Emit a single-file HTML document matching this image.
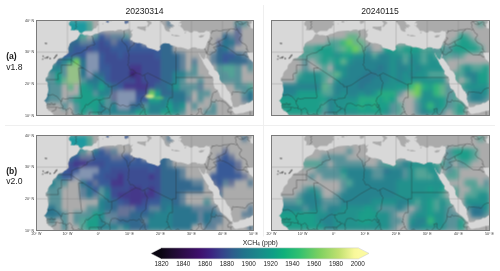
<!DOCTYPE html><html><head><meta charset="utf-8"><style>html,body{margin:0;padding:0;background:#fff;width:500px;height:271px;overflow:hidden}svg{display:block;will-change:transform}</style></head><body>
<svg width="500" height="271" viewBox="0 0 500 271">
<rect width="500" height="271" fill="#fff"/>
<defs>
<clipPath id="land_a"><path clip-rule="evenodd" d="M6.20 31.00 L5.92 30.11 L5.67 29.98 L5.42 29.79 L5.16 29.12 L4.87 28.96 L4.34 28.54 L3.91 28.48 L3.68 28.19 L3.69 28.04 L3.39 27.83 L3.32 27.62 L3.16 26.85 L3.29 26.41 L2.87 25.63 L2.38 25.27 L2.82 25.08 L3.30 24.38 L3.54 23.86 L3.45 23.33 L3.73 22.83 L3.85 21.89 L3.74 20.90 L3.62 20.41 L3.72 19.91 L3.46 19.43 L2.94 19.00 L3.03 18.11 L3.41 17.84 L3.74 17.32 L3.67 16.98 L4.02 16.28 L4.57 15.64 L4.91 15.48 L5.18 14.90 L5.20 14.36 L5.56 13.75 L6.23 13.38 L6.86 12.36 L7.38 11.96 L8.31 11.85 L9.10 11.17 L9.60 10.90 L10.44 10.07 L10.19 8.82 L10.56 7.96 L10.70 7.44 L11.34 6.76 L12.35 6.30 L13.09 5.89 L13.76 4.85 L14.07 4.24 L14.81 4.24 L15.41 4.67 L16.36 4.60 L17.40 4.82 L17.83 4.83 L18.79 4.28 L19.87 4.11 L20.50 3.70 L21.47 3.39 L23.16 3.22 L24.82 3.13 L25.32 3.28 L26.26 2.89 L27.33 2.88 L27.74 3.11 L28.42 3.05 L29.51 2.65 L30.21 2.77 L30.18 3.28 L31.03 2.91 L31.10 3.10 L30.60 3.59 L30.59 4.05 L30.94 4.30 L30.81 5.17 L30.15 5.67 L30.34 6.21 L30.86 6.23 L31.11 6.71 L31.49 6.86 L32.66 7.21 L33.08 7.12 L33.92 7.29 L35.25 7.73 L35.71 8.62 L36.61 8.82 L38.02 9.24 L39.09 9.73 L39.57 9.47 L40.05 9.01 L39.82 8.25 L40.13 7.76 L40.86 7.29 L41.54 7.16 L42.90 7.36 L43.24 7.81 L43.61 7.81 L43.93 7.98 L44.92 8.10 L45.16 8.43 L46.50 8.41 L47.46 8.68 L48.45 8.97 L48.91 9.13 L49.68 8.81 L50.09 8.53 L50.98 8.44 L51.69 8.57 L51.96 9.07 L52.19 8.74 L52.99 8.98 L53.77 9.03 L54.27 8.78 L54.56 8.45 L54.49 8.39 L54.75 7.93 L54.95 7.17 L55.10 6.92 L55.13 6.91 L55.48 6.09 L55.98 5.39 L56.00 5.35 L55.91 4.59 L56.15 4.18 L55.78 3.73 L56.16 3.35 L55.55 3.44 L54.72 3.20 L54.03 3.78 L52.51 3.89 L51.70 3.36 L50.62 3.32 L50.39 3.74 L49.70 3.86 L48.73 3.32 L47.64 3.34 L47.05 2.35 L46.32 1.79 L46.80 1.01 L46.17 0.54 L47.28 -0.42 L47.50 -1.50 L71.50 -1.50 L71.50 31.00Z M10.50 -1.50 L11.01 -1.54 L11.21 -1.18 L11.23 -0.76 L11.02 -0.16 L10.95 0.24 L10.55 0.61 L10.47 1.26 L10.71 1.64 L11.16 1.73 L11.25 2.35 L11.10 3.13 L11.62 3.02 L12.14 3.16 L12.55 2.90 L13.48 3.06 L13.76 3.63 L14.13 3.97 L14.62 4.05 L15.00 3.67 L15.63 3.32 L16.58 3.34 L17.85 3.33 L18.56 2.56 L19.32 2.36 L19.53 1.71 L20.11 1.26 L19.72 0.69 L20.11 -0.12 L20.72 -0.68 L20.81 -1.02 L21.20 -1.50Z M22.35 0.45 L22.70 0.05 L23.20 0.05 L23.45 0.30 L23.20 0.70 L22.75 0.60Z M21.20 1.05 L21.40 0.90 L21.60 1.00 L21.40 1.15Z M23.80 0.00 L24.30 0.05 L24.20 0.20 L23.85 0.10Z M29.21 -1.21 L29.81 -0.50 L29.67 0.82 L29.21 0.76 L28.81 1.09 L28.43 0.83 L28.39 -0.38 L28.16 -0.95 L28.71 -0.90Z M35.52 1.77 L35.16 2.56 L35.31 2.87 L35.10 3.38 L34.34 3.00 L33.83 2.90 L32.43 2.39 L32.57 1.87 L33.74 1.97 L34.76 1.86Z M34.00 -1.50 L34.06 -0.79 L34.70 -0.60 L35.00 -0.17 L35.41 -0.05 L35.72 0.46 L36.11 1.03 L35.89 1.25 L35.69 1.78 L35.68 2.09 L36.10 2.01 L36.64 1.16 L37.05 1.10 L37.17 0.58 L36.45 0.20 L36.87 -0.44 L37.74 -0.28 L38.29 0.19 L38.48 -0.17 L38.00 -1.00 L37.50 -1.50Z M39.30 -1.50 L39.32 -0.73 L39.41 -0.25 L39.96 0.09 L40.15 0.38 L40.22 0.66 L40.73 1.23 L41.12 1.69 L41.30 2.35 L41.67 3.16 L42.49 3.59 L43.15 3.58 L42.77 2.70 L43.41 2.59 L43.11 2.08 L44.04 2.34 L44.02 1.78 L43.53 1.49 L42.97 1.03 L43.35 0.81 L42.85 0.34 L42.63 -0.26 L42.81 -0.48 L43.34 0.04 L43.90 0.04 L44.41 -0.12 L43.72 -0.69 L44.93 -0.95 L45.45 -0.85 L46.06 -0.82 L46.30 -0.94 L46.60 -1.50Z M42.80 1.05 L43.30 1.10 L44.10 1.35 L44.55 1.85 L44.30 2.00 L43.60 1.50 L43.10 1.25Z M43.70 4.30 L44.25 4.63 L45.02 4.58 L45.77 4.65 L45.75 4.82 L46.29 4.70 L46.16 4.99 L44.73 5.08 L44.73 4.91 L43.52 4.72Z M54.58 4.33 L53.90 4.75 L53.97 4.94 L54.01 5.02 L52.98 5.43 L52.49 5.30 L52.26 4.90 L52.73 4.86 L52.95 4.61 L53.67 4.63Z M47.70 3.85 L48.20 3.55 L48.25 3.90 L47.85 4.10Z M45.85 0.75 L46.20 0.60 L46.60 0.95 L46.00 0.90Z M45.85 1.45 L46.15 1.45 L46.00 1.80Z M46.60 2.20 L47.05 2.25 L46.90 2.35Z M52.42 10.15 L52.32 10.24 L52.73 11.30 L53.35 12.30 L54.10 13.86 L54.47 14.40 L54.80 14.97 L55.69 16.07 L55.49 16.25 L55.53 16.90 L56.69 17.80 L56.87 18.00 L57.19 18.98 L56.97 19.16 L57.12 20.19 L57.48 21.39 L57.86 21.63 L58.41 22.00 L58.99 23.16 L59.27 24.08 L59.81 24.56 L61.18 25.51 L61.73 26.08 L62.28 26.66 L62.59 27.00 L63.08 27.30 L63.32 27.61 L63.29 28.02 L62.72 28.26 L63.15 28.54 L63.47 28.72 L63.67 29.14 L64.12 29.55 L64.61 29.56 L65.56 29.30 L66.65 29.18 L67.53 28.87 L68.02 28.81 L68.38 28.62 L68.95 28.59 L69.27 28.57 L69.73 28.42 L70.26 28.32 L70.73 27.98 L71.50 28.00 L71.50 24.60 L71.17 24.82 L69.58 25.29 L68.68 26.00 L68.24 26.05 L67.94 25.99 L67.35 26.41 L66.72 26.60 L65.88 26.65 L65.62 26.71 L65.41 26.97 L65.14 27.05 L64.99 27.30 L64.50 27.28 L64.17 27.41 L63.48 27.36 L63.22 26.78 L63.25 26.23 L63.09 25.94 L62.89 25.20 L62.60 24.79 L62.80 24.74 L62.70 24.28 L62.82 24.09 L62.78 23.65 L62.65 23.23 L62.35 22.92 L62.27 22.52 L61.75 22.17 L61.22 21.33 L60.94 20.51 L60.25 19.82 L59.80 19.66 L59.14 18.71 L59.02 18.01 L59.07 17.42 L58.49 16.31 L58.02 15.92 L57.48 15.71 L57.16 15.14 L57.21 14.91 L56.93 14.40 L56.64 14.17 L56.25 13.43 L55.64 12.62 L55.13 11.94 L54.63 11.94 L54.79 11.39 L54.83 11.04 L54.96 10.64 L54.92 10.50 L54.64 10.90 L54.43 11.66 L54.16 12.18 L53.92 12.35 L53.59 12.03 L53.14 11.58Z M67.97 10.02 L68.18 10.47 L68.09 10.69 L68.42 11.45 L68.81 12.31 L69.30 12.54 L69.47 12.89 L70.15 13.31 L70.21 13.72 L70.11 14.06 L70.24 14.39 L70.53 14.67 L70.66 15.00 L70.81 15.25 L71.50 15.40 L71.50 10.50 L70.85 11.18 L70.12 9.85 L69.58 10.01 L68.57 10.07Z M69.11 -1.28 L69.62 -0.57 L70.09 -0.53 L70.39 -0.26 L69.57 -0.18 L69.40 0.60 L69.22 0.95 L68.86 1.19 L68.88 1.68 L69.20 2.42 L70.15 2.62 L70.84 3.13 L71.50 3.20 L71.50 -1.50 L69.00 -1.50Z"/></clipPath>
<filter id="soft2" x="-1" y="-1" width="3" height="3"><feGaussianBlur stdDeviation="0.3"/></filter>
<filter id="soft" x="-0.05" y="-0.05" width="1.1" height="1.1"><feGaussianBlur stdDeviation="0.6"/></filter>
<linearGradient id="cbar" x1="0" y1="0" x2="1" y2="0">
<stop offset="0.0000" stop-color="#0a0612"/>
<stop offset="0.0556" stop-color="#1c0a2e"/>
<stop offset="0.1111" stop-color="#2c0b47"/>
<stop offset="0.1944" stop-color="#3e0f6c"/>
<stop offset="0.2500" stop-color="#3c2280"/>
<stop offset="0.3056" stop-color="#37408a"/>
<stop offset="0.3611" stop-color="#2d5c8c"/>
<stop offset="0.4167" stop-color="#21728b"/>
<stop offset="0.5000" stop-color="#1a8a8a"/>
<stop offset="0.5667" stop-color="#0e9e86"/>
<stop offset="0.6222" stop-color="#0fb07a"/>
<stop offset="0.7000" stop-color="#30c070"/>
<stop offset="0.8000" stop-color="#7cd060"/>
<stop offset="0.9000" stop-color="#c0e070"/>
<stop offset="0.9778" stop-color="#f8f89a"/>
<stop offset="1.0000" stop-color="#fbfaa0"/>
</linearGradient>
</defs>
<svg x="36.5" y="20.5" width="217.0" height="95.0" viewBox="0 0 70 30" preserveAspectRatio="none" overflow="hidden">
<rect x="0" y="0" width="70" height="30" fill="#d8d8d8"/>
<g fill="#ababab">
<polygon points="6.20,31.00 5.92,30.11 5.67,29.98 5.42,29.79 5.16,29.12 4.87,28.96 4.34,28.54 3.91,28.48 3.68,28.19 3.69,28.04 3.39,27.83 3.32,27.62 3.16,26.85 3.29,26.41 2.87,25.63 2.38,25.27 2.82,25.08 3.30,24.38 3.54,23.86 3.45,23.33 3.73,22.83 3.85,21.89 3.74,20.90 3.62,20.41 3.72,19.91 3.46,19.43 2.94,19.00 3.03,18.11 3.41,17.84 3.74,17.32 3.67,16.98 4.02,16.28 4.57,15.64 4.91,15.48 5.18,14.90 5.20,14.36 5.56,13.75 6.23,13.38 6.86,12.36 7.38,11.96 8.31,11.85 9.10,11.17 9.60,10.90 10.44,10.07 10.19,8.82 10.56,7.96 10.70,7.44 11.34,6.76 12.35,6.30 13.09,5.89 13.76,4.85 14.07,4.24 14.81,4.24 15.41,4.67 16.36,4.60 17.40,4.82 17.83,4.83 18.79,4.28 19.87,4.11 20.50,3.70 21.47,3.39 23.16,3.22 24.82,3.13 25.32,3.28 26.26,2.89 27.33,2.88 27.74,3.11 28.42,3.05 29.51,2.65 30.21,2.77 30.18,3.28 31.03,2.91 31.10,3.10 30.60,3.59 30.59,4.05 30.94,4.30 30.81,5.17 30.15,5.67 30.34,6.21 30.86,6.23 31.11,6.71 31.49,6.86 32.66,7.21 33.08,7.12 33.92,7.29 35.25,7.73 35.71,8.62 36.61,8.82 38.02,9.24 39.09,9.73 39.57,9.47 40.05,9.01 39.82,8.25 40.13,7.76 40.86,7.29 41.54,7.16 42.90,7.36 43.24,7.81 43.61,7.81 43.93,7.98 44.92,8.10 45.16,8.43 46.50,8.41 47.46,8.68 48.45,8.97 48.91,9.13 49.68,8.81 50.09,8.53 50.98,8.44 51.69,8.57 51.96,9.07 52.19,8.74 52.99,8.98 53.77,9.03 54.27,8.78 54.56,8.45 54.49,8.39 54.75,7.93 54.95,7.17 55.10,6.92 55.13,6.91 55.48,6.09 55.98,5.39 56.00,5.35 55.91,4.59 56.15,4.18 55.78,3.73 56.16,3.35 55.55,3.44 54.72,3.20 54.03,3.78 52.51,3.89 51.70,3.36 50.62,3.32 50.39,3.74 49.70,3.86 48.73,3.32 47.64,3.34 47.05,2.35 46.32,1.79 46.80,1.01 46.17,0.54 47.28,-0.42 47.50,-1.50 71.50,-1.50 71.50,31.00"/>
<polygon points="10.50,-1.50 11.01,-1.54 11.21,-1.18 11.23,-0.76 11.02,-0.16 10.95,0.24 10.55,0.61 10.47,1.26 10.71,1.64 11.16,1.73 11.25,2.35 11.10,3.13 11.62,3.02 12.14,3.16 12.55,2.90 13.48,3.06 13.76,3.63 14.13,3.97 14.62,4.05 15.00,3.67 15.63,3.32 16.58,3.34 17.85,3.33 18.56,2.56 19.32,2.36 19.53,1.71 20.11,1.26 19.72,0.69 20.11,-0.12 20.72,-0.68 20.81,-1.02 21.20,-1.50"/>
<polygon points="22.35,0.45 22.70,0.05 23.20,0.05 23.45,0.30 23.20,0.70 22.75,0.60"/>
<polygon points="21.20,1.05 21.40,0.90 21.60,1.00 21.40,1.15"/>
<polygon points="23.80,0.00 24.30,0.05 24.20,0.20 23.85,0.10"/>
<polygon points="29.21,-1.21 29.81,-0.50 29.67,0.82 29.21,0.76 28.81,1.09 28.43,0.83 28.39,-0.38 28.16,-0.95 28.71,-0.90"/>
<polygon points="35.52,1.77 35.16,2.56 35.31,2.87 35.10,3.38 34.34,3.00 33.83,2.90 32.43,2.39 32.57,1.87 33.74,1.97 34.76,1.86"/>
<polygon points="34.00,-1.50 34.06,-0.79 34.70,-0.60 35.00,-0.17 35.41,-0.05 35.72,0.46 36.11,1.03 35.89,1.25 35.69,1.78 35.68,2.09 36.10,2.01 36.64,1.16 37.05,1.10 37.17,0.58 36.45,0.20 36.87,-0.44 37.74,-0.28 38.29,0.19 38.48,-0.17 38.00,-1.00 37.50,-1.50"/>
<polygon points="39.30,-1.50 39.32,-0.73 39.41,-0.25 39.96,0.09 40.15,0.38 40.22,0.66 40.73,1.23 41.12,1.69 41.30,2.35 41.67,3.16 42.49,3.59 43.15,3.58 42.77,2.70 43.41,2.59 43.11,2.08 44.04,2.34 44.02,1.78 43.53,1.49 42.97,1.03 43.35,0.81 42.85,0.34 42.63,-0.26 42.81,-0.48 43.34,0.04 43.90,0.04 44.41,-0.12 43.72,-0.69 44.93,-0.95 45.45,-0.85 46.06,-0.82 46.30,-0.94 46.60,-1.50"/>
<polygon points="42.80,1.05 43.30,1.10 44.10,1.35 44.55,1.85 44.30,2.00 43.60,1.50 43.10,1.25"/>
<polygon points="43.70,4.30 44.25,4.63 45.02,4.58 45.77,4.65 45.75,4.82 46.29,4.70 46.16,4.99 44.73,5.08 44.73,4.91 43.52,4.72"/>
<polygon points="54.58,4.33 53.90,4.75 53.97,4.94 54.01,5.02 52.98,5.43 52.49,5.30 52.26,4.90 52.73,4.86 52.95,4.61 53.67,4.63"/>
<polygon points="47.70,3.85 48.20,3.55 48.25,3.90 47.85,4.10"/>
<polygon points="45.85,0.75 46.20,0.60 46.60,0.95 46.00,0.90"/>
<polygon points="45.85,1.45 46.15,1.45 46.00,1.80"/>
<polygon points="46.60,2.20 47.05,2.25 46.90,2.35"/>
</g>
<g fill="#d8d8d8">
<polygon points="52.42,10.15 52.32,10.24 52.73,11.30 53.35,12.30 54.10,13.86 54.47,14.40 54.80,14.97 55.69,16.07 55.49,16.25 55.53,16.90 56.69,17.80 56.87,18.00 57.19,18.98 56.97,19.16 57.12,20.19 57.48,21.39 57.86,21.63 58.41,22.00 58.99,23.16 59.27,24.08 59.81,24.56 61.18,25.51 61.73,26.08 62.28,26.66 62.59,27.00 63.08,27.30 63.32,27.61 63.29,28.02 62.72,28.26 63.15,28.54 63.47,28.72 63.67,29.14 64.12,29.55 64.61,29.56 65.56,29.30 66.65,29.18 67.53,28.87 68.02,28.81 68.38,28.62 68.95,28.59 69.27,28.57 69.73,28.42 70.26,28.32 70.73,27.98 71.50,28.00 71.50,24.60 71.17,24.82 69.58,25.29 68.68,26.00 68.24,26.05 67.94,25.99 67.35,26.41 66.72,26.60 65.88,26.65 65.62,26.71 65.41,26.97 65.14,27.05 64.99,27.30 64.50,27.28 64.17,27.41 63.48,27.36 63.22,26.78 63.25,26.23 63.09,25.94 62.89,25.20 62.60,24.79 62.80,24.74 62.70,24.28 62.82,24.09 62.78,23.65 62.65,23.23 62.35,22.92 62.27,22.52 61.75,22.17 61.22,21.33 60.94,20.51 60.25,19.82 59.80,19.66 59.14,18.71 59.02,18.01 59.07,17.42 58.49,16.31 58.02,15.92 57.48,15.71 57.16,15.14 57.21,14.91 56.93,14.40 56.64,14.17 56.25,13.43 55.64,12.62 55.13,11.94 54.63,11.94 54.79,11.39 54.83,11.04 54.96,10.64 54.92,10.50 54.64,10.90 54.43,11.66 54.16,12.18 53.92,12.35 53.59,12.03 53.14,11.58"/>
<polygon points="67.97,10.02 68.18,10.47 68.09,10.69 68.42,11.45 68.81,12.31 69.30,12.54 69.47,12.89 70.15,13.31 70.21,13.72 70.11,14.06 70.24,14.39 70.53,14.67 70.66,15.00 70.81,15.25 71.50,15.40 71.50,10.50 70.85,11.18 70.12,9.85 69.58,10.01 68.57,10.07"/>
<polygon points="69.11,-1.28 69.62,-0.57 70.09,-0.53 70.39,-0.26 69.57,-0.18 69.40,0.60 69.22,0.95 68.86,1.19 68.88,1.68 69.20,2.42 70.15,2.62 70.84,3.13 71.50,3.20 71.50,-1.50 69.00,-1.50"/>
</g>
<g fill="#8a8a8a" stroke="#666" stroke-width="0.3" vector-effect="non-scaling-stroke">
<polygon points="6.10,11.15 6.60,10.80 6.60,11.10 6.20,11.25"/>
<polygon points="5.50,11.95 5.80,11.80 6.15,11.25 6.15,11.60 5.80,11.95"/>
<polygon points="4.20,12.00 4.40,11.80 4.60,12.00 4.40,12.25"/>
<polygon points="3.10,11.65 3.60,11.45 3.85,11.45 3.50,11.95 3.20,11.90"/>
<polygon points="2.65,11.90 2.80,11.80 2.90,11.90 2.75,12.00"/>
<polygon points="2.05,11.15 2.25,11.20 2.20,11.50 2.10,11.40"/>
<polygon points="1.85,12.25 2.10,12.15 2.10,12.30"/>
<polygon points="2.75,7.20 3.05,7.15 3.35,7.25 3.05,7.35"/>
</g>
<path d="M10 0V30 M20 0V30 M30 0V30 M40 0V30 M50 0V30 M60 0V30 M0 20H70 M0 10H70" stroke="#7a7a7a" stroke-opacity="0.45" stroke-width="0.7" vector-effect="non-scaling-stroke" fill="none"/>
<g clip-path="url(#land_a)"><g filter="url(#soft)" shape-rendering="crispEdges">
<rect x="10.0" y="0.0" width="2.0" height="2.0" fill="#1f9aa0"/>
<rect x="12.0" y="0.0" width="2.0" height="2.0" fill="#1f9aa0"/>
<rect x="14.0" y="0.0" width="2.0" height="2.0" fill="#1f9aa0"/>
<rect x="16.0" y="0.0" width="2.0" height="2.0" fill="#1f9e89" fill-opacity="0.62"/>
<rect x="22.0" y="0.0" width="2.0" height="2.0" fill="#385a98"/>
<rect x="28.0" y="0.0" width="2.0" height="2.0" fill="#385a98"/>
<rect x="42.0" y="0.0" width="2.0" height="2.0" fill="#31688e" fill-opacity="0.62"/>
<rect x="64.0" y="0.0" width="2.0" height="2.0" fill="#26828e" fill-opacity="0.62"/>
<rect x="66.0" y="0.0" width="2.0" height="2.0" fill="#26828e" fill-opacity="0.62"/>
<rect x="10.0" y="2.0" width="2.0" height="2.0" fill="#1f9aa0"/>
<rect x="12.0" y="2.0" width="2.0" height="2.0" fill="#1f9aa0"/>
<rect x="14.0" y="2.0" width="2.0" height="2.0" fill="#1f9aa0"/>
<rect x="16.0" y="2.0" width="2.0" height="2.0" fill="#1f9e89" fill-opacity="0.62"/>
<rect x="64.0" y="2.0" width="2.0" height="2.0" fill="#3c508b" fill-opacity="0.62"/>
<rect x="12.0" y="4.0" width="2.0" height="2.0" fill="#26828e"/>
<rect x="14.0" y="4.0" width="2.0" height="2.0" fill="#1f9e89" fill-opacity="0.62"/>
<rect x="18.0" y="4.0" width="2.0" height="2.0" fill="#26828e" fill-opacity="0.62"/>
<rect x="20.0" y="4.0" width="2.0" height="2.0" fill="#385a98"/>
<rect x="22.0" y="4.0" width="2.0" height="2.0" fill="#3c508b" fill-opacity="0.62"/>
<rect x="24.0" y="4.0" width="2.0" height="2.0" fill="#31688e" fill-opacity="0.62"/>
<rect x="26.0" y="4.0" width="2.0" height="2.0" fill="#31688e" fill-opacity="0.62"/>
<rect x="28.0" y="4.0" width="2.0" height="2.0" fill="#26828e" fill-opacity="0.62"/>
<rect x="60.0" y="4.0" width="2.0" height="2.0" fill="#31688e"/>
<rect x="62.0" y="4.0" width="2.0" height="2.0" fill="#31688e" fill-opacity="0.62"/>
<rect x="64.0" y="4.0" width="2.0" height="2.0" fill="#3c508b" fill-opacity="0.62"/>
<rect x="10.0" y="6.0" width="2.0" height="2.0" fill="#31688e"/>
<rect x="12.0" y="6.0" width="2.0" height="2.0" fill="#31688e"/>
<rect x="14.0" y="6.0" width="2.0" height="2.0" fill="#31688e" fill-opacity="0.62"/>
<rect x="16.0" y="6.0" width="2.0" height="2.0" fill="#31688e" fill-opacity="0.62"/>
<rect x="18.0" y="6.0" width="2.0" height="2.0" fill="#385a98"/>
<rect x="20.0" y="6.0" width="2.0" height="2.0" fill="#3c4d92"/>
<rect x="22.0" y="6.0" width="2.0" height="2.0" fill="#385a98"/>
<rect x="24.0" y="6.0" width="2.0" height="2.0" fill="#3c508b" fill-opacity="0.62"/>
<rect x="26.0" y="6.0" width="2.0" height="2.0" fill="#385a98"/>
<rect x="28.0" y="6.0" width="2.0" height="2.0" fill="#385a98"/>
<rect x="30.0" y="6.0" width="2.0" height="2.0" fill="#3c508b" fill-opacity="0.62"/>
<rect x="32.0" y="6.0" width="2.0" height="2.0" fill="#385a98"/>
<rect x="40.0" y="6.0" width="2.0" height="2.0" fill="#31688e"/>
<rect x="42.0" y="6.0" width="2.0" height="2.0" fill="#31688e"/>
<rect x="58.0" y="6.0" width="2.0" height="2.0" fill="#3c508b" fill-opacity="0.62"/>
<rect x="60.0" y="6.0" width="2.0" height="2.0" fill="#2b758e"/>
<rect x="62.0" y="6.0" width="2.0" height="2.0" fill="#2b758e"/>
<rect x="64.0" y="6.0" width="2.0" height="2.0" fill="#3c508b" fill-opacity="0.62"/>
<rect x="10.0" y="8.0" width="2.0" height="2.0" fill="#31688e"/>
<rect x="12.0" y="8.0" width="2.0" height="2.0" fill="#385a98"/>
<rect x="14.0" y="8.0" width="2.0" height="2.0" fill="#385a98"/>
<rect x="16.0" y="8.0" width="2.0" height="2.0" fill="#3c4d92"/>
<rect x="18.0" y="8.0" width="2.0" height="2.0" fill="#385a98"/>
<rect x="20.0" y="8.0" width="2.0" height="2.0" fill="#3c4d92"/>
<rect x="22.0" y="8.0" width="2.0" height="2.0" fill="#3c4d92"/>
<rect x="24.0" y="8.0" width="2.0" height="2.0" fill="#385a98"/>
<rect x="26.0" y="8.0" width="2.0" height="2.0" fill="#385a98"/>
<rect x="28.0" y="8.0" width="2.0" height="2.0" fill="#385a98"/>
<rect x="30.0" y="8.0" width="2.0" height="2.0" fill="#385a98"/>
<rect x="32.0" y="8.0" width="2.0" height="2.0" fill="#385a98"/>
<rect x="34.0" y="8.0" width="2.0" height="2.0" fill="#385a98"/>
<rect x="36.0" y="8.0" width="2.0" height="2.0" fill="#385a98"/>
<rect x="38.0" y="8.0" width="2.0" height="2.0" fill="#385a98"/>
<rect x="40.0" y="8.0" width="2.0" height="2.0" fill="#31688e"/>
<rect x="42.0" y="8.0" width="2.0" height="2.0" fill="#31688e"/>
<rect x="58.0" y="8.0" width="2.0" height="2.0" fill="#31688e"/>
<rect x="60.0" y="8.0" width="2.0" height="2.0" fill="#2b758e"/>
<rect x="62.0" y="8.0" width="2.0" height="2.0" fill="#31688e" fill-opacity="0.62"/>
<rect x="8.0" y="10.0" width="2.0" height="2.0" fill="#385a98"/>
<rect x="10.0" y="10.0" width="2.0" height="2.0" fill="#385a98"/>
<rect x="12.0" y="10.0" width="2.0" height="2.0" fill="#385a98"/>
<rect x="14.0" y="10.0" width="2.0" height="2.0" fill="#385a98"/>
<rect x="16.0" y="10.0" width="2.0" height="2.0" fill="#8394b1"/>
<rect x="18.0" y="10.0" width="2.0" height="2.0" fill="#8394b1"/>
<rect x="20.0" y="10.0" width="2.0" height="2.0" fill="#385a98"/>
<rect x="22.0" y="10.0" width="2.0" height="2.0" fill="#3c4d92"/>
<rect x="24.0" y="10.0" width="2.0" height="2.0" fill="#3c4d92"/>
<rect x="26.0" y="10.0" width="2.0" height="2.0" fill="#385a98"/>
<rect x="28.0" y="10.0" width="2.0" height="2.0" fill="#3c4d92"/>
<rect x="30.0" y="10.0" width="2.0" height="2.0" fill="#3c4d92"/>
<rect x="32.0" y="10.0" width="2.0" height="2.0" fill="#3c4d92"/>
<rect x="34.0" y="10.0" width="2.0" height="2.0" fill="#3c4d92"/>
<rect x="36.0" y="10.0" width="2.0" height="2.0" fill="#3c4d92"/>
<rect x="38.0" y="10.0" width="2.0" height="2.0" fill="#385a98"/>
<rect x="40.0" y="10.0" width="2.0" height="2.0" fill="#31688e"/>
<rect x="42.0" y="10.0" width="2.0" height="2.0" fill="#31688e"/>
<rect x="44.0" y="10.0" width="2.0" height="2.0" fill="#31688e"/>
<rect x="46.0" y="10.0" width="2.0" height="2.0" fill="#31688e" fill-opacity="0.62"/>
<rect x="56.0" y="10.0" width="2.0" height="2.0" fill="#31688e" fill-opacity="0.62"/>
<rect x="58.0" y="10.0" width="2.0" height="2.0" fill="#31688e"/>
<rect x="60.0" y="10.0" width="2.0" height="2.0" fill="#385a98"/>
<rect x="62.0" y="10.0" width="2.0" height="2.0" fill="#385a98"/>
<rect x="64.0" y="10.0" width="2.0" height="2.0" fill="#31688e"/>
<rect x="66.0" y="10.0" width="2.0" height="2.0" fill="#31688e" fill-opacity="0.62"/>
<rect x="6.0" y="12.0" width="2.0" height="2.0" fill="#31688e"/>
<rect x="8.0" y="12.0" width="2.0" height="2.0" fill="#26828e"/>
<rect x="10.0" y="12.0" width="2.0" height="2.0" fill="#1f9e89"/>
<rect x="12.0" y="12.0" width="2.0" height="2.0" fill="#6ece58"/>
<rect x="14.0" y="12.0" width="2.0" height="2.0" fill="#2b758e"/>
<rect x="16.0" y="12.0" width="2.0" height="2.0" fill="#8394b1"/>
<rect x="18.0" y="12.0" width="2.0" height="2.0" fill="#8394b1"/>
<rect x="20.0" y="12.0" width="2.0" height="2.0" fill="#385a98"/>
<rect x="22.0" y="12.0" width="2.0" height="2.0" fill="#3c4d92"/>
<rect x="24.0" y="12.0" width="2.0" height="2.0" fill="#3c4d92"/>
<rect x="26.0" y="12.0" width="2.0" height="2.0" fill="#3c4d92"/>
<rect x="28.0" y="12.0" width="2.0" height="2.0" fill="#3c4d92"/>
<rect x="30.0" y="12.0" width="2.0" height="2.0" fill="#3c4d92"/>
<rect x="32.0" y="12.0" width="2.0" height="2.0" fill="#3c4d92"/>
<rect x="34.0" y="12.0" width="2.0" height="2.0" fill="#3c4d92"/>
<rect x="36.0" y="12.0" width="2.0" height="2.0" fill="#3c4d92"/>
<rect x="38.0" y="12.0" width="2.0" height="2.0" fill="#3c4d92"/>
<rect x="40.0" y="12.0" width="2.0" height="2.0" fill="#31688e"/>
<rect x="42.0" y="12.0" width="2.0" height="2.0" fill="#31688e"/>
<rect x="44.0" y="12.0" width="2.0" height="2.0" fill="#31688e"/>
<rect x="46.0" y="12.0" width="2.0" height="2.0" fill="#31688e" fill-opacity="0.62"/>
<rect x="50.0" y="12.0" width="2.0" height="2.0" fill="#31688e" fill-opacity="0.62"/>
<rect x="56.0" y="12.0" width="2.0" height="2.0" fill="#31688e" fill-opacity="0.62"/>
<rect x="58.0" y="12.0" width="2.0" height="2.0" fill="#31688e"/>
<rect x="60.0" y="12.0" width="2.0" height="2.0" fill="#385a98"/>
<rect x="62.0" y="12.0" width="2.0" height="2.0" fill="#31688e"/>
<rect x="64.0" y="12.0" width="2.0" height="2.0" fill="#31688e"/>
<rect x="66.0" y="12.0" width="2.0" height="2.0" fill="#31688e"/>
<rect x="68.0" y="12.0" width="2.0" height="2.0" fill="#31688e" fill-opacity="0.62"/>
<rect x="4.0" y="14.0" width="2.0" height="2.0" fill="#26828e"/>
<rect x="6.0" y="14.0" width="2.0" height="2.0" fill="#26828e"/>
<rect x="8.0" y="14.0" width="2.0" height="2.0" fill="#26828e" fill-opacity="0.62"/>
<rect x="10.0" y="14.0" width="2.0" height="2.0" fill="#95c187"/>
<rect x="12.0" y="14.0" width="2.0" height="2.0" fill="#95c187"/>
<rect x="14.0" y="14.0" width="2.0" height="2.0" fill="#2b758e"/>
<rect x="16.0" y="14.0" width="2.0" height="2.0" fill="#8394b1"/>
<rect x="18.0" y="14.0" width="2.0" height="2.0" fill="#8394b1"/>
<rect x="20.0" y="14.0" width="2.0" height="2.0" fill="#385a98"/>
<rect x="22.0" y="14.0" width="2.0" height="2.0" fill="#385a98"/>
<rect x="24.0" y="14.0" width="2.0" height="2.0" fill="#3c4d92"/>
<rect x="26.0" y="14.0" width="2.0" height="2.0" fill="#3c4d92"/>
<rect x="28.0" y="14.0" width="2.0" height="2.0" fill="#3c4d92"/>
<rect x="30.0" y="14.0" width="2.0" height="2.0" fill="#44378a"/>
<rect x="32.0" y="14.0" width="2.0" height="2.0" fill="#44378a"/>
<rect x="34.0" y="14.0" width="2.0" height="2.0" fill="#3c4d92"/>
<rect x="36.0" y="14.0" width="2.0" height="2.0" fill="#3c4d92"/>
<rect x="38.0" y="14.0" width="2.0" height="2.0" fill="#3c4d92"/>
<rect x="40.0" y="14.0" width="2.0" height="2.0" fill="#31688e"/>
<rect x="42.0" y="14.0" width="2.0" height="2.0" fill="#31688e"/>
<rect x="44.0" y="14.0" width="2.0" height="2.0" fill="#31688e"/>
<rect x="46.0" y="14.0" width="2.0" height="2.0" fill="#31688e" fill-opacity="0.62"/>
<rect x="50.0" y="14.0" width="2.0" height="2.0" fill="#26828e" fill-opacity="0.62"/>
<rect x="58.0" y="14.0" width="2.0" height="2.0" fill="#26828e" fill-opacity="0.62"/>
<rect x="60.0" y="14.0" width="2.0" height="2.0" fill="#1f9e89" fill-opacity="0.62"/>
<rect x="62.0" y="14.0" width="2.0" height="2.0" fill="#1f9e89" fill-opacity="0.62"/>
<rect x="64.0" y="14.0" width="2.0" height="2.0" fill="#26828e" fill-opacity="0.62"/>
<rect x="68.0" y="14.0" width="2.0" height="2.0" fill="#26828e" fill-opacity="0.62"/>
<rect x="4.0" y="16.0" width="2.0" height="2.0" fill="#26828e" fill-opacity="0.62"/>
<rect x="6.0" y="16.0" width="2.0" height="2.0" fill="#1f9e89"/>
<rect x="8.0" y="16.0" width="2.0" height="2.0" fill="#26828e" fill-opacity="0.62"/>
<rect x="10.0" y="16.0" width="2.0" height="2.0" fill="#95c187"/>
<rect x="12.0" y="16.0" width="2.0" height="2.0" fill="#95c187"/>
<rect x="14.0" y="16.0" width="2.0" height="2.0" fill="#2b758e"/>
<rect x="16.0" y="16.0" width="2.0" height="2.0" fill="#8394b1"/>
<rect x="18.0" y="16.0" width="2.0" height="2.0" fill="#2b758e"/>
<rect x="20.0" y="16.0" width="2.0" height="2.0" fill="#31688e"/>
<rect x="22.0" y="16.0" width="2.0" height="2.0" fill="#385a98"/>
<rect x="24.0" y="16.0" width="2.0" height="2.0" fill="#3c4d92"/>
<rect x="26.0" y="16.0" width="2.0" height="2.0" fill="#3c4d92"/>
<rect x="28.0" y="16.0" width="2.0" height="2.0" fill="#3c4d92"/>
<rect x="30.0" y="16.0" width="2.0" height="2.0" fill="#3b1f6e"/>
<rect x="32.0" y="16.0" width="2.0" height="2.0" fill="#44378a"/>
<rect x="34.0" y="16.0" width="2.0" height="2.0" fill="#3c4d92"/>
<rect x="36.0" y="16.0" width="2.0" height="2.0" fill="#3c4d92"/>
<rect x="38.0" y="16.0" width="2.0" height="2.0" fill="#3c4d92"/>
<rect x="40.0" y="16.0" width="2.0" height="2.0" fill="#31688e"/>
<rect x="42.0" y="16.0" width="2.0" height="2.0" fill="#31688e"/>
<rect x="44.0" y="16.0" width="2.0" height="2.0" fill="#26828e"/>
<rect x="46.0" y="16.0" width="2.0" height="2.0" fill="#26828e"/>
<rect x="48.0" y="16.0" width="2.0" height="2.0" fill="#26828e" fill-opacity="0.62"/>
<rect x="50.0" y="16.0" width="2.0" height="2.0" fill="#26828e" fill-opacity="0.62"/>
<rect x="58.0" y="16.0" width="2.0" height="2.0" fill="#26828e" fill-opacity="0.62"/>
<rect x="60.0" y="16.0" width="2.0" height="2.0" fill="#26828e" fill-opacity="0.62"/>
<rect x="62.0" y="16.0" width="2.0" height="2.0" fill="#1f9e89" fill-opacity="0.62"/>
<rect x="64.0" y="16.0" width="2.0" height="2.0" fill="#26828e" fill-opacity="0.62"/>
<rect x="2.0" y="18.0" width="2.0" height="2.0" fill="#26828e" fill-opacity="0.62"/>
<rect x="4.0" y="18.0" width="2.0" height="2.0" fill="#26828e" fill-opacity="0.62"/>
<rect x="6.0" y="18.0" width="2.0" height="2.0" fill="#1f9e89"/>
<rect x="8.0" y="18.0" width="2.0" height="2.0" fill="#35b779" fill-opacity="0.62"/>
<rect x="10.0" y="18.0" width="2.0" height="2.0" fill="#95c187"/>
<rect x="12.0" y="18.0" width="2.0" height="2.0" fill="#95c187"/>
<rect x="14.0" y="18.0" width="2.0" height="2.0" fill="#26828e" fill-opacity="0.62"/>
<rect x="16.0" y="18.0" width="2.0" height="2.0" fill="#2b758e"/>
<rect x="18.0" y="18.0" width="2.0" height="2.0" fill="#2b758e"/>
<rect x="20.0" y="18.0" width="2.0" height="2.0" fill="#26828e"/>
<rect x="22.0" y="18.0" width="2.0" height="2.0" fill="#385a98"/>
<rect x="24.0" y="18.0" width="2.0" height="2.0" fill="#3c4d92"/>
<rect x="26.0" y="18.0" width="2.0" height="2.0" fill="#3c4d92"/>
<rect x="28.0" y="18.0" width="2.0" height="2.0" fill="#3c4d92"/>
<rect x="30.0" y="18.0" width="2.0" height="2.0" fill="#3c4d92"/>
<rect x="32.0" y="18.0" width="2.0" height="2.0" fill="#44378a"/>
<rect x="34.0" y="18.0" width="2.0" height="2.0" fill="#3c4d92"/>
<rect x="36.0" y="18.0" width="2.0" height="2.0" fill="#3c4d92"/>
<rect x="38.0" y="18.0" width="2.0" height="2.0" fill="#3c4d92"/>
<rect x="40.0" y="18.0" width="2.0" height="2.0" fill="#31688e"/>
<rect x="42.0" y="18.0" width="2.0" height="2.0" fill="#31688e"/>
<rect x="44.0" y="18.0" width="2.0" height="2.0" fill="#26828e"/>
<rect x="46.0" y="18.0" width="2.0" height="2.0" fill="#26828e" fill-opacity="0.62"/>
<rect x="52.0" y="18.0" width="2.0" height="2.0" fill="#26828e" fill-opacity="0.62"/>
<rect x="58.0" y="18.0" width="2.0" height="2.0" fill="#26828e" fill-opacity="0.62"/>
<rect x="60.0" y="18.0" width="2.0" height="2.0" fill="#26828e" fill-opacity="0.62"/>
<rect x="62.0" y="18.0" width="2.0" height="2.0" fill="#26828e" fill-opacity="0.62"/>
<rect x="64.0" y="18.0" width="2.0" height="2.0" fill="#26828e" fill-opacity="0.62"/>
<rect x="2.0" y="20.0" width="2.0" height="2.0" fill="#2b758e"/>
<rect x="4.0" y="20.0" width="2.0" height="2.0" fill="#26828e" fill-opacity="0.62"/>
<rect x="6.0" y="20.0" width="2.0" height="2.0" fill="#26828e" fill-opacity="0.62"/>
<rect x="10.0" y="20.0" width="2.0" height="2.0" fill="#35b779" fill-opacity="0.62"/>
<rect x="14.0" y="20.0" width="2.0" height="2.0" fill="#1f9e89"/>
<rect x="16.0" y="20.0" width="2.0" height="2.0" fill="#21918c"/>
<rect x="18.0" y="20.0" width="2.0" height="2.0" fill="#26828e"/>
<rect x="20.0" y="20.0" width="2.0" height="2.0" fill="#1f9e89"/>
<rect x="22.0" y="20.0" width="2.0" height="2.0" fill="#26828e"/>
<rect x="24.0" y="20.0" width="2.0" height="2.0" fill="#31688e"/>
<rect x="26.0" y="20.0" width="2.0" height="2.0" fill="#385a98"/>
<rect x="28.0" y="20.0" width="2.0" height="2.0" fill="#44378a"/>
<rect x="30.0" y="20.0" width="2.0" height="2.0" fill="#44378a"/>
<rect x="32.0" y="20.0" width="2.0" height="2.0" fill="#44378a"/>
<rect x="34.0" y="20.0" width="2.0" height="2.0" fill="#44378a"/>
<rect x="36.0" y="20.0" width="2.0" height="2.0" fill="#3c4d92"/>
<rect x="38.0" y="20.0" width="2.0" height="2.0" fill="#31688e"/>
<rect x="40.0" y="20.0" width="2.0" height="2.0" fill="#31688e"/>
<rect x="42.0" y="20.0" width="2.0" height="2.0" fill="#2b758e"/>
<rect x="44.0" y="20.0" width="2.0" height="2.0" fill="#21918c"/>
<rect x="46.0" y="20.0" width="2.0" height="2.0" fill="#26828e" fill-opacity="0.62"/>
<rect x="48.0" y="20.0" width="2.0" height="2.0" fill="#26828e" fill-opacity="0.62"/>
<rect x="50.0" y="20.0" width="2.0" height="2.0" fill="#26828e" fill-opacity="0.62"/>
<rect x="52.0" y="20.0" width="2.0" height="2.0" fill="#31688e" fill-opacity="0.62"/>
<rect x="64.0" y="20.0" width="2.0" height="2.0" fill="#26828e" fill-opacity="0.62"/>
<rect x="66.0" y="20.0" width="2.0" height="2.0" fill="#26828e" fill-opacity="0.62"/>
<rect x="68.0" y="20.0" width="2.0" height="2.0" fill="#1f9e89" fill-opacity="0.62"/>
<rect x="2.0" y="22.0" width="2.0" height="2.0" fill="#2b758e"/>
<rect x="4.0" y="22.0" width="2.0" height="2.0" fill="#26828e" fill-opacity="0.62"/>
<rect x="6.0" y="22.0" width="2.0" height="2.0" fill="#26828e" fill-opacity="0.62"/>
<rect x="14.0" y="22.0" width="2.0" height="2.0" fill="#1f9e89"/>
<rect x="16.0" y="22.0" width="2.0" height="2.0" fill="#1f9e89"/>
<rect x="18.0" y="22.0" width="2.0" height="2.0" fill="#26828e" fill-opacity="0.62"/>
<rect x="20.0" y="22.0" width="2.0" height="2.0" fill="#26828e"/>
<rect x="22.0" y="22.0" width="2.0" height="2.0" fill="#26828e"/>
<rect x="24.0" y="22.0" width="2.0" height="2.0" fill="#3c508b" fill-opacity="0.62"/>
<rect x="26.0" y="22.0" width="2.0" height="2.0" fill="#8394b1"/>
<rect x="28.0" y="22.0" width="2.0" height="2.0" fill="#8394b1"/>
<rect x="30.0" y="22.0" width="2.0" height="2.0" fill="#8394b1"/>
<rect x="32.0" y="22.0" width="2.0" height="2.0" fill="#3c4d92"/>
<rect x="34.0" y="22.0" width="2.0" height="2.0" fill="#3c4d92"/>
<rect x="36.0" y="22.0" width="2.0" height="2.0" fill="#6ece58"/>
<rect x="38.0" y="22.0" width="2.0" height="2.0" fill="#1f9e89"/>
<rect x="40.0" y="22.0" width="2.0" height="2.0" fill="#31688e"/>
<rect x="42.0" y="22.0" width="2.0" height="2.0" fill="#31688e"/>
<rect x="44.0" y="22.0" width="2.0" height="2.0" fill="#2b758e"/>
<rect x="46.0" y="22.0" width="2.0" height="2.0" fill="#2b758e"/>
<rect x="48.0" y="22.0" width="2.0" height="2.0" fill="#26828e" fill-opacity="0.62"/>
<rect x="52.0" y="22.0" width="2.0" height="2.0" fill="#26828e" fill-opacity="0.62"/>
<rect x="54.0" y="22.0" width="2.0" height="2.0" fill="#26828e" fill-opacity="0.62"/>
<rect x="66.0" y="22.0" width="2.0" height="2.0" fill="#26828e" fill-opacity="0.62"/>
<rect x="68.0" y="22.0" width="2.0" height="2.0" fill="#2b758e"/>
<rect x="2.0" y="24.0" width="2.0" height="2.0" fill="#2b758e"/>
<rect x="4.0" y="24.0" width="2.0" height="2.0" fill="#26828e" fill-opacity="0.62"/>
<rect x="6.0" y="24.0" width="2.0" height="2.0" fill="#26828e" fill-opacity="0.62"/>
<rect x="10.0" y="24.0" width="2.0" height="2.0" fill="#26828e" fill-opacity="0.62"/>
<rect x="12.0" y="24.0" width="2.0" height="2.0" fill="#1f9e89"/>
<rect x="14.0" y="24.0" width="2.0" height="2.0" fill="#1f9e89"/>
<rect x="16.0" y="24.0" width="2.0" height="2.0" fill="#1f9e89"/>
<rect x="18.0" y="24.0" width="2.0" height="2.0" fill="#1f9e89"/>
<rect x="20.0" y="24.0" width="2.0" height="2.0" fill="#1f9e89"/>
<rect x="22.0" y="24.0" width="2.0" height="2.0" fill="#26828e" fill-opacity="0.62"/>
<rect x="24.0" y="24.0" width="2.0" height="2.0" fill="#3c508b" fill-opacity="0.62"/>
<rect x="26.0" y="24.0" width="2.0" height="2.0" fill="#8394b1"/>
<rect x="28.0" y="24.0" width="2.0" height="2.0" fill="#8394b1"/>
<rect x="30.0" y="24.0" width="2.0" height="2.0" fill="#8394b1"/>
<rect x="32.0" y="24.0" width="2.0" height="2.0" fill="#385a98"/>
<rect x="34.0" y="24.0" width="2.0" height="2.0" fill="#385a98"/>
<rect x="36.0" y="24.0" width="2.0" height="2.0" fill="#1f9e89"/>
<rect x="38.0" y="24.0" width="2.0" height="2.0" fill="#1f9e89"/>
<rect x="40.0" y="24.0" width="2.0" height="2.0" fill="#26828e"/>
<rect x="42.0" y="24.0" width="2.0" height="2.0" fill="#26828e"/>
<rect x="44.0" y="24.0" width="2.0" height="2.0" fill="#2b758e"/>
<rect x="46.0" y="24.0" width="2.0" height="2.0" fill="#2b758e"/>
<rect x="48.0" y="24.0" width="2.0" height="2.0" fill="#31688e" fill-opacity="0.62"/>
<rect x="52.0" y="24.0" width="2.0" height="2.0" fill="#26828e" fill-opacity="0.62"/>
<rect x="66.0" y="24.0" width="2.0" height="2.0" fill="#31688e" fill-opacity="0.62"/>
<rect x="68.0" y="24.0" width="2.0" height="2.0" fill="#2b758e"/>
<rect x="8.0" y="26.0" width="2.0" height="2.0" fill="#26828e" fill-opacity="0.62"/>
<rect x="12.0" y="26.0" width="2.0" height="2.0" fill="#26828e" fill-opacity="0.62"/>
<rect x="14.0" y="26.0" width="2.0" height="2.0" fill="#1f9e89"/>
<rect x="16.0" y="26.0" width="2.0" height="2.0" fill="#1f9e89"/>
<rect x="18.0" y="26.0" width="2.0" height="2.0" fill="#1f9e89"/>
<rect x="20.0" y="26.0" width="2.0" height="2.0" fill="#26828e"/>
<rect x="22.0" y="26.0" width="2.0" height="2.0" fill="#26828e" fill-opacity="0.62"/>
<rect x="24.0" y="26.0" width="2.0" height="2.0" fill="#26828e"/>
<rect x="26.0" y="26.0" width="2.0" height="2.0" fill="#8394b1"/>
<rect x="28.0" y="26.0" width="2.0" height="2.0" fill="#8394b1"/>
<rect x="30.0" y="26.0" width="2.0" height="2.0" fill="#31688e"/>
<rect x="32.0" y="26.0" width="2.0" height="2.0" fill="#31688e"/>
<rect x="34.0" y="26.0" width="2.0" height="2.0" fill="#26828e" fill-opacity="0.62"/>
<rect x="36.0" y="26.0" width="2.0" height="2.0" fill="#26828e"/>
<rect x="38.0" y="26.0" width="2.0" height="2.0" fill="#26828e"/>
<rect x="40.0" y="26.0" width="2.0" height="2.0" fill="#26828e"/>
<rect x="42.0" y="26.0" width="2.0" height="2.0" fill="#1f9e89"/>
<rect x="44.0" y="26.0" width="2.0" height="2.0" fill="#26828e"/>
<rect x="46.0" y="26.0" width="2.0" height="2.0" fill="#21918c"/>
<rect x="50.0" y="26.0" width="2.0" height="2.0" fill="#26828e" fill-opacity="0.62"/>
<rect x="56.0" y="26.0" width="2.0" height="2.0" fill="#26828e" fill-opacity="0.62"/>
<rect x="12.0" y="28.0" width="2.0" height="2.0" fill="#26828e" fill-opacity="0.62"/>
<rect x="14.0" y="28.0" width="2.0" height="2.0" fill="#1f9e89"/>
<rect x="16.0" y="28.0" width="2.0" height="2.0" fill="#26828e" fill-opacity="0.62"/>
<rect x="18.0" y="28.0" width="2.0" height="2.0" fill="#1f9e89"/>
<rect x="20.0" y="28.0" width="2.0" height="2.0" fill="#26828e"/>
<rect x="22.0" y="28.0" width="2.0" height="2.0" fill="#26828e"/>
<rect x="24.0" y="28.0" width="2.0" height="2.0" fill="#26828e"/>
<rect x="26.0" y="28.0" width="2.0" height="2.0" fill="#26828e"/>
<rect x="28.0" y="28.0" width="2.0" height="2.0" fill="#26828e"/>
<rect x="30.0" y="28.0" width="2.0" height="2.0" fill="#26828e"/>
<rect x="32.0" y="28.0" width="2.0" height="2.0" fill="#1f9e89"/>
<rect x="34.0" y="28.0" width="2.0" height="2.0" fill="#1f9e89"/>
<rect x="36.0" y="28.0" width="2.0" height="2.0" fill="#26828e"/>
<rect x="38.0" y="28.0" width="2.0" height="2.0" fill="#26828e"/>
<rect x="40.0" y="28.0" width="2.0" height="2.0" fill="#1f9e89"/>
<rect x="42.0" y="28.0" width="2.0" height="2.0" fill="#1f9e89"/>
<rect x="44.0" y="28.0" width="2.0" height="2.0" fill="#21918c"/>
<rect x="46.0" y="28.0" width="2.0" height="2.0" fill="#26828e" fill-opacity="0.62"/>
<rect x="54.0" y="28.0" width="2.0" height="2.0" fill="#26828e" fill-opacity="0.62"/>
<rect x="56.0" y="28.0" width="2.0" height="2.0" fill="#26828e" fill-opacity="0.62"/>
</g>
<ellipse cx="36.5" cy="23.9" rx="1.5" ry="0.55" fill="#f0f28c" fill-opacity="0.9" filter="url(#soft2)"/>
<ellipse cx="39.5" cy="24.4" rx="1.6" ry="0.5" fill="#7fd06a" fill-opacity="0.6" filter="url(#soft2)"/>
</g>
<path d="M12.55 2.90 L12.46 2.57 L12.83 2.20 L12.97 1.92 L12.63 1.63 L12.90 0.97 L12.50 0.37 L12.93 0.29 L12.97 -0.19 L13.14 -0.33 L13.15 -1.11 M17.83 4.83 L18.21 5.47 L18.27 6.08 L18.61 7.14 L18.88 7.35 L18.69 7.74 L17.38 7.91 L16.93 8.28 L16.35 8.36 L16.31 9.10 L15.14 9.50 L14.76 10.00 L13.94 10.27 L12.94 10.42 L11.33 11.16 L11.33 12.34 M6.86 12.36 L11.18 12.34 L11.33 12.34 M11.18 12.34 L11.21 12.88 L11.31 14.12 L8.03 14.07 L8.06 16.62 L7.13 16.71 L6.88 17.23 L7.07 18.67 L3.16 18.67 M11.32 12.60 L15.08 15.02 M15.08 15.02 L13.55 15.04 L14.03 19.36 L14.51 23.68 L14.68 23.80 L14.46 24.50 L10.45 24.51 L10.30 24.74 L9.91 24.67 L9.35 24.87 L8.65 24.59 L8.33 24.61 L8.17 25.20 L8.07 25.62 L7.83 25.38 M7.83 25.38 L7.17 24.70 L6.56 23.96 L5.90 23.70 L5.42 23.40 L4.86 23.41 L4.38 23.63 L3.88 23.54 L3.54 23.86 M7.83 25.38 L7.88 26.01 L8.07 26.58 L8.45 26.86 L8.53 27.24 L8.49 27.56 L8.34 27.61 L7.80 27.53 L7.72 27.65 L7.50 27.67 L6.78 27.42 L6.30 27.41 L4.45 27.37 L4.18 27.48 L3.85 27.45 L3.32 27.62 M6.30 27.41 L6.28 27.75 L6.17 27.86 L6.26 28.19 L6.10 28.32 L5.88 28.32 L5.62 28.49 L5.31 28.47 L4.87 28.96 M3.16 26.85 L4.07 26.87 L4.31 26.73 L4.49 26.72 L4.86 26.49 L5.29 26.70 L5.72 26.72 L6.15 26.49 L5.95 26.21 L5.62 26.37 L5.31 26.37 L4.92 26.12 L4.60 26.14 L4.38 26.38 L3.29 26.41 M8.49 27.56 L8.54 27.92 L8.70 27.92 L9.13 27.82 L9.41 28.08 L9.84 28.16 L10.11 27.94 L10.43 27.81 L10.67 27.67 L10.87 27.69 L11.10 27.91 L11.21 28.19 L11.62 28.61 L11.42 28.86 L11.38 29.19 L11.59 29.09 L11.72 29.21 L11.66 29.51 L11.97 29.79 L12.10 29.70 L12.38 29.85 L13.15 29.86 L13.33 29.57 L13.51 29.59 L13.79 29.48 L13.95 29.90 L14.18 29.78 L14.60 29.63 L14.53 29.05 L14.80 28.62 L14.78 28.29 L15.57 27.46 L15.72 26.77 L15.99 26.53 L16.48 26.66 L16.90 26.46 L17.03 26.20 L17.81 25.75 L18.00 25.44 L18.93 25.03 L19.48 24.88 L19.73 25.08 L20.38 25.07 M11.97 29.79 L11.77 29.87 L11.69 30.21 L11.92 30.62 L12.20 31.40 M9.41 28.08 L9.70 29.00 L9.50 29.70 L9.80 30.50 M20.38 25.07 L20.30 25.56 L20.43 26.01 L20.99 26.66 L21.02 27.15 L22.18 27.38 L22.15 28.06 L21.94 28.36 L21.45 28.45 L21.24 28.89 L20.90 29.00 L20.02 28.98 L19.56 28.90 L19.24 29.06 L18.80 28.99 L17.06 29.04 L17.04 29.61 L17.17 30.36 L16.49 30.10 L16.02 30.14 L15.67 30.39 L15.22 30.18 L15.04 29.85 L14.60 29.63 M20.90 29.00 L20.77 29.53 L21.08 29.82 L21.43 30.18 L21.46 30.66 L21.66 30.87 L21.65 31.50 M20.02 28.98 L19.95 29.29 L20.37 29.81 L20.37 30.54 L20.46 31.32 M22.15 28.06 L22.49 27.77 L22.85 27.76 L23.61 28.34 L23.57 28.67 L23.80 29.27 L23.60 29.67 L23.70 29.94 L23.22 30.56 L22.91 30.86 L22.72 31.49 M20.38 25.07 L21.02 25.03 L21.39 24.68 L22.75 24.59 L23.64 24.43 L23.72 23.82 L24.27 23.15 L24.27 20.84 M15.08 15.02 L18.45 17.21 L21.82 19.39 L22.06 19.86 L22.68 20.14 L23.15 20.31 L23.16 20.94 L24.27 20.84 M24.27 20.84 L25.68 20.40 L28.57 18.43 L32.00 16.53 M23.61 28.34 L23.68 27.45 L23.97 27.04 L24.11 26.47 L24.37 26.25 L25.44 26.13 L26.45 26.51 L26.82 26.88 L27.33 26.90 L27.80 26.66 L29.02 27.17 L29.52 27.15 L30.12 26.72 L30.70 26.75 L30.99 26.61 L31.53 26.67 L32.30 26.96 L33.08 26.40 L33.32 26.44 L33.99 27.54 L34.18 27.52 L34.21 27.20 L34.50 27.14 L34.60 26.67 L33.95 26.65 L33.96 26.00 L33.54 25.63 L33.97 24.32 L35.25 23.37 L35.30 22.07 L35.69 20.04 L35.90 19.61 L35.49 19.27 L35.47 18.95 L35.10 18.69 L34.85 17.14 M32.00 16.53 L33.58 16.96 L34.14 17.51 L34.85 17.14 L35.86 16.59 L39.85 18.50 L43.84 20.42 M34.18 27.52 L34.58 27.91 L34.47 28.09 L34.41 28.43 L33.57 29.20 L33.31 29.84 L33.17 30.36 L32.95 30.58 L32.75 31.28 M34.50 27.14 L34.89 27.78 L34.96 28.44 L34.92 29.11 L35.47 30.02 L34.91 30.01 L34.63 30.08 L34.17 29.98 L33.95 30.45 L34.54 31.03 M35.47 30.02 L35.28 31.00 M34.54 31.03 L34.98 31.20 L35.12 31.62 L35.44 32.31 M42.86 28.86 L42.23 29.03 L41.72 29.43 L41.00 30.52 L40.06 30.99 L39.09 30.93 L38.81 31.02 L38.91 31.37 L38.39 31.72 M43.84 20.42 L43.89 24.39 L43.02 24.32 L42.57 25.06 L42.30 25.67 L42.51 25.91 L42.18 26.21 L42.30 26.63 L42.04 27.05 L41.94 27.41 L42.29 27.35 L42.50 27.74 L42.50 28.32 L42.88 28.62 L42.86 28.86 L42.98 29.29 L43.55 29.91 L43.56 30.32 L43.39 30.73 L43.46 31.05 L43.81 31.33 M43.84 20.42 L43.85 20.00 L45.00 20.00 L45.00 18.00 L45.00 10.76 L44.70 9.96 L44.96 9.34 L44.80 8.91 L45.16 8.43 M45.00 18.00 L56.87 18.00 M43.89 31.38 L44.19 31.27 L44.54 31.08 L44.80 30.19 L45.07 29.73 L45.79 29.59 L45.96 29.86 L46.48 30.45 L46.75 30.53 L47.11 30.36 L47.83 30.40 L47.97 30.60 L48.97 30.60 L49.00 30.40 L49.52 30.21 L49.62 29.91 L50.00 29.71 L50.84 30.29 L51.35 30.19 L51.85 29.47 L52.40 28.92 L52.31 28.32 L52.07 28.03 L52.67 27.98 L52.74 27.75 L53.21 27.82 L53.09 28.56 L53.21 29.28 L53.72 29.68 L53.84 30.02 L53.83 30.52 L53.96 30.54 M53.96 30.54 L54.26 29.37 L54.73 29.09 L54.83 28.68 L55.26 27.92 L55.86 27.42 L56.27 26.44 L56.43 25.58 L56.32 25.18 L56.75 23.71 L56.85 23.04 L57.17 22.74 L57.90 22.57 L58.41 22.00 M56.43 25.58 L57.59 25.79 L57.91 25.04 L58.51 25.49 L59.10 25.26 L59.34 25.47 L60.03 25.48 L60.90 25.88 L61.16 26.23 L61.60 26.55 L62.01 27.13 L62.35 27.46 L62.78 27.55 L63.08 27.30 M62.35 27.46 L62.00 27.90 L61.66 28.37 L61.74 28.64 L61.76 28.95 L62.31 28.97 L62.55 28.89 L62.78 29.07 L63.15 28.54 M62.78 29.07 L62.56 29.43 L62.93 29.98 L63.30 30.46 L63.68 30.82 M68.95 28.59 L68.95 30.55 M28.42 3.05 L28.22 3.57 L28.38 4.52 L28.14 5.34 L27.52 5.90 L27.61 6.66 L28.43 7.25 L28.44 7.49 L29.06 7.90 L29.48 9.69 M29.48 9.69 L29.81 10.57 L29.86 11.04 L29.68 11.86 L29.76 12.31 L29.63 12.86 L29.72 13.49 L29.32 13.91 L29.91 14.64 L29.95 15.06 L30.30 15.62 L30.77 15.44 L31.56 15.90 L32.00 16.53 M29.48 9.69 L29.97 9.46 L30.06 9.04 L29.95 8.62 L30.64 8.24 L30.95 7.92 L31.43 7.63 L31.49 6.86 M54.27 8.78 L54.92 10.50 M54.92 10.50 L55.42 8.90 L55.40 8.51 L55.55 8.22 L55.55 7.61 L55.72 7.29 L55.84 7.13 L55.82 6.72 L55.55 6.74 L55.46 6.91 L55.13 6.91 M54.96 10.64 L56.07 10.80 L56.50 10.50 L56.74 10.14 L57.50 10.00 L57.67 9.66 L58.00 9.49 L57.00 8.49 L59.01 7.99 L59.20 7.84 M55.72 7.29 L56.83 7.69 L58.79 6.62 L59.20 7.84 M55.82 6.72 L56.07 6.17 L56.61 5.80 L56.45 5.41 L56.00 5.35 M59.20 7.84 L60.40 8.11 L61.89 8.81 L64.71 10.82 L66.57 10.90 L67.46 11.00 L67.71 11.47 L68.42 11.45 M66.57 10.90 L67.30 9.94 L67.97 10.02 M58.79 6.62 L61.01 5.58 L61.38 4.37 L61.29 3.64 L61.84 3.39 L62.35 2.77 M56.15 4.18 L56.42 3.96 L56.69 3.74 L56.74 3.18 L57.07 3.38 L58.17 3.10 L58.70 3.29 L59.52 3.28 L60.67 2.91 L61.21 2.93 L62.35 2.77 L62.78 2.62 L63.94 2.74 L64.29 3.00 L64.77 2.83 M64.77 2.83 L65.42 4.02 L66.08 4.32 L66.15 4.91 L65.65 5.25 L65.42 6.03 L66.11 6.98 L67.34 7.53 L67.85 8.29 L67.69 9.02 L68.00 9.02 L68.02 9.55 L68.57 10.07 M64.77 2.83 L64.23 2.03 L64.42 1.72 L64.11 0.57 L64.79 0.29 L64.50 0.00 L63.60 -0.30 L63.60 -1.10 M64.79 0.29 L64.95 0.66 L65.46 1.13 L66.14 1.26 L66.51 1.23 L67.69 0.49 L68.06 0.42 L68.36 0.71 L68.01 1.21 L68.63 1.73 L68.88 1.68 M64.79 0.29 L65.60 0.00 L65.90 -0.60 L65.00 -1.30 M66.51 1.23 L66.40 0.70 L65.80 0.20 L65.30 0.00 M62.78 23.65 L63.22 23.33 L63.12 22.91 L63.38 22.42 L63.79 22.68 L64.06 22.59 L65.22 22.57 L65.40 22.67 L66.37 22.77 L66.75 22.72 L67.00 23.05 L67.47 22.88 L68.18 21.83 L69.12 21.38 L72.00 21.00 M40.15 0.38 L40.61 -0.11 L40.67 -0.44 L41.00 -0.58 L41.02 -0.84 L41.67 -0.93 L42.05 -1.15 M46.06 -0.82 L46.30 -0.94 L46.60 -1.56" stroke="#2a2a2a" stroke-width="0.45" stroke-opacity="0.8" vector-effect="non-scaling-stroke" fill="none" stroke-linejoin="round"/>
</svg>
<rect x="36.5" y="20.5" width="217.0" height="95.0" fill="none" stroke="#7a7a7a" stroke-width="1"/>
<svg x="271.5" y="20.5" width="218.0" height="95.0" viewBox="0 0 70 30" preserveAspectRatio="none" overflow="hidden">
<rect x="0" y="0" width="70" height="30" fill="#d8d8d8"/>
<g fill="#ababab">
<polygon points="6.20,31.00 5.92,30.11 5.67,29.98 5.42,29.79 5.16,29.12 4.87,28.96 4.34,28.54 3.91,28.48 3.68,28.19 3.69,28.04 3.39,27.83 3.32,27.62 3.16,26.85 3.29,26.41 2.87,25.63 2.38,25.27 2.82,25.08 3.30,24.38 3.54,23.86 3.45,23.33 3.73,22.83 3.85,21.89 3.74,20.90 3.62,20.41 3.72,19.91 3.46,19.43 2.94,19.00 3.03,18.11 3.41,17.84 3.74,17.32 3.67,16.98 4.02,16.28 4.57,15.64 4.91,15.48 5.18,14.90 5.20,14.36 5.56,13.75 6.23,13.38 6.86,12.36 7.38,11.96 8.31,11.85 9.10,11.17 9.60,10.90 10.44,10.07 10.19,8.82 10.56,7.96 10.70,7.44 11.34,6.76 12.35,6.30 13.09,5.89 13.76,4.85 14.07,4.24 14.81,4.24 15.41,4.67 16.36,4.60 17.40,4.82 17.83,4.83 18.79,4.28 19.87,4.11 20.50,3.70 21.47,3.39 23.16,3.22 24.82,3.13 25.32,3.28 26.26,2.89 27.33,2.88 27.74,3.11 28.42,3.05 29.51,2.65 30.21,2.77 30.18,3.28 31.03,2.91 31.10,3.10 30.60,3.59 30.59,4.05 30.94,4.30 30.81,5.17 30.15,5.67 30.34,6.21 30.86,6.23 31.11,6.71 31.49,6.86 32.66,7.21 33.08,7.12 33.92,7.29 35.25,7.73 35.71,8.62 36.61,8.82 38.02,9.24 39.09,9.73 39.57,9.47 40.05,9.01 39.82,8.25 40.13,7.76 40.86,7.29 41.54,7.16 42.90,7.36 43.24,7.81 43.61,7.81 43.93,7.98 44.92,8.10 45.16,8.43 46.50,8.41 47.46,8.68 48.45,8.97 48.91,9.13 49.68,8.81 50.09,8.53 50.98,8.44 51.69,8.57 51.96,9.07 52.19,8.74 52.99,8.98 53.77,9.03 54.27,8.78 54.56,8.45 54.49,8.39 54.75,7.93 54.95,7.17 55.10,6.92 55.13,6.91 55.48,6.09 55.98,5.39 56.00,5.35 55.91,4.59 56.15,4.18 55.78,3.73 56.16,3.35 55.55,3.44 54.72,3.20 54.03,3.78 52.51,3.89 51.70,3.36 50.62,3.32 50.39,3.74 49.70,3.86 48.73,3.32 47.64,3.34 47.05,2.35 46.32,1.79 46.80,1.01 46.17,0.54 47.28,-0.42 47.50,-1.50 71.50,-1.50 71.50,31.00"/>
<polygon points="10.50,-1.50 11.01,-1.54 11.21,-1.18 11.23,-0.76 11.02,-0.16 10.95,0.24 10.55,0.61 10.47,1.26 10.71,1.64 11.16,1.73 11.25,2.35 11.10,3.13 11.62,3.02 12.14,3.16 12.55,2.90 13.48,3.06 13.76,3.63 14.13,3.97 14.62,4.05 15.00,3.67 15.63,3.32 16.58,3.34 17.85,3.33 18.56,2.56 19.32,2.36 19.53,1.71 20.11,1.26 19.72,0.69 20.11,-0.12 20.72,-0.68 20.81,-1.02 21.20,-1.50"/>
<polygon points="22.35,0.45 22.70,0.05 23.20,0.05 23.45,0.30 23.20,0.70 22.75,0.60"/>
<polygon points="21.20,1.05 21.40,0.90 21.60,1.00 21.40,1.15"/>
<polygon points="23.80,0.00 24.30,0.05 24.20,0.20 23.85,0.10"/>
<polygon points="29.21,-1.21 29.81,-0.50 29.67,0.82 29.21,0.76 28.81,1.09 28.43,0.83 28.39,-0.38 28.16,-0.95 28.71,-0.90"/>
<polygon points="35.52,1.77 35.16,2.56 35.31,2.87 35.10,3.38 34.34,3.00 33.83,2.90 32.43,2.39 32.57,1.87 33.74,1.97 34.76,1.86"/>
<polygon points="34.00,-1.50 34.06,-0.79 34.70,-0.60 35.00,-0.17 35.41,-0.05 35.72,0.46 36.11,1.03 35.89,1.25 35.69,1.78 35.68,2.09 36.10,2.01 36.64,1.16 37.05,1.10 37.17,0.58 36.45,0.20 36.87,-0.44 37.74,-0.28 38.29,0.19 38.48,-0.17 38.00,-1.00 37.50,-1.50"/>
<polygon points="39.30,-1.50 39.32,-0.73 39.41,-0.25 39.96,0.09 40.15,0.38 40.22,0.66 40.73,1.23 41.12,1.69 41.30,2.35 41.67,3.16 42.49,3.59 43.15,3.58 42.77,2.70 43.41,2.59 43.11,2.08 44.04,2.34 44.02,1.78 43.53,1.49 42.97,1.03 43.35,0.81 42.85,0.34 42.63,-0.26 42.81,-0.48 43.34,0.04 43.90,0.04 44.41,-0.12 43.72,-0.69 44.93,-0.95 45.45,-0.85 46.06,-0.82 46.30,-0.94 46.60,-1.50"/>
<polygon points="42.80,1.05 43.30,1.10 44.10,1.35 44.55,1.85 44.30,2.00 43.60,1.50 43.10,1.25"/>
<polygon points="43.70,4.30 44.25,4.63 45.02,4.58 45.77,4.65 45.75,4.82 46.29,4.70 46.16,4.99 44.73,5.08 44.73,4.91 43.52,4.72"/>
<polygon points="54.58,4.33 53.90,4.75 53.97,4.94 54.01,5.02 52.98,5.43 52.49,5.30 52.26,4.90 52.73,4.86 52.95,4.61 53.67,4.63"/>
<polygon points="47.70,3.85 48.20,3.55 48.25,3.90 47.85,4.10"/>
<polygon points="45.85,0.75 46.20,0.60 46.60,0.95 46.00,0.90"/>
<polygon points="45.85,1.45 46.15,1.45 46.00,1.80"/>
<polygon points="46.60,2.20 47.05,2.25 46.90,2.35"/>
</g>
<g fill="#d8d8d8">
<polygon points="52.42,10.15 52.32,10.24 52.73,11.30 53.35,12.30 54.10,13.86 54.47,14.40 54.80,14.97 55.69,16.07 55.49,16.25 55.53,16.90 56.69,17.80 56.87,18.00 57.19,18.98 56.97,19.16 57.12,20.19 57.48,21.39 57.86,21.63 58.41,22.00 58.99,23.16 59.27,24.08 59.81,24.56 61.18,25.51 61.73,26.08 62.28,26.66 62.59,27.00 63.08,27.30 63.32,27.61 63.29,28.02 62.72,28.26 63.15,28.54 63.47,28.72 63.67,29.14 64.12,29.55 64.61,29.56 65.56,29.30 66.65,29.18 67.53,28.87 68.02,28.81 68.38,28.62 68.95,28.59 69.27,28.57 69.73,28.42 70.26,28.32 70.73,27.98 71.50,28.00 71.50,24.60 71.17,24.82 69.58,25.29 68.68,26.00 68.24,26.05 67.94,25.99 67.35,26.41 66.72,26.60 65.88,26.65 65.62,26.71 65.41,26.97 65.14,27.05 64.99,27.30 64.50,27.28 64.17,27.41 63.48,27.36 63.22,26.78 63.25,26.23 63.09,25.94 62.89,25.20 62.60,24.79 62.80,24.74 62.70,24.28 62.82,24.09 62.78,23.65 62.65,23.23 62.35,22.92 62.27,22.52 61.75,22.17 61.22,21.33 60.94,20.51 60.25,19.82 59.80,19.66 59.14,18.71 59.02,18.01 59.07,17.42 58.49,16.31 58.02,15.92 57.48,15.71 57.16,15.14 57.21,14.91 56.93,14.40 56.64,14.17 56.25,13.43 55.64,12.62 55.13,11.94 54.63,11.94 54.79,11.39 54.83,11.04 54.96,10.64 54.92,10.50 54.64,10.90 54.43,11.66 54.16,12.18 53.92,12.35 53.59,12.03 53.14,11.58"/>
<polygon points="67.97,10.02 68.18,10.47 68.09,10.69 68.42,11.45 68.81,12.31 69.30,12.54 69.47,12.89 70.15,13.31 70.21,13.72 70.11,14.06 70.24,14.39 70.53,14.67 70.66,15.00 70.81,15.25 71.50,15.40 71.50,10.50 70.85,11.18 70.12,9.85 69.58,10.01 68.57,10.07"/>
<polygon points="69.11,-1.28 69.62,-0.57 70.09,-0.53 70.39,-0.26 69.57,-0.18 69.40,0.60 69.22,0.95 68.86,1.19 68.88,1.68 69.20,2.42 70.15,2.62 70.84,3.13 71.50,3.20 71.50,-1.50 69.00,-1.50"/>
</g>
<g fill="#8a8a8a" stroke="#666" stroke-width="0.3" vector-effect="non-scaling-stroke">
<polygon points="6.10,11.15 6.60,10.80 6.60,11.10 6.20,11.25"/>
<polygon points="5.50,11.95 5.80,11.80 6.15,11.25 6.15,11.60 5.80,11.95"/>
<polygon points="4.20,12.00 4.40,11.80 4.60,12.00 4.40,12.25"/>
<polygon points="3.10,11.65 3.60,11.45 3.85,11.45 3.50,11.95 3.20,11.90"/>
<polygon points="2.65,11.90 2.80,11.80 2.90,11.90 2.75,12.00"/>
<polygon points="2.05,11.15 2.25,11.20 2.20,11.50 2.10,11.40"/>
<polygon points="1.85,12.25 2.10,12.15 2.10,12.30"/>
<polygon points="2.75,7.20 3.05,7.15 3.35,7.25 3.05,7.35"/>
</g>
<path d="M10 0V30 M20 0V30 M30 0V30 M40 0V30 M50 0V30 M60 0V30 M0 20H70 M0 10H70" stroke="#7a7a7a" stroke-opacity="0.45" stroke-width="0.7" vector-effect="non-scaling-stroke" fill="none"/>
<g clip-path="url(#land_a)"><g filter="url(#soft)" shape-rendering="crispEdges">
<rect x="66.0" y="0.0" width="2.0" height="2.0" fill="#1f9e89" fill-opacity="0.62"/>
<rect x="24.0" y="4.0" width="2.0" height="2.0" fill="#35b779" fill-opacity="0.62"/>
<rect x="26.0" y="4.0" width="2.0" height="2.0" fill="#35b779" fill-opacity="0.62"/>
<rect x="60.0" y="4.0" width="2.0" height="2.0" fill="#1f9e89"/>
<rect x="62.0" y="4.0" width="2.0" height="2.0" fill="#1f9e89" fill-opacity="0.62"/>
<rect x="18.0" y="6.0" width="2.0" height="2.0" fill="#1f9e89" fill-opacity="0.62"/>
<rect x="20.0" y="6.0" width="2.0" height="2.0" fill="#1f9e89" fill-opacity="0.62"/>
<rect x="22.0" y="6.0" width="2.0" height="2.0" fill="#35b779"/>
<rect x="24.0" y="6.0" width="2.0" height="2.0" fill="#6ece58"/>
<rect x="26.0" y="6.0" width="2.0" height="2.0" fill="#35b779" fill-opacity="0.62"/>
<rect x="28.0" y="6.0" width="2.0" height="2.0" fill="#35b779" fill-opacity="0.62"/>
<rect x="58.0" y="6.0" width="2.0" height="2.0" fill="#1f9e89" fill-opacity="0.62"/>
<rect x="60.0" y="6.0" width="2.0" height="2.0" fill="#1f9e89"/>
<rect x="62.0" y="6.0" width="2.0" height="2.0" fill="#1f9e89"/>
<rect x="64.0" y="6.0" width="2.0" height="2.0" fill="#1f9e89" fill-opacity="0.62"/>
<rect x="10.0" y="8.0" width="2.0" height="2.0" fill="#1f9e89" fill-opacity="0.62"/>
<rect x="12.0" y="8.0" width="2.0" height="2.0" fill="#1f9e89" fill-opacity="0.62"/>
<rect x="14.0" y="8.0" width="2.0" height="2.0" fill="#1f9e89"/>
<rect x="16.0" y="8.0" width="2.0" height="2.0" fill="#1f9e89"/>
<rect x="18.0" y="8.0" width="2.0" height="2.0" fill="#1f9e89"/>
<rect x="20.0" y="8.0" width="2.0" height="2.0" fill="#1f9e89" fill-opacity="0.62"/>
<rect x="22.0" y="8.0" width="2.0" height="2.0" fill="#35b779" fill-opacity="0.62"/>
<rect x="24.0" y="8.0" width="2.0" height="2.0" fill="#35b779"/>
<rect x="26.0" y="8.0" width="2.0" height="2.0" fill="#6ece58"/>
<rect x="28.0" y="8.0" width="2.0" height="2.0" fill="#35b779" fill-opacity="0.62"/>
<rect x="30.0" y="8.0" width="2.0" height="2.0" fill="#26828e" fill-opacity="0.62"/>
<rect x="36.0" y="8.0" width="2.0" height="2.0" fill="#1f9e89"/>
<rect x="38.0" y="8.0" width="2.0" height="2.0" fill="#1f9e89"/>
<rect x="40.0" y="8.0" width="2.0" height="2.0" fill="#1f9e89" fill-opacity="0.62"/>
<rect x="42.0" y="8.0" width="2.0" height="2.0" fill="#1f9e89"/>
<rect x="44.0" y="8.0" width="2.0" height="2.0" fill="#1f9e89"/>
<rect x="46.0" y="8.0" width="2.0" height="2.0" fill="#1f9e89"/>
<rect x="48.0" y="8.0" width="2.0" height="2.0" fill="#1f9e89" fill-opacity="0.62"/>
<rect x="50.0" y="8.0" width="2.0" height="2.0" fill="#1f9e89" fill-opacity="0.62"/>
<rect x="52.0" y="8.0" width="2.0" height="2.0" fill="#26828e" fill-opacity="0.62"/>
<rect x="54.0" y="8.0" width="2.0" height="2.0" fill="#1f9e89" fill-opacity="0.62"/>
<rect x="56.0" y="8.0" width="2.0" height="2.0" fill="#26828e" fill-opacity="0.62"/>
<rect x="58.0" y="8.0" width="2.0" height="2.0" fill="#1f9e89"/>
<rect x="60.0" y="8.0" width="2.0" height="2.0" fill="#1f9e89"/>
<rect x="62.0" y="8.0" width="2.0" height="2.0" fill="#1f9e89"/>
<rect x="64.0" y="8.0" width="2.0" height="2.0" fill="#1f9e89"/>
<rect x="66.0" y="8.0" width="2.0" height="2.0" fill="#1f9e89" fill-opacity="0.62"/>
<rect x="8.0" y="10.0" width="2.0" height="2.0" fill="#1f9e89" fill-opacity="0.62"/>
<rect x="10.0" y="10.0" width="2.0" height="2.0" fill="#1f9e89" fill-opacity="0.62"/>
<rect x="12.0" y="10.0" width="2.0" height="2.0" fill="#1f9e89" fill-opacity="0.62"/>
<rect x="14.0" y="10.0" width="2.0" height="2.0" fill="#1f9e89" fill-opacity="0.62"/>
<rect x="16.0" y="10.0" width="2.0" height="2.0" fill="#1f9e89"/>
<rect x="18.0" y="10.0" width="2.0" height="2.0" fill="#1f9e89"/>
<rect x="20.0" y="10.0" width="2.0" height="2.0" fill="#21918c"/>
<rect x="22.0" y="10.0" width="2.0" height="2.0" fill="#1f9e89"/>
<rect x="24.0" y="10.0" width="2.0" height="2.0" fill="#1f9e89"/>
<rect x="26.0" y="10.0" width="2.0" height="2.0" fill="#21918c"/>
<rect x="28.0" y="10.0" width="2.0" height="2.0" fill="#21918c"/>
<rect x="30.0" y="10.0" width="2.0" height="2.0" fill="#26828e"/>
<rect x="32.0" y="10.0" width="2.0" height="2.0" fill="#1f9e89" fill-opacity="0.62"/>
<rect x="34.0" y="10.0" width="2.0" height="2.0" fill="#26828e"/>
<rect x="36.0" y="10.0" width="2.0" height="2.0" fill="#26828e"/>
<rect x="38.0" y="10.0" width="2.0" height="2.0" fill="#21918c"/>
<rect x="40.0" y="10.0" width="2.0" height="2.0" fill="#21918c"/>
<rect x="42.0" y="10.0" width="2.0" height="2.0" fill="#1f9e89" fill-opacity="0.62"/>
<rect x="44.0" y="10.0" width="2.0" height="2.0" fill="#21918c"/>
<rect x="46.0" y="10.0" width="2.0" height="2.0" fill="#21918c"/>
<rect x="48.0" y="10.0" width="2.0" height="2.0" fill="#1f9e89" fill-opacity="0.62"/>
<rect x="50.0" y="10.0" width="2.0" height="2.0" fill="#21918c"/>
<rect x="52.0" y="10.0" width="2.0" height="2.0" fill="#1f9e89" fill-opacity="0.62"/>
<rect x="54.0" y="10.0" width="2.0" height="2.0" fill="#26828e" fill-opacity="0.62"/>
<rect x="56.0" y="10.0" width="2.0" height="2.0" fill="#1f9e89" fill-opacity="0.62"/>
<rect x="58.0" y="10.0" width="2.0" height="2.0" fill="#26828e" fill-opacity="0.62"/>
<rect x="60.0" y="10.0" width="2.0" height="2.0" fill="#1f9e89" fill-opacity="0.62"/>
<rect x="10.0" y="12.0" width="2.0" height="2.0" fill="#26828e" fill-opacity="0.62"/>
<rect x="14.0" y="12.0" width="2.0" height="2.0" fill="#1f9e89" fill-opacity="0.62"/>
<rect x="16.0" y="12.0" width="2.0" height="2.0" fill="#1f9e89"/>
<rect x="18.0" y="12.0" width="2.0" height="2.0" fill="#1f9e89" fill-opacity="0.62"/>
<rect x="20.0" y="12.0" width="2.0" height="2.0" fill="#1f9e89"/>
<rect x="22.0" y="12.0" width="2.0" height="2.0" fill="#35b779" fill-opacity="0.62"/>
<rect x="24.0" y="12.0" width="2.0" height="2.0" fill="#21918c"/>
<rect x="26.0" y="12.0" width="2.0" height="2.0" fill="#26828e"/>
<rect x="28.0" y="12.0" width="2.0" height="2.0" fill="#26828e"/>
<rect x="30.0" y="12.0" width="2.0" height="2.0" fill="#26828e"/>
<rect x="32.0" y="12.0" width="2.0" height="2.0" fill="#26828e"/>
<rect x="34.0" y="12.0" width="2.0" height="2.0" fill="#26828e"/>
<rect x="36.0" y="12.0" width="2.0" height="2.0" fill="#26828e"/>
<rect x="38.0" y="12.0" width="2.0" height="2.0" fill="#21918c"/>
<rect x="40.0" y="12.0" width="2.0" height="2.0" fill="#26828e"/>
<rect x="42.0" y="12.0" width="2.0" height="2.0" fill="#1f9e89" fill-opacity="0.62"/>
<rect x="44.0" y="12.0" width="2.0" height="2.0" fill="#26828e"/>
<rect x="46.0" y="12.0" width="2.0" height="2.0" fill="#21918c"/>
<rect x="48.0" y="12.0" width="2.0" height="2.0" fill="#1f9e89" fill-opacity="0.62"/>
<rect x="50.0" y="12.0" width="2.0" height="2.0" fill="#21918c"/>
<rect x="52.0" y="12.0" width="2.0" height="2.0" fill="#21918c"/>
<rect x="54.0" y="12.0" width="2.0" height="2.0" fill="#1f9e89" fill-opacity="0.62"/>
<rect x="10.0" y="14.0" width="2.0" height="2.0" fill="#26828e" fill-opacity="0.62"/>
<rect x="16.0" y="14.0" width="2.0" height="2.0" fill="#1f9e89" fill-opacity="0.62"/>
<rect x="20.0" y="14.0" width="2.0" height="2.0" fill="#21918c"/>
<rect x="22.0" y="14.0" width="2.0" height="2.0" fill="#21918c"/>
<rect x="24.0" y="14.0" width="2.0" height="2.0" fill="#26828e"/>
<rect x="26.0" y="14.0" width="2.0" height="2.0" fill="#26828e"/>
<rect x="28.0" y="14.0" width="2.0" height="2.0" fill="#26828e"/>
<rect x="30.0" y="14.0" width="2.0" height="2.0" fill="#26828e"/>
<rect x="32.0" y="14.0" width="2.0" height="2.0" fill="#26828e"/>
<rect x="34.0" y="14.0" width="2.0" height="2.0" fill="#2b758e"/>
<rect x="36.0" y="14.0" width="2.0" height="2.0" fill="#26828e"/>
<rect x="38.0" y="14.0" width="2.0" height="2.0" fill="#21918c"/>
<rect x="40.0" y="14.0" width="2.0" height="2.0" fill="#26828e"/>
<rect x="42.0" y="14.0" width="2.0" height="2.0" fill="#26828e"/>
<rect x="44.0" y="14.0" width="2.0" height="2.0" fill="#21918c"/>
<rect x="46.0" y="14.0" width="2.0" height="2.0" fill="#26828e"/>
<rect x="48.0" y="14.0" width="2.0" height="2.0" fill="#21918c"/>
<rect x="50.0" y="14.0" width="2.0" height="2.0" fill="#21918c"/>
<rect x="52.0" y="14.0" width="2.0" height="2.0" fill="#21918c"/>
<rect x="54.0" y="14.0" width="2.0" height="2.0" fill="#21918c"/>
<rect x="60.0" y="14.0" width="2.0" height="2.0" fill="#1f9e89" fill-opacity="0.62"/>
<rect x="62.0" y="14.0" width="2.0" height="2.0" fill="#21918c"/>
<rect x="64.0" y="14.0" width="2.0" height="2.0" fill="#1f9e89" fill-opacity="0.62"/>
<rect x="66.0" y="14.0" width="2.0" height="2.0" fill="#1f9e89" fill-opacity="0.62"/>
<rect x="68.0" y="14.0" width="2.0" height="2.0" fill="#1f9e89"/>
<rect x="8.0" y="16.0" width="2.0" height="2.0" fill="#1f9e89" fill-opacity="0.62"/>
<rect x="10.0" y="16.0" width="2.0" height="2.0" fill="#21918c"/>
<rect x="12.0" y="16.0" width="2.0" height="2.0" fill="#21918c"/>
<rect x="14.0" y="16.0" width="2.0" height="2.0" fill="#21918c"/>
<rect x="16.0" y="16.0" width="2.0" height="2.0" fill="#1f9e89" fill-opacity="0.62"/>
<rect x="18.0" y="16.0" width="2.0" height="2.0" fill="#1f9e89" fill-opacity="0.62"/>
<rect x="20.0" y="16.0" width="2.0" height="2.0" fill="#35b779" fill-opacity="0.62"/>
<rect x="22.0" y="16.0" width="2.0" height="2.0" fill="#21918c"/>
<rect x="24.0" y="16.0" width="2.0" height="2.0" fill="#26828e"/>
<rect x="26.0" y="16.0" width="2.0" height="2.0" fill="#26828e"/>
<rect x="28.0" y="16.0" width="2.0" height="2.0" fill="#26828e"/>
<rect x="30.0" y="16.0" width="2.0" height="2.0" fill="#2b758e"/>
<rect x="32.0" y="16.0" width="2.0" height="2.0" fill="#2b758e"/>
<rect x="34.0" y="16.0" width="2.0" height="2.0" fill="#26828e"/>
<rect x="36.0" y="16.0" width="2.0" height="2.0" fill="#26828e"/>
<rect x="38.0" y="16.0" width="2.0" height="2.0" fill="#21918c"/>
<rect x="40.0" y="16.0" width="2.0" height="2.0" fill="#26828e"/>
<rect x="42.0" y="16.0" width="2.0" height="2.0" fill="#21918c"/>
<rect x="44.0" y="16.0" width="2.0" height="2.0" fill="#26828e"/>
<rect x="46.0" y="16.0" width="2.0" height="2.0" fill="#21918c"/>
<rect x="48.0" y="16.0" width="2.0" height="2.0" fill="#21918c"/>
<rect x="50.0" y="16.0" width="2.0" height="2.0" fill="#1f9e89" fill-opacity="0.62"/>
<rect x="52.0" y="16.0" width="2.0" height="2.0" fill="#1f9e89" fill-opacity="0.62"/>
<rect x="54.0" y="16.0" width="2.0" height="2.0" fill="#1f9e89" fill-opacity="0.62"/>
<rect x="58.0" y="16.0" width="2.0" height="2.0" fill="#1f9e89" fill-opacity="0.62"/>
<rect x="60.0" y="16.0" width="2.0" height="2.0" fill="#1f9e89" fill-opacity="0.62"/>
<rect x="62.0" y="16.0" width="2.0" height="2.0" fill="#26828e"/>
<rect x="64.0" y="16.0" width="2.0" height="2.0" fill="#26828e"/>
<rect x="66.0" y="16.0" width="2.0" height="2.0" fill="#1f9e89"/>
<rect x="68.0" y="16.0" width="2.0" height="2.0" fill="#1f9e89"/>
<rect x="8.0" y="18.0" width="2.0" height="2.0" fill="#21918c"/>
<rect x="10.0" y="18.0" width="2.0" height="2.0" fill="#21918c"/>
<rect x="12.0" y="18.0" width="2.0" height="2.0" fill="#21918c"/>
<rect x="14.0" y="18.0" width="2.0" height="2.0" fill="#21918c"/>
<rect x="16.0" y="18.0" width="2.0" height="2.0" fill="#1f9e89" fill-opacity="0.62"/>
<rect x="20.0" y="18.0" width="2.0" height="2.0" fill="#21918c"/>
<rect x="22.0" y="18.0" width="2.0" height="2.0" fill="#26828e"/>
<rect x="24.0" y="18.0" width="2.0" height="2.0" fill="#26828e"/>
<rect x="26.0" y="18.0" width="2.0" height="2.0" fill="#26828e"/>
<rect x="28.0" y="18.0" width="2.0" height="2.0" fill="#2b758e"/>
<rect x="30.0" y="18.0" width="2.0" height="2.0" fill="#2b758e"/>
<rect x="32.0" y="18.0" width="2.0" height="2.0" fill="#26828e"/>
<rect x="34.0" y="18.0" width="2.0" height="2.0" fill="#26828e"/>
<rect x="36.0" y="18.0" width="2.0" height="2.0" fill="#26828e"/>
<rect x="38.0" y="18.0" width="2.0" height="2.0" fill="#21918c"/>
<rect x="40.0" y="18.0" width="2.0" height="2.0" fill="#26828e"/>
<rect x="42.0" y="18.0" width="2.0" height="2.0" fill="#21918c"/>
<rect x="44.0" y="18.0" width="2.0" height="2.0" fill="#21918c"/>
<rect x="46.0" y="18.0" width="2.0" height="2.0" fill="#21918c"/>
<rect x="48.0" y="18.0" width="2.0" height="2.0" fill="#21918c"/>
<rect x="50.0" y="18.0" width="2.0" height="2.0" fill="#21918c"/>
<rect x="52.0" y="18.0" width="2.0" height="2.0" fill="#21918c"/>
<rect x="54.0" y="18.0" width="2.0" height="2.0" fill="#21918c"/>
<rect x="58.0" y="18.0" width="2.0" height="2.0" fill="#1f9e89" fill-opacity="0.62"/>
<rect x="62.0" y="18.0" width="2.0" height="2.0" fill="#1f9e89" fill-opacity="0.62"/>
<rect x="64.0" y="18.0" width="2.0" height="2.0" fill="#26828e"/>
<rect x="66.0" y="18.0" width="2.0" height="2.0" fill="#1f9e89"/>
<rect x="68.0" y="18.0" width="2.0" height="2.0" fill="#1f9e89"/>
<rect x="2.0" y="20.0" width="2.0" height="2.0" fill="#26828e"/>
<rect x="4.0" y="20.0" width="2.0" height="2.0" fill="#26828e"/>
<rect x="6.0" y="20.0" width="2.0" height="2.0" fill="#26828e"/>
<rect x="8.0" y="20.0" width="2.0" height="2.0" fill="#26828e"/>
<rect x="10.0" y="20.0" width="2.0" height="2.0" fill="#26828e"/>
<rect x="12.0" y="20.0" width="2.0" height="2.0" fill="#26828e"/>
<rect x="14.0" y="20.0" width="2.0" height="2.0" fill="#26828e"/>
<rect x="16.0" y="20.0" width="2.0" height="2.0" fill="#35b779" fill-opacity="0.62"/>
<rect x="18.0" y="20.0" width="2.0" height="2.0" fill="#1f9e89" fill-opacity="0.62"/>
<rect x="20.0" y="20.0" width="2.0" height="2.0" fill="#26828e"/>
<rect x="22.0" y="20.0" width="2.0" height="2.0" fill="#26828e"/>
<rect x="24.0" y="20.0" width="2.0" height="2.0" fill="#26828e"/>
<rect x="26.0" y="20.0" width="2.0" height="2.0" fill="#26828e"/>
<rect x="28.0" y="20.0" width="2.0" height="2.0" fill="#2b758e"/>
<rect x="30.0" y="20.0" width="2.0" height="2.0" fill="#26828e"/>
<rect x="32.0" y="20.0" width="2.0" height="2.0" fill="#26828e"/>
<rect x="34.0" y="20.0" width="2.0" height="2.0" fill="#26828e"/>
<rect x="36.0" y="20.0" width="2.0" height="2.0" fill="#21918c"/>
<rect x="38.0" y="20.0" width="2.0" height="2.0" fill="#21918c"/>
<rect x="40.0" y="20.0" width="2.0" height="2.0" fill="#1f9e89"/>
<rect x="42.0" y="20.0" width="2.0" height="2.0" fill="#21918c"/>
<rect x="44.0" y="20.0" width="2.0" height="2.0" fill="#35b779"/>
<rect x="46.0" y="20.0" width="2.0" height="2.0" fill="#6ece58"/>
<rect x="48.0" y="20.0" width="2.0" height="2.0" fill="#25ab82"/>
<rect x="50.0" y="20.0" width="2.0" height="2.0" fill="#1f9e89"/>
<rect x="52.0" y="20.0" width="2.0" height="2.0" fill="#35b779"/>
<rect x="54.0" y="20.0" width="2.0" height="2.0" fill="#35b779" fill-opacity="0.62"/>
<rect x="56.0" y="20.0" width="2.0" height="2.0" fill="#26828e" fill-opacity="0.62"/>
<rect x="60.0" y="20.0" width="2.0" height="2.0" fill="#1f9e89" fill-opacity="0.62"/>
<rect x="62.0" y="20.0" width="2.0" height="2.0" fill="#21918c"/>
<rect x="64.0" y="20.0" width="2.0" height="2.0" fill="#21918c"/>
<rect x="66.0" y="20.0" width="2.0" height="2.0" fill="#21918c"/>
<rect x="68.0" y="20.0" width="2.0" height="2.0" fill="#21918c"/>
<rect x="2.0" y="22.0" width="2.0" height="2.0" fill="#26828e"/>
<rect x="4.0" y="22.0" width="2.0" height="2.0" fill="#26828e"/>
<rect x="6.0" y="22.0" width="2.0" height="2.0" fill="#26828e"/>
<rect x="8.0" y="22.0" width="2.0" height="2.0" fill="#1f9e89"/>
<rect x="10.0" y="22.0" width="2.0" height="2.0" fill="#1f9e89"/>
<rect x="12.0" y="22.0" width="2.0" height="2.0" fill="#1f9e89"/>
<rect x="14.0" y="22.0" width="2.0" height="2.0" fill="#1f9e89"/>
<rect x="16.0" y="22.0" width="2.0" height="2.0" fill="#1f9e89" fill-opacity="0.62"/>
<rect x="18.0" y="22.0" width="2.0" height="2.0" fill="#1f9e89" fill-opacity="0.62"/>
<rect x="20.0" y="22.0" width="2.0" height="2.0" fill="#26828e"/>
<rect x="22.0" y="22.0" width="2.0" height="2.0" fill="#21918c"/>
<rect x="24.0" y="22.0" width="2.0" height="2.0" fill="#26828e"/>
<rect x="26.0" y="22.0" width="2.0" height="2.0" fill="#26828e"/>
<rect x="28.0" y="22.0" width="2.0" height="2.0" fill="#21918c"/>
<rect x="30.0" y="22.0" width="2.0" height="2.0" fill="#26828e"/>
<rect x="32.0" y="22.0" width="2.0" height="2.0" fill="#21918c"/>
<rect x="34.0" y="22.0" width="2.0" height="2.0" fill="#25ab82"/>
<rect x="36.0" y="22.0" width="2.0" height="2.0" fill="#25ab82"/>
<rect x="38.0" y="22.0" width="2.0" height="2.0" fill="#25ab82"/>
<rect x="40.0" y="22.0" width="2.0" height="2.0" fill="#26828e" fill-opacity="0.62"/>
<rect x="44.0" y="22.0" width="2.0" height="2.0" fill="#95c187"/>
<rect x="46.0" y="22.0" width="2.0" height="2.0" fill="#6ece58"/>
<rect x="48.0" y="22.0" width="2.0" height="2.0" fill="#21918c"/>
<rect x="50.0" y="22.0" width="2.0" height="2.0" fill="#21918c"/>
<rect x="52.0" y="22.0" width="2.0" height="2.0" fill="#35b779"/>
<rect x="54.0" y="22.0" width="2.0" height="2.0" fill="#35b779" fill-opacity="0.62"/>
<rect x="56.0" y="22.0" width="2.0" height="2.0" fill="#26828e" fill-opacity="0.62"/>
<rect x="58.0" y="22.0" width="2.0" height="2.0" fill="#1f9e89" fill-opacity="0.62"/>
<rect x="62.0" y="22.0" width="2.0" height="2.0" fill="#26828e" fill-opacity="0.62"/>
<rect x="64.0" y="22.0" width="2.0" height="2.0" fill="#26828e"/>
<rect x="66.0" y="22.0" width="2.0" height="2.0" fill="#26828e"/>
<rect x="68.0" y="22.0" width="2.0" height="2.0" fill="#21918c"/>
<rect x="2.0" y="24.0" width="2.0" height="2.0" fill="#1f9e89"/>
<rect x="4.0" y="24.0" width="2.0" height="2.0" fill="#1f9e89"/>
<rect x="6.0" y="24.0" width="2.0" height="2.0" fill="#1f9e89"/>
<rect x="8.0" y="24.0" width="2.0" height="2.0" fill="#1f9e89"/>
<rect x="10.0" y="24.0" width="2.0" height="2.0" fill="#1f9e89"/>
<rect x="12.0" y="24.0" width="2.0" height="2.0" fill="#1f9e89"/>
<rect x="14.0" y="24.0" width="2.0" height="2.0" fill="#1f9e89"/>
<rect x="16.0" y="24.0" width="2.0" height="2.0" fill="#1f9e89"/>
<rect x="18.0" y="24.0" width="2.0" height="2.0" fill="#26828e"/>
<rect x="20.0" y="24.0" width="2.0" height="2.0" fill="#21918c"/>
<rect x="22.0" y="24.0" width="2.0" height="2.0" fill="#21918c"/>
<rect x="24.0" y="24.0" width="2.0" height="2.0" fill="#21918c"/>
<rect x="26.0" y="24.0" width="2.0" height="2.0" fill="#21918c"/>
<rect x="28.0" y="24.0" width="2.0" height="2.0" fill="#25ab82"/>
<rect x="30.0" y="24.0" width="2.0" height="2.0" fill="#25ab82"/>
<rect x="32.0" y="24.0" width="2.0" height="2.0" fill="#25ab82"/>
<rect x="34.0" y="24.0" width="2.0" height="2.0" fill="#1f9e89"/>
<rect x="36.0" y="24.0" width="2.0" height="2.0" fill="#25ab82"/>
<rect x="38.0" y="24.0" width="2.0" height="2.0" fill="#1f9e89"/>
<rect x="46.0" y="24.0" width="2.0" height="2.0" fill="#1f9e89" fill-opacity="0.62"/>
<rect x="48.0" y="24.0" width="2.0" height="2.0" fill="#21918c"/>
<rect x="50.0" y="24.0" width="2.0" height="2.0" fill="#21918c"/>
<rect x="52.0" y="24.0" width="2.0" height="2.0" fill="#21918c"/>
<rect x="54.0" y="24.0" width="2.0" height="2.0" fill="#1f9e89"/>
<rect x="56.0" y="24.0" width="2.0" height="2.0" fill="#26828e" fill-opacity="0.62"/>
<rect x="58.0" y="24.0" width="2.0" height="2.0" fill="#1f9e89" fill-opacity="0.62"/>
<rect x="62.0" y="24.0" width="2.0" height="2.0" fill="#26828e" fill-opacity="0.62"/>
<rect x="64.0" y="24.0" width="2.0" height="2.0" fill="#26828e"/>
<rect x="66.0" y="24.0" width="2.0" height="2.0" fill="#26828e"/>
<rect x="68.0" y="24.0" width="2.0" height="2.0" fill="#26828e" fill-opacity="0.62"/>
<rect x="2.0" y="26.0" width="2.0" height="2.0" fill="#1f9e89"/>
<rect x="4.0" y="26.0" width="2.0" height="2.0" fill="#1f9e89"/>
<rect x="6.0" y="26.0" width="2.0" height="2.0" fill="#1f9e89"/>
<rect x="8.0" y="26.0" width="2.0" height="2.0" fill="#1f9e89"/>
<rect x="10.0" y="26.0" width="2.0" height="2.0" fill="#1f9e89"/>
<rect x="12.0" y="26.0" width="2.0" height="2.0" fill="#1f9e89"/>
<rect x="14.0" y="26.0" width="2.0" height="2.0" fill="#1f9e89"/>
<rect x="16.0" y="26.0" width="2.0" height="2.0" fill="#1f9e89" fill-opacity="0.62"/>
<rect x="18.0" y="26.0" width="2.0" height="2.0" fill="#26828e"/>
<rect x="20.0" y="26.0" width="2.0" height="2.0" fill="#21918c"/>
<rect x="22.0" y="26.0" width="2.0" height="2.0" fill="#21918c"/>
<rect x="24.0" y="26.0" width="2.0" height="2.0" fill="#1f9e89"/>
<rect x="26.0" y="26.0" width="2.0" height="2.0" fill="#1f9e89"/>
<rect x="28.0" y="26.0" width="2.0" height="2.0" fill="#25ab82"/>
<rect x="30.0" y="26.0" width="2.0" height="2.0" fill="#1f9e89"/>
<rect x="32.0" y="26.0" width="2.0" height="2.0" fill="#25ab82"/>
<rect x="34.0" y="26.0" width="2.0" height="2.0" fill="#1f9e89"/>
<rect x="36.0" y="26.0" width="2.0" height="2.0" fill="#1f9e89"/>
<rect x="38.0" y="26.0" width="2.0" height="2.0" fill="#26828e" fill-opacity="0.62"/>
<rect x="40.0" y="26.0" width="2.0" height="2.0" fill="#1f9e89" fill-opacity="0.62"/>
<rect x="46.0" y="26.0" width="2.0" height="2.0" fill="#26828e" fill-opacity="0.62"/>
<rect x="48.0" y="26.0" width="2.0" height="2.0" fill="#21918c"/>
<rect x="50.0" y="26.0" width="2.0" height="2.0" fill="#35b779"/>
<rect x="52.0" y="26.0" width="2.0" height="2.0" fill="#21918c"/>
<rect x="54.0" y="26.0" width="2.0" height="2.0" fill="#1f9e89"/>
<rect x="56.0" y="26.0" width="2.0" height="2.0" fill="#26828e" fill-opacity="0.62"/>
<rect x="58.0" y="26.0" width="2.0" height="2.0" fill="#1f9e89" fill-opacity="0.62"/>
<rect x="60.0" y="26.0" width="2.0" height="2.0" fill="#1f9e89"/>
<rect x="4.0" y="28.0" width="2.0" height="2.0" fill="#1f9e89"/>
<rect x="6.0" y="28.0" width="2.0" height="2.0" fill="#1f9e89"/>
<rect x="8.0" y="28.0" width="2.0" height="2.0" fill="#1f9e89"/>
<rect x="10.0" y="28.0" width="2.0" height="2.0" fill="#1f9e89"/>
<rect x="12.0" y="28.0" width="2.0" height="2.0" fill="#1f9e89"/>
<rect x="14.0" y="28.0" width="2.0" height="2.0" fill="#1f9e89"/>
<rect x="16.0" y="28.0" width="2.0" height="2.0" fill="#26828e" fill-opacity="0.62"/>
<rect x="18.0" y="28.0" width="2.0" height="2.0" fill="#26828e"/>
<rect x="20.0" y="28.0" width="2.0" height="2.0" fill="#21918c"/>
<rect x="22.0" y="28.0" width="2.0" height="2.0" fill="#21918c"/>
<rect x="24.0" y="28.0" width="2.0" height="2.0" fill="#21918c"/>
<rect x="26.0" y="28.0" width="2.0" height="2.0" fill="#21918c"/>
<rect x="28.0" y="28.0" width="2.0" height="2.0" fill="#1f9e89"/>
<rect x="30.0" y="28.0" width="2.0" height="2.0" fill="#1f9e89"/>
<rect x="32.0" y="28.0" width="2.0" height="2.0" fill="#1f9e89"/>
<rect x="34.0" y="28.0" width="2.0" height="2.0" fill="#1f9e89"/>
<rect x="36.0" y="28.0" width="2.0" height="2.0" fill="#21918c"/>
<rect x="38.0" y="28.0" width="2.0" height="2.0" fill="#26828e" fill-opacity="0.62"/>
<rect x="40.0" y="28.0" width="2.0" height="2.0" fill="#1f9e89" fill-opacity="0.62"/>
<rect x="46.0" y="28.0" width="2.0" height="2.0" fill="#26828e" fill-opacity="0.62"/>
<rect x="48.0" y="28.0" width="2.0" height="2.0" fill="#26828e"/>
<rect x="50.0" y="28.0" width="2.0" height="2.0" fill="#21918c"/>
<rect x="52.0" y="28.0" width="2.0" height="2.0" fill="#21918c"/>
<rect x="54.0" y="28.0" width="2.0" height="2.0" fill="#26828e" fill-opacity="0.62"/>
<rect x="58.0" y="28.0" width="2.0" height="2.0" fill="#1f9e89" fill-opacity="0.62"/>
<rect x="60.0" y="28.0" width="2.0" height="2.0" fill="#1f9e89"/>
</g>
</g>
<path d="M12.55 2.90 L12.46 2.57 L12.83 2.20 L12.97 1.92 L12.63 1.63 L12.90 0.97 L12.50 0.37 L12.93 0.29 L12.97 -0.19 L13.14 -0.33 L13.15 -1.11 M17.83 4.83 L18.21 5.47 L18.27 6.08 L18.61 7.14 L18.88 7.35 L18.69 7.74 L17.38 7.91 L16.93 8.28 L16.35 8.36 L16.31 9.10 L15.14 9.50 L14.76 10.00 L13.94 10.27 L12.94 10.42 L11.33 11.16 L11.33 12.34 M6.86 12.36 L11.18 12.34 L11.33 12.34 M11.18 12.34 L11.21 12.88 L11.31 14.12 L8.03 14.07 L8.06 16.62 L7.13 16.71 L6.88 17.23 L7.07 18.67 L3.16 18.67 M11.32 12.60 L15.08 15.02 M15.08 15.02 L13.55 15.04 L14.03 19.36 L14.51 23.68 L14.68 23.80 L14.46 24.50 L10.45 24.51 L10.30 24.74 L9.91 24.67 L9.35 24.87 L8.65 24.59 L8.33 24.61 L8.17 25.20 L8.07 25.62 L7.83 25.38 M7.83 25.38 L7.17 24.70 L6.56 23.96 L5.90 23.70 L5.42 23.40 L4.86 23.41 L4.38 23.63 L3.88 23.54 L3.54 23.86 M7.83 25.38 L7.88 26.01 L8.07 26.58 L8.45 26.86 L8.53 27.24 L8.49 27.56 L8.34 27.61 L7.80 27.53 L7.72 27.65 L7.50 27.67 L6.78 27.42 L6.30 27.41 L4.45 27.37 L4.18 27.48 L3.85 27.45 L3.32 27.62 M6.30 27.41 L6.28 27.75 L6.17 27.86 L6.26 28.19 L6.10 28.32 L5.88 28.32 L5.62 28.49 L5.31 28.47 L4.87 28.96 M3.16 26.85 L4.07 26.87 L4.31 26.73 L4.49 26.72 L4.86 26.49 L5.29 26.70 L5.72 26.72 L6.15 26.49 L5.95 26.21 L5.62 26.37 L5.31 26.37 L4.92 26.12 L4.60 26.14 L4.38 26.38 L3.29 26.41 M8.49 27.56 L8.54 27.92 L8.70 27.92 L9.13 27.82 L9.41 28.08 L9.84 28.16 L10.11 27.94 L10.43 27.81 L10.67 27.67 L10.87 27.69 L11.10 27.91 L11.21 28.19 L11.62 28.61 L11.42 28.86 L11.38 29.19 L11.59 29.09 L11.72 29.21 L11.66 29.51 L11.97 29.79 L12.10 29.70 L12.38 29.85 L13.15 29.86 L13.33 29.57 L13.51 29.59 L13.79 29.48 L13.95 29.90 L14.18 29.78 L14.60 29.63 L14.53 29.05 L14.80 28.62 L14.78 28.29 L15.57 27.46 L15.72 26.77 L15.99 26.53 L16.48 26.66 L16.90 26.46 L17.03 26.20 L17.81 25.75 L18.00 25.44 L18.93 25.03 L19.48 24.88 L19.73 25.08 L20.38 25.07 M11.97 29.79 L11.77 29.87 L11.69 30.21 L11.92 30.62 L12.20 31.40 M9.41 28.08 L9.70 29.00 L9.50 29.70 L9.80 30.50 M20.38 25.07 L20.30 25.56 L20.43 26.01 L20.99 26.66 L21.02 27.15 L22.18 27.38 L22.15 28.06 L21.94 28.36 L21.45 28.45 L21.24 28.89 L20.90 29.00 L20.02 28.98 L19.56 28.90 L19.24 29.06 L18.80 28.99 L17.06 29.04 L17.04 29.61 L17.17 30.36 L16.49 30.10 L16.02 30.14 L15.67 30.39 L15.22 30.18 L15.04 29.85 L14.60 29.63 M20.90 29.00 L20.77 29.53 L21.08 29.82 L21.43 30.18 L21.46 30.66 L21.66 30.87 L21.65 31.50 M20.02 28.98 L19.95 29.29 L20.37 29.81 L20.37 30.54 L20.46 31.32 M22.15 28.06 L22.49 27.77 L22.85 27.76 L23.61 28.34 L23.57 28.67 L23.80 29.27 L23.60 29.67 L23.70 29.94 L23.22 30.56 L22.91 30.86 L22.72 31.49 M20.38 25.07 L21.02 25.03 L21.39 24.68 L22.75 24.59 L23.64 24.43 L23.72 23.82 L24.27 23.15 L24.27 20.84 M15.08 15.02 L18.45 17.21 L21.82 19.39 L22.06 19.86 L22.68 20.14 L23.15 20.31 L23.16 20.94 L24.27 20.84 M24.27 20.84 L25.68 20.40 L28.57 18.43 L32.00 16.53 M23.61 28.34 L23.68 27.45 L23.97 27.04 L24.11 26.47 L24.37 26.25 L25.44 26.13 L26.45 26.51 L26.82 26.88 L27.33 26.90 L27.80 26.66 L29.02 27.17 L29.52 27.15 L30.12 26.72 L30.70 26.75 L30.99 26.61 L31.53 26.67 L32.30 26.96 L33.08 26.40 L33.32 26.44 L33.99 27.54 L34.18 27.52 L34.21 27.20 L34.50 27.14 L34.60 26.67 L33.95 26.65 L33.96 26.00 L33.54 25.63 L33.97 24.32 L35.25 23.37 L35.30 22.07 L35.69 20.04 L35.90 19.61 L35.49 19.27 L35.47 18.95 L35.10 18.69 L34.85 17.14 M32.00 16.53 L33.58 16.96 L34.14 17.51 L34.85 17.14 L35.86 16.59 L39.85 18.50 L43.84 20.42 M34.18 27.52 L34.58 27.91 L34.47 28.09 L34.41 28.43 L33.57 29.20 L33.31 29.84 L33.17 30.36 L32.95 30.58 L32.75 31.28 M34.50 27.14 L34.89 27.78 L34.96 28.44 L34.92 29.11 L35.47 30.02 L34.91 30.01 L34.63 30.08 L34.17 29.98 L33.95 30.45 L34.54 31.03 M35.47 30.02 L35.28 31.00 M34.54 31.03 L34.98 31.20 L35.12 31.62 L35.44 32.31 M42.86 28.86 L42.23 29.03 L41.72 29.43 L41.00 30.52 L40.06 30.99 L39.09 30.93 L38.81 31.02 L38.91 31.37 L38.39 31.72 M43.84 20.42 L43.89 24.39 L43.02 24.32 L42.57 25.06 L42.30 25.67 L42.51 25.91 L42.18 26.21 L42.30 26.63 L42.04 27.05 L41.94 27.41 L42.29 27.35 L42.50 27.74 L42.50 28.32 L42.88 28.62 L42.86 28.86 L42.98 29.29 L43.55 29.91 L43.56 30.32 L43.39 30.73 L43.46 31.05 L43.81 31.33 M43.84 20.42 L43.85 20.00 L45.00 20.00 L45.00 18.00 L45.00 10.76 L44.70 9.96 L44.96 9.34 L44.80 8.91 L45.16 8.43 M45.00 18.00 L56.87 18.00 M43.89 31.38 L44.19 31.27 L44.54 31.08 L44.80 30.19 L45.07 29.73 L45.79 29.59 L45.96 29.86 L46.48 30.45 L46.75 30.53 L47.11 30.36 L47.83 30.40 L47.97 30.60 L48.97 30.60 L49.00 30.40 L49.52 30.21 L49.62 29.91 L50.00 29.71 L50.84 30.29 L51.35 30.19 L51.85 29.47 L52.40 28.92 L52.31 28.32 L52.07 28.03 L52.67 27.98 L52.74 27.75 L53.21 27.82 L53.09 28.56 L53.21 29.28 L53.72 29.68 L53.84 30.02 L53.83 30.52 L53.96 30.54 M53.96 30.54 L54.26 29.37 L54.73 29.09 L54.83 28.68 L55.26 27.92 L55.86 27.42 L56.27 26.44 L56.43 25.58 L56.32 25.18 L56.75 23.71 L56.85 23.04 L57.17 22.74 L57.90 22.57 L58.41 22.00 M56.43 25.58 L57.59 25.79 L57.91 25.04 L58.51 25.49 L59.10 25.26 L59.34 25.47 L60.03 25.48 L60.90 25.88 L61.16 26.23 L61.60 26.55 L62.01 27.13 L62.35 27.46 L62.78 27.55 L63.08 27.30 M62.35 27.46 L62.00 27.90 L61.66 28.37 L61.74 28.64 L61.76 28.95 L62.31 28.97 L62.55 28.89 L62.78 29.07 L63.15 28.54 M62.78 29.07 L62.56 29.43 L62.93 29.98 L63.30 30.46 L63.68 30.82 M68.95 28.59 L68.95 30.55 M28.42 3.05 L28.22 3.57 L28.38 4.52 L28.14 5.34 L27.52 5.90 L27.61 6.66 L28.43 7.25 L28.44 7.49 L29.06 7.90 L29.48 9.69 M29.48 9.69 L29.81 10.57 L29.86 11.04 L29.68 11.86 L29.76 12.31 L29.63 12.86 L29.72 13.49 L29.32 13.91 L29.91 14.64 L29.95 15.06 L30.30 15.62 L30.77 15.44 L31.56 15.90 L32.00 16.53 M29.48 9.69 L29.97 9.46 L30.06 9.04 L29.95 8.62 L30.64 8.24 L30.95 7.92 L31.43 7.63 L31.49 6.86 M54.27 8.78 L54.92 10.50 M54.92 10.50 L55.42 8.90 L55.40 8.51 L55.55 8.22 L55.55 7.61 L55.72 7.29 L55.84 7.13 L55.82 6.72 L55.55 6.74 L55.46 6.91 L55.13 6.91 M54.96 10.64 L56.07 10.80 L56.50 10.50 L56.74 10.14 L57.50 10.00 L57.67 9.66 L58.00 9.49 L57.00 8.49 L59.01 7.99 L59.20 7.84 M55.72 7.29 L56.83 7.69 L58.79 6.62 L59.20 7.84 M55.82 6.72 L56.07 6.17 L56.61 5.80 L56.45 5.41 L56.00 5.35 M59.20 7.84 L60.40 8.11 L61.89 8.81 L64.71 10.82 L66.57 10.90 L67.46 11.00 L67.71 11.47 L68.42 11.45 M66.57 10.90 L67.30 9.94 L67.97 10.02 M58.79 6.62 L61.01 5.58 L61.38 4.37 L61.29 3.64 L61.84 3.39 L62.35 2.77 M56.15 4.18 L56.42 3.96 L56.69 3.74 L56.74 3.18 L57.07 3.38 L58.17 3.10 L58.70 3.29 L59.52 3.28 L60.67 2.91 L61.21 2.93 L62.35 2.77 L62.78 2.62 L63.94 2.74 L64.29 3.00 L64.77 2.83 M64.77 2.83 L65.42 4.02 L66.08 4.32 L66.15 4.91 L65.65 5.25 L65.42 6.03 L66.11 6.98 L67.34 7.53 L67.85 8.29 L67.69 9.02 L68.00 9.02 L68.02 9.55 L68.57 10.07 M64.77 2.83 L64.23 2.03 L64.42 1.72 L64.11 0.57 L64.79 0.29 L64.50 0.00 L63.60 -0.30 L63.60 -1.10 M64.79 0.29 L64.95 0.66 L65.46 1.13 L66.14 1.26 L66.51 1.23 L67.69 0.49 L68.06 0.42 L68.36 0.71 L68.01 1.21 L68.63 1.73 L68.88 1.68 M64.79 0.29 L65.60 0.00 L65.90 -0.60 L65.00 -1.30 M66.51 1.23 L66.40 0.70 L65.80 0.20 L65.30 0.00 M62.78 23.65 L63.22 23.33 L63.12 22.91 L63.38 22.42 L63.79 22.68 L64.06 22.59 L65.22 22.57 L65.40 22.67 L66.37 22.77 L66.75 22.72 L67.00 23.05 L67.47 22.88 L68.18 21.83 L69.12 21.38 L72.00 21.00 M40.15 0.38 L40.61 -0.11 L40.67 -0.44 L41.00 -0.58 L41.02 -0.84 L41.67 -0.93 L42.05 -1.15 M46.06 -0.82 L46.30 -0.94 L46.60 -1.56" stroke="#2a2a2a" stroke-width="0.45" stroke-opacity="0.8" vector-effect="non-scaling-stroke" fill="none" stroke-linejoin="round"/>
</svg>
<rect x="271.5" y="20.5" width="218.0" height="95.0" fill="none" stroke="#7a7a7a" stroke-width="1"/>
<svg x="36.5" y="135.5" width="217.0" height="95.0" viewBox="0 0 70 30" preserveAspectRatio="none" overflow="hidden">
<rect x="0" y="0" width="70" height="30" fill="#d8d8d8"/>
<g fill="#ababab">
<polygon points="6.20,31.00 5.92,30.11 5.67,29.98 5.42,29.79 5.16,29.12 4.87,28.96 4.34,28.54 3.91,28.48 3.68,28.19 3.69,28.04 3.39,27.83 3.32,27.62 3.16,26.85 3.29,26.41 2.87,25.63 2.38,25.27 2.82,25.08 3.30,24.38 3.54,23.86 3.45,23.33 3.73,22.83 3.85,21.89 3.74,20.90 3.62,20.41 3.72,19.91 3.46,19.43 2.94,19.00 3.03,18.11 3.41,17.84 3.74,17.32 3.67,16.98 4.02,16.28 4.57,15.64 4.91,15.48 5.18,14.90 5.20,14.36 5.56,13.75 6.23,13.38 6.86,12.36 7.38,11.96 8.31,11.85 9.10,11.17 9.60,10.90 10.44,10.07 10.19,8.82 10.56,7.96 10.70,7.44 11.34,6.76 12.35,6.30 13.09,5.89 13.76,4.85 14.07,4.24 14.81,4.24 15.41,4.67 16.36,4.60 17.40,4.82 17.83,4.83 18.79,4.28 19.87,4.11 20.50,3.70 21.47,3.39 23.16,3.22 24.82,3.13 25.32,3.28 26.26,2.89 27.33,2.88 27.74,3.11 28.42,3.05 29.51,2.65 30.21,2.77 30.18,3.28 31.03,2.91 31.10,3.10 30.60,3.59 30.59,4.05 30.94,4.30 30.81,5.17 30.15,5.67 30.34,6.21 30.86,6.23 31.11,6.71 31.49,6.86 32.66,7.21 33.08,7.12 33.92,7.29 35.25,7.73 35.71,8.62 36.61,8.82 38.02,9.24 39.09,9.73 39.57,9.47 40.05,9.01 39.82,8.25 40.13,7.76 40.86,7.29 41.54,7.16 42.90,7.36 43.24,7.81 43.61,7.81 43.93,7.98 44.92,8.10 45.16,8.43 46.50,8.41 47.46,8.68 48.45,8.97 48.91,9.13 49.68,8.81 50.09,8.53 50.98,8.44 51.69,8.57 51.96,9.07 52.19,8.74 52.99,8.98 53.77,9.03 54.27,8.78 54.56,8.45 54.49,8.39 54.75,7.93 54.95,7.17 55.10,6.92 55.13,6.91 55.48,6.09 55.98,5.39 56.00,5.35 55.91,4.59 56.15,4.18 55.78,3.73 56.16,3.35 55.55,3.44 54.72,3.20 54.03,3.78 52.51,3.89 51.70,3.36 50.62,3.32 50.39,3.74 49.70,3.86 48.73,3.32 47.64,3.34 47.05,2.35 46.32,1.79 46.80,1.01 46.17,0.54 47.28,-0.42 47.50,-1.50 71.50,-1.50 71.50,31.00"/>
<polygon points="10.50,-1.50 11.01,-1.54 11.21,-1.18 11.23,-0.76 11.02,-0.16 10.95,0.24 10.55,0.61 10.47,1.26 10.71,1.64 11.16,1.73 11.25,2.35 11.10,3.13 11.62,3.02 12.14,3.16 12.55,2.90 13.48,3.06 13.76,3.63 14.13,3.97 14.62,4.05 15.00,3.67 15.63,3.32 16.58,3.34 17.85,3.33 18.56,2.56 19.32,2.36 19.53,1.71 20.11,1.26 19.72,0.69 20.11,-0.12 20.72,-0.68 20.81,-1.02 21.20,-1.50"/>
<polygon points="22.35,0.45 22.70,0.05 23.20,0.05 23.45,0.30 23.20,0.70 22.75,0.60"/>
<polygon points="21.20,1.05 21.40,0.90 21.60,1.00 21.40,1.15"/>
<polygon points="23.80,0.00 24.30,0.05 24.20,0.20 23.85,0.10"/>
<polygon points="29.21,-1.21 29.81,-0.50 29.67,0.82 29.21,0.76 28.81,1.09 28.43,0.83 28.39,-0.38 28.16,-0.95 28.71,-0.90"/>
<polygon points="35.52,1.77 35.16,2.56 35.31,2.87 35.10,3.38 34.34,3.00 33.83,2.90 32.43,2.39 32.57,1.87 33.74,1.97 34.76,1.86"/>
<polygon points="34.00,-1.50 34.06,-0.79 34.70,-0.60 35.00,-0.17 35.41,-0.05 35.72,0.46 36.11,1.03 35.89,1.25 35.69,1.78 35.68,2.09 36.10,2.01 36.64,1.16 37.05,1.10 37.17,0.58 36.45,0.20 36.87,-0.44 37.74,-0.28 38.29,0.19 38.48,-0.17 38.00,-1.00 37.50,-1.50"/>
<polygon points="39.30,-1.50 39.32,-0.73 39.41,-0.25 39.96,0.09 40.15,0.38 40.22,0.66 40.73,1.23 41.12,1.69 41.30,2.35 41.67,3.16 42.49,3.59 43.15,3.58 42.77,2.70 43.41,2.59 43.11,2.08 44.04,2.34 44.02,1.78 43.53,1.49 42.97,1.03 43.35,0.81 42.85,0.34 42.63,-0.26 42.81,-0.48 43.34,0.04 43.90,0.04 44.41,-0.12 43.72,-0.69 44.93,-0.95 45.45,-0.85 46.06,-0.82 46.30,-0.94 46.60,-1.50"/>
<polygon points="42.80,1.05 43.30,1.10 44.10,1.35 44.55,1.85 44.30,2.00 43.60,1.50 43.10,1.25"/>
<polygon points="43.70,4.30 44.25,4.63 45.02,4.58 45.77,4.65 45.75,4.82 46.29,4.70 46.16,4.99 44.73,5.08 44.73,4.91 43.52,4.72"/>
<polygon points="54.58,4.33 53.90,4.75 53.97,4.94 54.01,5.02 52.98,5.43 52.49,5.30 52.26,4.90 52.73,4.86 52.95,4.61 53.67,4.63"/>
<polygon points="47.70,3.85 48.20,3.55 48.25,3.90 47.85,4.10"/>
<polygon points="45.85,0.75 46.20,0.60 46.60,0.95 46.00,0.90"/>
<polygon points="45.85,1.45 46.15,1.45 46.00,1.80"/>
<polygon points="46.60,2.20 47.05,2.25 46.90,2.35"/>
</g>
<g fill="#d8d8d8">
<polygon points="52.42,10.15 52.32,10.24 52.73,11.30 53.35,12.30 54.10,13.86 54.47,14.40 54.80,14.97 55.69,16.07 55.49,16.25 55.53,16.90 56.69,17.80 56.87,18.00 57.19,18.98 56.97,19.16 57.12,20.19 57.48,21.39 57.86,21.63 58.41,22.00 58.99,23.16 59.27,24.08 59.81,24.56 61.18,25.51 61.73,26.08 62.28,26.66 62.59,27.00 63.08,27.30 63.32,27.61 63.29,28.02 62.72,28.26 63.15,28.54 63.47,28.72 63.67,29.14 64.12,29.55 64.61,29.56 65.56,29.30 66.65,29.18 67.53,28.87 68.02,28.81 68.38,28.62 68.95,28.59 69.27,28.57 69.73,28.42 70.26,28.32 70.73,27.98 71.50,28.00 71.50,24.60 71.17,24.82 69.58,25.29 68.68,26.00 68.24,26.05 67.94,25.99 67.35,26.41 66.72,26.60 65.88,26.65 65.62,26.71 65.41,26.97 65.14,27.05 64.99,27.30 64.50,27.28 64.17,27.41 63.48,27.36 63.22,26.78 63.25,26.23 63.09,25.94 62.89,25.20 62.60,24.79 62.80,24.74 62.70,24.28 62.82,24.09 62.78,23.65 62.65,23.23 62.35,22.92 62.27,22.52 61.75,22.17 61.22,21.33 60.94,20.51 60.25,19.82 59.80,19.66 59.14,18.71 59.02,18.01 59.07,17.42 58.49,16.31 58.02,15.92 57.48,15.71 57.16,15.14 57.21,14.91 56.93,14.40 56.64,14.17 56.25,13.43 55.64,12.62 55.13,11.94 54.63,11.94 54.79,11.39 54.83,11.04 54.96,10.64 54.92,10.50 54.64,10.90 54.43,11.66 54.16,12.18 53.92,12.35 53.59,12.03 53.14,11.58"/>
<polygon points="67.97,10.02 68.18,10.47 68.09,10.69 68.42,11.45 68.81,12.31 69.30,12.54 69.47,12.89 70.15,13.31 70.21,13.72 70.11,14.06 70.24,14.39 70.53,14.67 70.66,15.00 70.81,15.25 71.50,15.40 71.50,10.50 70.85,11.18 70.12,9.85 69.58,10.01 68.57,10.07"/>
<polygon points="69.11,-1.28 69.62,-0.57 70.09,-0.53 70.39,-0.26 69.57,-0.18 69.40,0.60 69.22,0.95 68.86,1.19 68.88,1.68 69.20,2.42 70.15,2.62 70.84,3.13 71.50,3.20 71.50,-1.50 69.00,-1.50"/>
</g>
<g fill="#8a8a8a" stroke="#666" stroke-width="0.3" vector-effect="non-scaling-stroke">
<polygon points="6.10,11.15 6.60,10.80 6.60,11.10 6.20,11.25"/>
<polygon points="5.50,11.95 5.80,11.80 6.15,11.25 6.15,11.60 5.80,11.95"/>
<polygon points="4.20,12.00 4.40,11.80 4.60,12.00 4.40,12.25"/>
<polygon points="3.10,11.65 3.60,11.45 3.85,11.45 3.50,11.95 3.20,11.90"/>
<polygon points="2.65,11.90 2.80,11.80 2.90,11.90 2.75,12.00"/>
<polygon points="2.05,11.15 2.25,11.20 2.20,11.50 2.10,11.40"/>
<polygon points="1.85,12.25 2.10,12.15 2.10,12.30"/>
<polygon points="2.75,7.20 3.05,7.15 3.35,7.25 3.05,7.35"/>
</g>
<path d="M10 0V30 M20 0V30 M30 0V30 M40 0V30 M50 0V30 M60 0V30 M0 20H70 M0 10H70" stroke="#7a7a7a" stroke-opacity="0.45" stroke-width="0.7" vector-effect="non-scaling-stroke" fill="none"/>
<g clip-path="url(#land_a)"><g filter="url(#soft)" shape-rendering="crispEdges">
<rect x="10.0" y="0.0" width="2.0" height="2.0" fill="#1f9aa0"/>
<rect x="12.0" y="0.0" width="2.0" height="2.0" fill="#1f9aa0"/>
<rect x="14.0" y="0.0" width="2.0" height="2.0" fill="#1f9aa0"/>
<rect x="16.0" y="0.0" width="2.0" height="2.0" fill="#1f9e89" fill-opacity="0.62"/>
<rect x="22.0" y="0.0" width="2.0" height="2.0" fill="#385a98"/>
<rect x="28.0" y="0.0" width="2.0" height="2.0" fill="#385a98"/>
<rect x="42.0" y="0.0" width="2.0" height="2.0" fill="#31688e" fill-opacity="0.62"/>
<rect x="66.0" y="0.0" width="2.0" height="2.0" fill="#31688e" fill-opacity="0.62"/>
<rect x="10.0" y="2.0" width="2.0" height="2.0" fill="#1f9aa0"/>
<rect x="12.0" y="2.0" width="2.0" height="2.0" fill="#1f9aa0"/>
<rect x="14.0" y="2.0" width="2.0" height="2.0" fill="#1f9aa0"/>
<rect x="16.0" y="2.0" width="2.0" height="2.0" fill="#1f9e89" fill-opacity="0.62"/>
<rect x="12.0" y="4.0" width="2.0" height="2.0" fill="#26828e"/>
<rect x="14.0" y="4.0" width="2.0" height="2.0" fill="#26828e" fill-opacity="0.62"/>
<rect x="18.0" y="4.0" width="2.0" height="2.0" fill="#2b758e"/>
<rect x="20.0" y="4.0" width="2.0" height="2.0" fill="#385a98"/>
<rect x="22.0" y="4.0" width="2.0" height="2.0" fill="#3c508b" fill-opacity="0.62"/>
<rect x="24.0" y="4.0" width="2.0" height="2.0" fill="#31688e" fill-opacity="0.62"/>
<rect x="60.0" y="4.0" width="2.0" height="2.0" fill="#3c508b" fill-opacity="0.62"/>
<rect x="10.0" y="6.0" width="2.0" height="2.0" fill="#31688e"/>
<rect x="12.0" y="6.0" width="2.0" height="2.0" fill="#385a98"/>
<rect x="14.0" y="6.0" width="2.0" height="2.0" fill="#3c508b" fill-opacity="0.62"/>
<rect x="16.0" y="6.0" width="2.0" height="2.0" fill="#3c508b" fill-opacity="0.62"/>
<rect x="18.0" y="6.0" width="2.0" height="2.0" fill="#385a98"/>
<rect x="20.0" y="6.0" width="2.0" height="2.0" fill="#385a98"/>
<rect x="22.0" y="6.0" width="2.0" height="2.0" fill="#385a98"/>
<rect x="24.0" y="6.0" width="2.0" height="2.0" fill="#3c508b" fill-opacity="0.62"/>
<rect x="26.0" y="6.0" width="2.0" height="2.0" fill="#3c508b" fill-opacity="0.62"/>
<rect x="28.0" y="6.0" width="2.0" height="2.0" fill="#385a98"/>
<rect x="30.0" y="6.0" width="2.0" height="2.0" fill="#3c508b" fill-opacity="0.62"/>
<rect x="32.0" y="6.0" width="2.0" height="2.0" fill="#385a98"/>
<rect x="40.0" y="6.0" width="2.0" height="2.0" fill="#31688e"/>
<rect x="42.0" y="6.0" width="2.0" height="2.0" fill="#31688e" fill-opacity="0.62"/>
<rect x="58.0" y="6.0" width="2.0" height="2.0" fill="#3c508b" fill-opacity="0.62"/>
<rect x="60.0" y="6.0" width="2.0" height="2.0" fill="#385a98"/>
<rect x="62.0" y="6.0" width="2.0" height="2.0" fill="#3c508b" fill-opacity="0.62"/>
<rect x="10.0" y="8.0" width="2.0" height="2.0" fill="#3c4d92"/>
<rect x="12.0" y="8.0" width="2.0" height="2.0" fill="#44378a"/>
<rect x="14.0" y="8.0" width="2.0" height="2.0" fill="#44378a"/>
<rect x="16.0" y="8.0" width="2.0" height="2.0" fill="#3c4d92"/>
<rect x="18.0" y="8.0" width="2.0" height="2.0" fill="#3c4d92"/>
<rect x="20.0" y="8.0" width="2.0" height="2.0" fill="#3c4d92"/>
<rect x="22.0" y="8.0" width="2.0" height="2.0" fill="#385a98"/>
<rect x="24.0" y="8.0" width="2.0" height="2.0" fill="#385a98"/>
<rect x="26.0" y="8.0" width="2.0" height="2.0" fill="#385a98"/>
<rect x="28.0" y="8.0" width="2.0" height="2.0" fill="#385a98"/>
<rect x="30.0" y="8.0" width="2.0" height="2.0" fill="#385a98"/>
<rect x="32.0" y="8.0" width="2.0" height="2.0" fill="#385a98"/>
<rect x="34.0" y="8.0" width="2.0" height="2.0" fill="#385a98"/>
<rect x="36.0" y="8.0" width="2.0" height="2.0" fill="#385a98"/>
<rect x="38.0" y="8.0" width="2.0" height="2.0" fill="#385a98"/>
<rect x="40.0" y="8.0" width="2.0" height="2.0" fill="#31688e"/>
<rect x="42.0" y="8.0" width="2.0" height="2.0" fill="#31688e" fill-opacity="0.62"/>
<rect x="58.0" y="8.0" width="2.0" height="2.0" fill="#385a98"/>
<rect x="60.0" y="8.0" width="2.0" height="2.0" fill="#385a98"/>
<rect x="62.0" y="8.0" width="2.0" height="2.0" fill="#385a98"/>
<rect x="64.0" y="8.0" width="2.0" height="2.0" fill="#3c508b" fill-opacity="0.62"/>
<rect x="8.0" y="10.0" width="2.0" height="2.0" fill="#385a98"/>
<rect x="10.0" y="10.0" width="2.0" height="2.0" fill="#3c4d92"/>
<rect x="12.0" y="10.0" width="2.0" height="2.0" fill="#385a98"/>
<rect x="14.0" y="10.0" width="2.0" height="2.0" fill="#8394b1"/>
<rect x="16.0" y="10.0" width="2.0" height="2.0" fill="#8394b1"/>
<rect x="18.0" y="10.0" width="2.0" height="2.0" fill="#8394b1"/>
<rect x="20.0" y="10.0" width="2.0" height="2.0" fill="#385a98"/>
<rect x="22.0" y="10.0" width="2.0" height="2.0" fill="#385a98"/>
<rect x="24.0" y="10.0" width="2.0" height="2.0" fill="#3c4d92"/>
<rect x="26.0" y="10.0" width="2.0" height="2.0" fill="#3c4d92"/>
<rect x="28.0" y="10.0" width="2.0" height="2.0" fill="#3c4d92"/>
<rect x="30.0" y="10.0" width="2.0" height="2.0" fill="#3c4d92"/>
<rect x="32.0" y="10.0" width="2.0" height="2.0" fill="#3c4d92"/>
<rect x="34.0" y="10.0" width="2.0" height="2.0" fill="#3c4d92"/>
<rect x="36.0" y="10.0" width="2.0" height="2.0" fill="#385a98"/>
<rect x="38.0" y="10.0" width="2.0" height="2.0" fill="#3c4d92"/>
<rect x="40.0" y="10.0" width="2.0" height="2.0" fill="#31688e"/>
<rect x="42.0" y="10.0" width="2.0" height="2.0" fill="#31688e"/>
<rect x="44.0" y="10.0" width="2.0" height="2.0" fill="#31688e"/>
<rect x="46.0" y="10.0" width="2.0" height="2.0" fill="#31688e" fill-opacity="0.62"/>
<rect x="58.0" y="10.0" width="2.0" height="2.0" fill="#385a98"/>
<rect x="60.0" y="10.0" width="2.0" height="2.0" fill="#385a98"/>
<rect x="62.0" y="10.0" width="2.0" height="2.0" fill="#385a98"/>
<rect x="64.0" y="10.0" width="2.0" height="2.0" fill="#3c508b" fill-opacity="0.62"/>
<rect x="6.0" y="12.0" width="2.0" height="2.0" fill="#2b758e"/>
<rect x="8.0" y="12.0" width="2.0" height="2.0" fill="#385a98"/>
<rect x="10.0" y="12.0" width="2.0" height="2.0" fill="#385a98"/>
<rect x="12.0" y="12.0" width="2.0" height="2.0" fill="#8394b1"/>
<rect x="14.0" y="12.0" width="2.0" height="2.0" fill="#8394b1"/>
<rect x="16.0" y="12.0" width="2.0" height="2.0" fill="#8394b1"/>
<rect x="18.0" y="12.0" width="2.0" height="2.0" fill="#385a98"/>
<rect x="20.0" y="12.0" width="2.0" height="2.0" fill="#385a98"/>
<rect x="22.0" y="12.0" width="2.0" height="2.0" fill="#3c4d92"/>
<rect x="24.0" y="12.0" width="2.0" height="2.0" fill="#3c4d92"/>
<rect x="26.0" y="12.0" width="2.0" height="2.0" fill="#44378a"/>
<rect x="28.0" y="12.0" width="2.0" height="2.0" fill="#3c4d92"/>
<rect x="30.0" y="12.0" width="2.0" height="2.0" fill="#3c4d92"/>
<rect x="32.0" y="12.0" width="2.0" height="2.0" fill="#3c4d92"/>
<rect x="34.0" y="12.0" width="2.0" height="2.0" fill="#3c4d92"/>
<rect x="36.0" y="12.0" width="2.0" height="2.0" fill="#44378a"/>
<rect x="38.0" y="12.0" width="2.0" height="2.0" fill="#3c4d92"/>
<rect x="40.0" y="12.0" width="2.0" height="2.0" fill="#31688e"/>
<rect x="42.0" y="12.0" width="2.0" height="2.0" fill="#31688e"/>
<rect x="44.0" y="12.0" width="2.0" height="2.0" fill="#31688e"/>
<rect x="46.0" y="12.0" width="2.0" height="2.0" fill="#31688e" fill-opacity="0.62"/>
<rect x="56.0" y="12.0" width="2.0" height="2.0" fill="#385a98"/>
<rect x="58.0" y="12.0" width="2.0" height="2.0" fill="#385a98"/>
<rect x="60.0" y="12.0" width="2.0" height="2.0" fill="#385a98"/>
<rect x="62.0" y="12.0" width="2.0" height="2.0" fill="#385a98"/>
<rect x="64.0" y="12.0" width="2.0" height="2.0" fill="#385a98"/>
<rect x="66.0" y="12.0" width="2.0" height="2.0" fill="#3c508b" fill-opacity="0.62"/>
<rect x="4.0" y="14.0" width="2.0" height="2.0" fill="#26828e"/>
<rect x="6.0" y="14.0" width="2.0" height="2.0" fill="#26828e" fill-opacity="0.62"/>
<rect x="8.0" y="14.0" width="2.0" height="2.0" fill="#26828e" fill-opacity="0.62"/>
<rect x="14.0" y="14.0" width="2.0" height="2.0" fill="#2b758e"/>
<rect x="16.0" y="14.0" width="2.0" height="2.0" fill="#385a98"/>
<rect x="18.0" y="14.0" width="2.0" height="2.0" fill="#3c508b" fill-opacity="0.62"/>
<rect x="20.0" y="14.0" width="2.0" height="2.0" fill="#385a98"/>
<rect x="22.0" y="14.0" width="2.0" height="2.0" fill="#385a98"/>
<rect x="24.0" y="14.0" width="2.0" height="2.0" fill="#44378a"/>
<rect x="26.0" y="14.0" width="2.0" height="2.0" fill="#44378a"/>
<rect x="28.0" y="14.0" width="2.0" height="2.0" fill="#3c4d92"/>
<rect x="30.0" y="14.0" width="2.0" height="2.0" fill="#3c4d92"/>
<rect x="32.0" y="14.0" width="2.0" height="2.0" fill="#3c4d92"/>
<rect x="34.0" y="14.0" width="2.0" height="2.0" fill="#3c4d92"/>
<rect x="36.0" y="14.0" width="2.0" height="2.0" fill="#3c4d92"/>
<rect x="38.0" y="14.0" width="2.0" height="2.0" fill="#3c4d92"/>
<rect x="40.0" y="14.0" width="2.0" height="2.0" fill="#31688e"/>
<rect x="42.0" y="14.0" width="2.0" height="2.0" fill="#31688e"/>
<rect x="44.0" y="14.0" width="2.0" height="2.0" fill="#31688e"/>
<rect x="46.0" y="14.0" width="2.0" height="2.0" fill="#31688e"/>
<rect x="48.0" y="14.0" width="2.0" height="2.0" fill="#31688e"/>
<rect x="50.0" y="14.0" width="2.0" height="2.0" fill="#31688e" fill-opacity="0.62"/>
<rect x="52.0" y="14.0" width="2.0" height="2.0" fill="#31688e" fill-opacity="0.62"/>
<rect x="56.0" y="14.0" width="2.0" height="2.0" fill="#3c508b" fill-opacity="0.62"/>
<rect x="58.0" y="14.0" width="2.0" height="2.0" fill="#385a98"/>
<rect x="60.0" y="14.0" width="2.0" height="2.0" fill="#31688e" fill-opacity="0.62"/>
<rect x="62.0" y="14.0" width="2.0" height="2.0" fill="#3c508b" fill-opacity="0.62"/>
<rect x="68.0" y="14.0" width="2.0" height="2.0" fill="#31688e" fill-opacity="0.62"/>
<rect x="2.0" y="16.0" width="2.0" height="2.0" fill="#26828e" fill-opacity="0.62"/>
<rect x="4.0" y="16.0" width="2.0" height="2.0" fill="#26828e" fill-opacity="0.62"/>
<rect x="6.0" y="16.0" width="2.0" height="2.0" fill="#26828e" fill-opacity="0.62"/>
<rect x="14.0" y="16.0" width="2.0" height="2.0" fill="#31688e" fill-opacity="0.62"/>
<rect x="16.0" y="16.0" width="2.0" height="2.0" fill="#2b758e"/>
<rect x="18.0" y="16.0" width="2.0" height="2.0" fill="#385a98"/>
<rect x="20.0" y="16.0" width="2.0" height="2.0" fill="#26828e" fill-opacity="0.62"/>
<rect x="22.0" y="16.0" width="2.0" height="2.0" fill="#2b758e"/>
<rect x="24.0" y="16.0" width="2.0" height="2.0" fill="#3c4d92"/>
<rect x="26.0" y="16.0" width="2.0" height="2.0" fill="#3c4d92"/>
<rect x="28.0" y="16.0" width="2.0" height="2.0" fill="#3c4d92"/>
<rect x="30.0" y="16.0" width="2.0" height="2.0" fill="#44378a"/>
<rect x="32.0" y="16.0" width="2.0" height="2.0" fill="#44378a"/>
<rect x="34.0" y="16.0" width="2.0" height="2.0" fill="#3c4d92"/>
<rect x="36.0" y="16.0" width="2.0" height="2.0" fill="#44378a"/>
<rect x="38.0" y="16.0" width="2.0" height="2.0" fill="#3c4d92"/>
<rect x="40.0" y="16.0" width="2.0" height="2.0" fill="#31688e"/>
<rect x="42.0" y="16.0" width="2.0" height="2.0" fill="#31688e"/>
<rect x="44.0" y="16.0" width="2.0" height="2.0" fill="#31688e"/>
<rect x="46.0" y="16.0" width="2.0" height="2.0" fill="#31688e"/>
<rect x="48.0" y="16.0" width="2.0" height="2.0" fill="#31688e"/>
<rect x="50.0" y="16.0" width="2.0" height="2.0" fill="#31688e"/>
<rect x="52.0" y="16.0" width="2.0" height="2.0" fill="#31688e"/>
<rect x="58.0" y="16.0" width="2.0" height="2.0" fill="#3c508b" fill-opacity="0.62"/>
<rect x="4.0" y="18.0" width="2.0" height="2.0" fill="#26828e" fill-opacity="0.62"/>
<rect x="6.0" y="18.0" width="2.0" height="2.0" fill="#26828e" fill-opacity="0.62"/>
<rect x="14.0" y="18.0" width="2.0" height="2.0" fill="#31688e" fill-opacity="0.62"/>
<rect x="16.0" y="18.0" width="2.0" height="2.0" fill="#2b758e"/>
<rect x="18.0" y="18.0" width="2.0" height="2.0" fill="#31688e" fill-opacity="0.62"/>
<rect x="20.0" y="18.0" width="2.0" height="2.0" fill="#26828e" fill-opacity="0.62"/>
<rect x="22.0" y="18.0" width="2.0" height="2.0" fill="#26828e"/>
<rect x="24.0" y="18.0" width="2.0" height="2.0" fill="#3c4d92"/>
<rect x="26.0" y="18.0" width="2.0" height="2.0" fill="#44378a"/>
<rect x="28.0" y="18.0" width="2.0" height="2.0" fill="#44378a"/>
<rect x="30.0" y="18.0" width="2.0" height="2.0" fill="#44378a"/>
<rect x="32.0" y="18.0" width="2.0" height="2.0" fill="#44378a"/>
<rect x="34.0" y="18.0" width="2.0" height="2.0" fill="#44378a"/>
<rect x="36.0" y="18.0" width="2.0" height="2.0" fill="#44378a"/>
<rect x="38.0" y="18.0" width="2.0" height="2.0" fill="#3c4d92"/>
<rect x="40.0" y="18.0" width="2.0" height="2.0" fill="#31688e"/>
<rect x="42.0" y="18.0" width="2.0" height="2.0" fill="#31688e"/>
<rect x="44.0" y="18.0" width="2.0" height="2.0" fill="#31688e"/>
<rect x="46.0" y="18.0" width="2.0" height="2.0" fill="#31688e" fill-opacity="0.62"/>
<rect x="58.0" y="18.0" width="2.0" height="2.0" fill="#31688e" fill-opacity="0.62"/>
<rect x="4.0" y="20.0" width="2.0" height="2.0" fill="#26828e" fill-opacity="0.62"/>
<rect x="6.0" y="20.0" width="2.0" height="2.0" fill="#26828e" fill-opacity="0.62"/>
<rect x="20.0" y="20.0" width="2.0" height="2.0" fill="#26828e"/>
<rect x="22.0" y="20.0" width="2.0" height="2.0" fill="#2b758e"/>
<rect x="24.0" y="20.0" width="2.0" height="2.0" fill="#31688e"/>
<rect x="26.0" y="20.0" width="2.0" height="2.0" fill="#385a98"/>
<rect x="28.0" y="20.0" width="2.0" height="2.0" fill="#3c4d92"/>
<rect x="30.0" y="20.0" width="2.0" height="2.0" fill="#44378a"/>
<rect x="32.0" y="20.0" width="2.0" height="2.0" fill="#44378a"/>
<rect x="34.0" y="20.0" width="2.0" height="2.0" fill="#3c4d92"/>
<rect x="36.0" y="20.0" width="2.0" height="2.0" fill="#385a98"/>
<rect x="38.0" y="20.0" width="2.0" height="2.0" fill="#385a98"/>
<rect x="40.0" y="20.0" width="2.0" height="2.0" fill="#2b758e"/>
<rect x="42.0" y="20.0" width="2.0" height="2.0" fill="#2b758e"/>
<rect x="44.0" y="20.0" width="2.0" height="2.0" fill="#31688e"/>
<rect x="46.0" y="20.0" width="2.0" height="2.0" fill="#31688e" fill-opacity="0.62"/>
<rect x="54.0" y="20.0" width="2.0" height="2.0" fill="#26828e" fill-opacity="0.62"/>
<rect x="2.0" y="22.0" width="2.0" height="2.0" fill="#2b758e"/>
<rect x="4.0" y="22.0" width="2.0" height="2.0" fill="#2b758e"/>
<rect x="6.0" y="22.0" width="2.0" height="2.0" fill="#26828e" fill-opacity="0.62"/>
<rect x="16.0" y="22.0" width="2.0" height="2.0" fill="#26828e" fill-opacity="0.62"/>
<rect x="18.0" y="22.0" width="2.0" height="2.0" fill="#26828e" fill-opacity="0.62"/>
<rect x="20.0" y="22.0" width="2.0" height="2.0" fill="#26828e"/>
<rect x="22.0" y="22.0" width="2.0" height="2.0" fill="#2b758e"/>
<rect x="24.0" y="22.0" width="2.0" height="2.0" fill="#31688e"/>
<rect x="26.0" y="22.0" width="2.0" height="2.0" fill="#3c508b" fill-opacity="0.62"/>
<rect x="28.0" y="22.0" width="2.0" height="2.0" fill="#3c508b" fill-opacity="0.62"/>
<rect x="30.0" y="22.0" width="2.0" height="2.0" fill="#3c508b" fill-opacity="0.62"/>
<rect x="32.0" y="22.0" width="2.0" height="2.0" fill="#385a98"/>
<rect x="34.0" y="22.0" width="2.0" height="2.0" fill="#385a98"/>
<rect x="36.0" y="22.0" width="2.0" height="2.0" fill="#31688e" fill-opacity="0.62"/>
<rect x="38.0" y="22.0" width="2.0" height="2.0" fill="#31688e" fill-opacity="0.62"/>
<rect x="40.0" y="22.0" width="2.0" height="2.0" fill="#2b758e"/>
<rect x="42.0" y="22.0" width="2.0" height="2.0" fill="#26828e"/>
<rect x="44.0" y="22.0" width="2.0" height="2.0" fill="#2b758e"/>
<rect x="46.0" y="22.0" width="2.0" height="2.0" fill="#2b758e"/>
<rect x="48.0" y="22.0" width="2.0" height="2.0" fill="#2b758e"/>
<rect x="50.0" y="22.0" width="2.0" height="2.0" fill="#31688e" fill-opacity="0.62"/>
<rect x="52.0" y="22.0" width="2.0" height="2.0" fill="#31688e" fill-opacity="0.62"/>
<rect x="54.0" y="22.0" width="2.0" height="2.0" fill="#31688e" fill-opacity="0.62"/>
<rect x="56.0" y="22.0" width="2.0" height="2.0" fill="#31688e" fill-opacity="0.62"/>
<rect x="68.0" y="22.0" width="2.0" height="2.0" fill="#31688e" fill-opacity="0.62"/>
<rect x="2.0" y="24.0" width="2.0" height="2.0" fill="#2b758e"/>
<rect x="4.0" y="24.0" width="2.0" height="2.0" fill="#2b758e"/>
<rect x="6.0" y="24.0" width="2.0" height="2.0" fill="#2b758e"/>
<rect x="8.0" y="24.0" width="2.0" height="2.0" fill="#26828e" fill-opacity="0.62"/>
<rect x="12.0" y="24.0" width="2.0" height="2.0" fill="#26828e" fill-opacity="0.62"/>
<rect x="14.0" y="24.0" width="2.0" height="2.0" fill="#26828e" fill-opacity="0.62"/>
<rect x="16.0" y="24.0" width="2.0" height="2.0" fill="#26828e" fill-opacity="0.62"/>
<rect x="18.0" y="24.0" width="2.0" height="2.0" fill="#1f9e89"/>
<rect x="20.0" y="24.0" width="2.0" height="2.0" fill="#21918c"/>
<rect x="22.0" y="24.0" width="2.0" height="2.0" fill="#31688e" fill-opacity="0.62"/>
<rect x="24.0" y="24.0" width="2.0" height="2.0" fill="#31688e" fill-opacity="0.62"/>
<rect x="26.0" y="24.0" width="2.0" height="2.0" fill="#3c508b" fill-opacity="0.62"/>
<rect x="28.0" y="24.0" width="2.0" height="2.0" fill="#3c508b" fill-opacity="0.62"/>
<rect x="30.0" y="24.0" width="2.0" height="2.0" fill="#31688e"/>
<rect x="32.0" y="24.0" width="2.0" height="2.0" fill="#31688e"/>
<rect x="34.0" y="24.0" width="2.0" height="2.0" fill="#31688e"/>
<rect x="36.0" y="24.0" width="2.0" height="2.0" fill="#2b758e"/>
<rect x="38.0" y="24.0" width="2.0" height="2.0" fill="#26828e"/>
<rect x="40.0" y="24.0" width="2.0" height="2.0" fill="#26828e"/>
<rect x="42.0" y="24.0" width="2.0" height="2.0" fill="#26828e"/>
<rect x="44.0" y="24.0" width="2.0" height="2.0" fill="#2b758e"/>
<rect x="46.0" y="24.0" width="2.0" height="2.0" fill="#2b758e"/>
<rect x="48.0" y="24.0" width="2.0" height="2.0" fill="#2b758e"/>
<rect x="50.0" y="24.0" width="2.0" height="2.0" fill="#2b758e"/>
<rect x="52.0" y="24.0" width="2.0" height="2.0" fill="#31688e" fill-opacity="0.62"/>
<rect x="54.0" y="24.0" width="2.0" height="2.0" fill="#2b758e"/>
<rect x="56.0" y="24.0" width="2.0" height="2.0" fill="#2b758e"/>
<rect x="58.0" y="24.0" width="2.0" height="2.0" fill="#31688e" fill-opacity="0.62"/>
<rect x="66.0" y="24.0" width="2.0" height="2.0" fill="#31688e" fill-opacity="0.62"/>
<rect x="68.0" y="24.0" width="2.0" height="2.0" fill="#31688e" fill-opacity="0.62"/>
<rect x="4.0" y="26.0" width="2.0" height="2.0" fill="#26828e" fill-opacity="0.62"/>
<rect x="8.0" y="26.0" width="2.0" height="2.0" fill="#26828e" fill-opacity="0.62"/>
<rect x="12.0" y="26.0" width="2.0" height="2.0" fill="#26828e" fill-opacity="0.62"/>
<rect x="14.0" y="26.0" width="2.0" height="2.0" fill="#1f9e89" fill-opacity="0.62"/>
<rect x="16.0" y="26.0" width="2.0" height="2.0" fill="#1f9e89"/>
<rect x="18.0" y="26.0" width="2.0" height="2.0" fill="#1f9e89"/>
<rect x="20.0" y="26.0" width="2.0" height="2.0" fill="#26828e"/>
<rect x="22.0" y="26.0" width="2.0" height="2.0" fill="#26828e" fill-opacity="0.62"/>
<rect x="24.0" y="26.0" width="2.0" height="2.0" fill="#31688e" fill-opacity="0.62"/>
<rect x="26.0" y="26.0" width="2.0" height="2.0" fill="#31688e"/>
<rect x="28.0" y="26.0" width="2.0" height="2.0" fill="#31688e"/>
<rect x="30.0" y="26.0" width="2.0" height="2.0" fill="#31688e"/>
<rect x="32.0" y="26.0" width="2.0" height="2.0" fill="#31688e"/>
<rect x="34.0" y="26.0" width="2.0" height="2.0" fill="#31688e" fill-opacity="0.62"/>
<rect x="36.0" y="26.0" width="2.0" height="2.0" fill="#26828e"/>
<rect x="38.0" y="26.0" width="2.0" height="2.0" fill="#26828e"/>
<rect x="40.0" y="26.0" width="2.0" height="2.0" fill="#26828e"/>
<rect x="42.0" y="26.0" width="2.0" height="2.0" fill="#26828e"/>
<rect x="44.0" y="26.0" width="2.0" height="2.0" fill="#2b758e"/>
<rect x="46.0" y="26.0" width="2.0" height="2.0" fill="#2b758e"/>
<rect x="48.0" y="26.0" width="2.0" height="2.0" fill="#2b758e"/>
<rect x="50.0" y="26.0" width="2.0" height="2.0" fill="#2b758e"/>
<rect x="52.0" y="26.0" width="2.0" height="2.0" fill="#31688e" fill-opacity="0.62"/>
<rect x="54.0" y="26.0" width="2.0" height="2.0" fill="#2b758e"/>
<rect x="56.0" y="26.0" width="2.0" height="2.0" fill="#31688e" fill-opacity="0.62"/>
<rect x="58.0" y="26.0" width="2.0" height="2.0" fill="#31688e" fill-opacity="0.62"/>
<rect x="8.0" y="28.0" width="2.0" height="2.0" fill="#26828e" fill-opacity="0.62"/>
<rect x="14.0" y="28.0" width="2.0" height="2.0" fill="#1f9e89" fill-opacity="0.62"/>
<rect x="16.0" y="28.0" width="2.0" height="2.0" fill="#1f9e89"/>
<rect x="18.0" y="28.0" width="2.0" height="2.0" fill="#1f9e89"/>
<rect x="20.0" y="28.0" width="2.0" height="2.0" fill="#26828e"/>
<rect x="22.0" y="28.0" width="2.0" height="2.0" fill="#26828e"/>
<rect x="24.0" y="28.0" width="2.0" height="2.0" fill="#26828e"/>
<rect x="26.0" y="28.0" width="2.0" height="2.0" fill="#26828e" fill-opacity="0.62"/>
<rect x="28.0" y="28.0" width="2.0" height="2.0" fill="#26828e"/>
<rect x="30.0" y="28.0" width="2.0" height="2.0" fill="#31688e"/>
<rect x="32.0" y="28.0" width="2.0" height="2.0" fill="#31688e"/>
<rect x="34.0" y="28.0" width="2.0" height="2.0" fill="#31688e"/>
<rect x="36.0" y="28.0" width="2.0" height="2.0" fill="#26828e"/>
<rect x="38.0" y="28.0" width="2.0" height="2.0" fill="#26828e"/>
<rect x="40.0" y="28.0" width="2.0" height="2.0" fill="#26828e"/>
<rect x="42.0" y="28.0" width="2.0" height="2.0" fill="#26828e"/>
<rect x="44.0" y="28.0" width="2.0" height="2.0" fill="#2b758e"/>
<rect x="46.0" y="28.0" width="2.0" height="2.0" fill="#2b758e"/>
<rect x="48.0" y="28.0" width="2.0" height="2.0" fill="#2b758e"/>
<rect x="54.0" y="28.0" width="2.0" height="2.0" fill="#31688e" fill-opacity="0.62"/>
<rect x="56.0" y="28.0" width="2.0" height="2.0" fill="#31688e" fill-opacity="0.62"/>
<rect x="68.0" y="28.0" width="2.0" height="2.0" fill="#31688e" fill-opacity="0.62"/>
</g>
</g>
<path d="M12.55 2.90 L12.46 2.57 L12.83 2.20 L12.97 1.92 L12.63 1.63 L12.90 0.97 L12.50 0.37 L12.93 0.29 L12.97 -0.19 L13.14 -0.33 L13.15 -1.11 M17.83 4.83 L18.21 5.47 L18.27 6.08 L18.61 7.14 L18.88 7.35 L18.69 7.74 L17.38 7.91 L16.93 8.28 L16.35 8.36 L16.31 9.10 L15.14 9.50 L14.76 10.00 L13.94 10.27 L12.94 10.42 L11.33 11.16 L11.33 12.34 M6.86 12.36 L11.18 12.34 L11.33 12.34 M11.18 12.34 L11.21 12.88 L11.31 14.12 L8.03 14.07 L8.06 16.62 L7.13 16.71 L6.88 17.23 L7.07 18.67 L3.16 18.67 M11.32 12.60 L15.08 15.02 M15.08 15.02 L13.55 15.04 L14.03 19.36 L14.51 23.68 L14.68 23.80 L14.46 24.50 L10.45 24.51 L10.30 24.74 L9.91 24.67 L9.35 24.87 L8.65 24.59 L8.33 24.61 L8.17 25.20 L8.07 25.62 L7.83 25.38 M7.83 25.38 L7.17 24.70 L6.56 23.96 L5.90 23.70 L5.42 23.40 L4.86 23.41 L4.38 23.63 L3.88 23.54 L3.54 23.86 M7.83 25.38 L7.88 26.01 L8.07 26.58 L8.45 26.86 L8.53 27.24 L8.49 27.56 L8.34 27.61 L7.80 27.53 L7.72 27.65 L7.50 27.67 L6.78 27.42 L6.30 27.41 L4.45 27.37 L4.18 27.48 L3.85 27.45 L3.32 27.62 M6.30 27.41 L6.28 27.75 L6.17 27.86 L6.26 28.19 L6.10 28.32 L5.88 28.32 L5.62 28.49 L5.31 28.47 L4.87 28.96 M3.16 26.85 L4.07 26.87 L4.31 26.73 L4.49 26.72 L4.86 26.49 L5.29 26.70 L5.72 26.72 L6.15 26.49 L5.95 26.21 L5.62 26.37 L5.31 26.37 L4.92 26.12 L4.60 26.14 L4.38 26.38 L3.29 26.41 M8.49 27.56 L8.54 27.92 L8.70 27.92 L9.13 27.82 L9.41 28.08 L9.84 28.16 L10.11 27.94 L10.43 27.81 L10.67 27.67 L10.87 27.69 L11.10 27.91 L11.21 28.19 L11.62 28.61 L11.42 28.86 L11.38 29.19 L11.59 29.09 L11.72 29.21 L11.66 29.51 L11.97 29.79 L12.10 29.70 L12.38 29.85 L13.15 29.86 L13.33 29.57 L13.51 29.59 L13.79 29.48 L13.95 29.90 L14.18 29.78 L14.60 29.63 L14.53 29.05 L14.80 28.62 L14.78 28.29 L15.57 27.46 L15.72 26.77 L15.99 26.53 L16.48 26.66 L16.90 26.46 L17.03 26.20 L17.81 25.75 L18.00 25.44 L18.93 25.03 L19.48 24.88 L19.73 25.08 L20.38 25.07 M11.97 29.79 L11.77 29.87 L11.69 30.21 L11.92 30.62 L12.20 31.40 M9.41 28.08 L9.70 29.00 L9.50 29.70 L9.80 30.50 M20.38 25.07 L20.30 25.56 L20.43 26.01 L20.99 26.66 L21.02 27.15 L22.18 27.38 L22.15 28.06 L21.94 28.36 L21.45 28.45 L21.24 28.89 L20.90 29.00 L20.02 28.98 L19.56 28.90 L19.24 29.06 L18.80 28.99 L17.06 29.04 L17.04 29.61 L17.17 30.36 L16.49 30.10 L16.02 30.14 L15.67 30.39 L15.22 30.18 L15.04 29.85 L14.60 29.63 M20.90 29.00 L20.77 29.53 L21.08 29.82 L21.43 30.18 L21.46 30.66 L21.66 30.87 L21.65 31.50 M20.02 28.98 L19.95 29.29 L20.37 29.81 L20.37 30.54 L20.46 31.32 M22.15 28.06 L22.49 27.77 L22.85 27.76 L23.61 28.34 L23.57 28.67 L23.80 29.27 L23.60 29.67 L23.70 29.94 L23.22 30.56 L22.91 30.86 L22.72 31.49 M20.38 25.07 L21.02 25.03 L21.39 24.68 L22.75 24.59 L23.64 24.43 L23.72 23.82 L24.27 23.15 L24.27 20.84 M15.08 15.02 L18.45 17.21 L21.82 19.39 L22.06 19.86 L22.68 20.14 L23.15 20.31 L23.16 20.94 L24.27 20.84 M24.27 20.84 L25.68 20.40 L28.57 18.43 L32.00 16.53 M23.61 28.34 L23.68 27.45 L23.97 27.04 L24.11 26.47 L24.37 26.25 L25.44 26.13 L26.45 26.51 L26.82 26.88 L27.33 26.90 L27.80 26.66 L29.02 27.17 L29.52 27.15 L30.12 26.72 L30.70 26.75 L30.99 26.61 L31.53 26.67 L32.30 26.96 L33.08 26.40 L33.32 26.44 L33.99 27.54 L34.18 27.52 L34.21 27.20 L34.50 27.14 L34.60 26.67 L33.95 26.65 L33.96 26.00 L33.54 25.63 L33.97 24.32 L35.25 23.37 L35.30 22.07 L35.69 20.04 L35.90 19.61 L35.49 19.27 L35.47 18.95 L35.10 18.69 L34.85 17.14 M32.00 16.53 L33.58 16.96 L34.14 17.51 L34.85 17.14 L35.86 16.59 L39.85 18.50 L43.84 20.42 M34.18 27.52 L34.58 27.91 L34.47 28.09 L34.41 28.43 L33.57 29.20 L33.31 29.84 L33.17 30.36 L32.95 30.58 L32.75 31.28 M34.50 27.14 L34.89 27.78 L34.96 28.44 L34.92 29.11 L35.47 30.02 L34.91 30.01 L34.63 30.08 L34.17 29.98 L33.95 30.45 L34.54 31.03 M35.47 30.02 L35.28 31.00 M34.54 31.03 L34.98 31.20 L35.12 31.62 L35.44 32.31 M42.86 28.86 L42.23 29.03 L41.72 29.43 L41.00 30.52 L40.06 30.99 L39.09 30.93 L38.81 31.02 L38.91 31.37 L38.39 31.72 M43.84 20.42 L43.89 24.39 L43.02 24.32 L42.57 25.06 L42.30 25.67 L42.51 25.91 L42.18 26.21 L42.30 26.63 L42.04 27.05 L41.94 27.41 L42.29 27.35 L42.50 27.74 L42.50 28.32 L42.88 28.62 L42.86 28.86 L42.98 29.29 L43.55 29.91 L43.56 30.32 L43.39 30.73 L43.46 31.05 L43.81 31.33 M43.84 20.42 L43.85 20.00 L45.00 20.00 L45.00 18.00 L45.00 10.76 L44.70 9.96 L44.96 9.34 L44.80 8.91 L45.16 8.43 M45.00 18.00 L56.87 18.00 M43.89 31.38 L44.19 31.27 L44.54 31.08 L44.80 30.19 L45.07 29.73 L45.79 29.59 L45.96 29.86 L46.48 30.45 L46.75 30.53 L47.11 30.36 L47.83 30.40 L47.97 30.60 L48.97 30.60 L49.00 30.40 L49.52 30.21 L49.62 29.91 L50.00 29.71 L50.84 30.29 L51.35 30.19 L51.85 29.47 L52.40 28.92 L52.31 28.32 L52.07 28.03 L52.67 27.98 L52.74 27.75 L53.21 27.82 L53.09 28.56 L53.21 29.28 L53.72 29.68 L53.84 30.02 L53.83 30.52 L53.96 30.54 M53.96 30.54 L54.26 29.37 L54.73 29.09 L54.83 28.68 L55.26 27.92 L55.86 27.42 L56.27 26.44 L56.43 25.58 L56.32 25.18 L56.75 23.71 L56.85 23.04 L57.17 22.74 L57.90 22.57 L58.41 22.00 M56.43 25.58 L57.59 25.79 L57.91 25.04 L58.51 25.49 L59.10 25.26 L59.34 25.47 L60.03 25.48 L60.90 25.88 L61.16 26.23 L61.60 26.55 L62.01 27.13 L62.35 27.46 L62.78 27.55 L63.08 27.30 M62.35 27.46 L62.00 27.90 L61.66 28.37 L61.74 28.64 L61.76 28.95 L62.31 28.97 L62.55 28.89 L62.78 29.07 L63.15 28.54 M62.78 29.07 L62.56 29.43 L62.93 29.98 L63.30 30.46 L63.68 30.82 M68.95 28.59 L68.95 30.55 M28.42 3.05 L28.22 3.57 L28.38 4.52 L28.14 5.34 L27.52 5.90 L27.61 6.66 L28.43 7.25 L28.44 7.49 L29.06 7.90 L29.48 9.69 M29.48 9.69 L29.81 10.57 L29.86 11.04 L29.68 11.86 L29.76 12.31 L29.63 12.86 L29.72 13.49 L29.32 13.91 L29.91 14.64 L29.95 15.06 L30.30 15.62 L30.77 15.44 L31.56 15.90 L32.00 16.53 M29.48 9.69 L29.97 9.46 L30.06 9.04 L29.95 8.62 L30.64 8.24 L30.95 7.92 L31.43 7.63 L31.49 6.86 M54.27 8.78 L54.92 10.50 M54.92 10.50 L55.42 8.90 L55.40 8.51 L55.55 8.22 L55.55 7.61 L55.72 7.29 L55.84 7.13 L55.82 6.72 L55.55 6.74 L55.46 6.91 L55.13 6.91 M54.96 10.64 L56.07 10.80 L56.50 10.50 L56.74 10.14 L57.50 10.00 L57.67 9.66 L58.00 9.49 L57.00 8.49 L59.01 7.99 L59.20 7.84 M55.72 7.29 L56.83 7.69 L58.79 6.62 L59.20 7.84 M55.82 6.72 L56.07 6.17 L56.61 5.80 L56.45 5.41 L56.00 5.35 M59.20 7.84 L60.40 8.11 L61.89 8.81 L64.71 10.82 L66.57 10.90 L67.46 11.00 L67.71 11.47 L68.42 11.45 M66.57 10.90 L67.30 9.94 L67.97 10.02 M58.79 6.62 L61.01 5.58 L61.38 4.37 L61.29 3.64 L61.84 3.39 L62.35 2.77 M56.15 4.18 L56.42 3.96 L56.69 3.74 L56.74 3.18 L57.07 3.38 L58.17 3.10 L58.70 3.29 L59.52 3.28 L60.67 2.91 L61.21 2.93 L62.35 2.77 L62.78 2.62 L63.94 2.74 L64.29 3.00 L64.77 2.83 M64.77 2.83 L65.42 4.02 L66.08 4.32 L66.15 4.91 L65.65 5.25 L65.42 6.03 L66.11 6.98 L67.34 7.53 L67.85 8.29 L67.69 9.02 L68.00 9.02 L68.02 9.55 L68.57 10.07 M64.77 2.83 L64.23 2.03 L64.42 1.72 L64.11 0.57 L64.79 0.29 L64.50 0.00 L63.60 -0.30 L63.60 -1.10 M64.79 0.29 L64.95 0.66 L65.46 1.13 L66.14 1.26 L66.51 1.23 L67.69 0.49 L68.06 0.42 L68.36 0.71 L68.01 1.21 L68.63 1.73 L68.88 1.68 M64.79 0.29 L65.60 0.00 L65.90 -0.60 L65.00 -1.30 M66.51 1.23 L66.40 0.70 L65.80 0.20 L65.30 0.00 M62.78 23.65 L63.22 23.33 L63.12 22.91 L63.38 22.42 L63.79 22.68 L64.06 22.59 L65.22 22.57 L65.40 22.67 L66.37 22.77 L66.75 22.72 L67.00 23.05 L67.47 22.88 L68.18 21.83 L69.12 21.38 L72.00 21.00 M40.15 0.38 L40.61 -0.11 L40.67 -0.44 L41.00 -0.58 L41.02 -0.84 L41.67 -0.93 L42.05 -1.15 M46.06 -0.82 L46.30 -0.94 L46.60 -1.56" stroke="#2a2a2a" stroke-width="0.45" stroke-opacity="0.8" vector-effect="non-scaling-stroke" fill="none" stroke-linejoin="round"/>
</svg>
<rect x="36.5" y="135.5" width="217.0" height="95.0" fill="none" stroke="#7a7a7a" stroke-width="1"/>
<svg x="271.5" y="135.5" width="218.0" height="95.0" viewBox="0 0 70 30" preserveAspectRatio="none" overflow="hidden">
<rect x="0" y="0" width="70" height="30" fill="#d8d8d8"/>
<g fill="#ababab">
<polygon points="6.20,31.00 5.92,30.11 5.67,29.98 5.42,29.79 5.16,29.12 4.87,28.96 4.34,28.54 3.91,28.48 3.68,28.19 3.69,28.04 3.39,27.83 3.32,27.62 3.16,26.85 3.29,26.41 2.87,25.63 2.38,25.27 2.82,25.08 3.30,24.38 3.54,23.86 3.45,23.33 3.73,22.83 3.85,21.89 3.74,20.90 3.62,20.41 3.72,19.91 3.46,19.43 2.94,19.00 3.03,18.11 3.41,17.84 3.74,17.32 3.67,16.98 4.02,16.28 4.57,15.64 4.91,15.48 5.18,14.90 5.20,14.36 5.56,13.75 6.23,13.38 6.86,12.36 7.38,11.96 8.31,11.85 9.10,11.17 9.60,10.90 10.44,10.07 10.19,8.82 10.56,7.96 10.70,7.44 11.34,6.76 12.35,6.30 13.09,5.89 13.76,4.85 14.07,4.24 14.81,4.24 15.41,4.67 16.36,4.60 17.40,4.82 17.83,4.83 18.79,4.28 19.87,4.11 20.50,3.70 21.47,3.39 23.16,3.22 24.82,3.13 25.32,3.28 26.26,2.89 27.33,2.88 27.74,3.11 28.42,3.05 29.51,2.65 30.21,2.77 30.18,3.28 31.03,2.91 31.10,3.10 30.60,3.59 30.59,4.05 30.94,4.30 30.81,5.17 30.15,5.67 30.34,6.21 30.86,6.23 31.11,6.71 31.49,6.86 32.66,7.21 33.08,7.12 33.92,7.29 35.25,7.73 35.71,8.62 36.61,8.82 38.02,9.24 39.09,9.73 39.57,9.47 40.05,9.01 39.82,8.25 40.13,7.76 40.86,7.29 41.54,7.16 42.90,7.36 43.24,7.81 43.61,7.81 43.93,7.98 44.92,8.10 45.16,8.43 46.50,8.41 47.46,8.68 48.45,8.97 48.91,9.13 49.68,8.81 50.09,8.53 50.98,8.44 51.69,8.57 51.96,9.07 52.19,8.74 52.99,8.98 53.77,9.03 54.27,8.78 54.56,8.45 54.49,8.39 54.75,7.93 54.95,7.17 55.10,6.92 55.13,6.91 55.48,6.09 55.98,5.39 56.00,5.35 55.91,4.59 56.15,4.18 55.78,3.73 56.16,3.35 55.55,3.44 54.72,3.20 54.03,3.78 52.51,3.89 51.70,3.36 50.62,3.32 50.39,3.74 49.70,3.86 48.73,3.32 47.64,3.34 47.05,2.35 46.32,1.79 46.80,1.01 46.17,0.54 47.28,-0.42 47.50,-1.50 71.50,-1.50 71.50,31.00"/>
<polygon points="10.50,-1.50 11.01,-1.54 11.21,-1.18 11.23,-0.76 11.02,-0.16 10.95,0.24 10.55,0.61 10.47,1.26 10.71,1.64 11.16,1.73 11.25,2.35 11.10,3.13 11.62,3.02 12.14,3.16 12.55,2.90 13.48,3.06 13.76,3.63 14.13,3.97 14.62,4.05 15.00,3.67 15.63,3.32 16.58,3.34 17.85,3.33 18.56,2.56 19.32,2.36 19.53,1.71 20.11,1.26 19.72,0.69 20.11,-0.12 20.72,-0.68 20.81,-1.02 21.20,-1.50"/>
<polygon points="22.35,0.45 22.70,0.05 23.20,0.05 23.45,0.30 23.20,0.70 22.75,0.60"/>
<polygon points="21.20,1.05 21.40,0.90 21.60,1.00 21.40,1.15"/>
<polygon points="23.80,0.00 24.30,0.05 24.20,0.20 23.85,0.10"/>
<polygon points="29.21,-1.21 29.81,-0.50 29.67,0.82 29.21,0.76 28.81,1.09 28.43,0.83 28.39,-0.38 28.16,-0.95 28.71,-0.90"/>
<polygon points="35.52,1.77 35.16,2.56 35.31,2.87 35.10,3.38 34.34,3.00 33.83,2.90 32.43,2.39 32.57,1.87 33.74,1.97 34.76,1.86"/>
<polygon points="34.00,-1.50 34.06,-0.79 34.70,-0.60 35.00,-0.17 35.41,-0.05 35.72,0.46 36.11,1.03 35.89,1.25 35.69,1.78 35.68,2.09 36.10,2.01 36.64,1.16 37.05,1.10 37.17,0.58 36.45,0.20 36.87,-0.44 37.74,-0.28 38.29,0.19 38.48,-0.17 38.00,-1.00 37.50,-1.50"/>
<polygon points="39.30,-1.50 39.32,-0.73 39.41,-0.25 39.96,0.09 40.15,0.38 40.22,0.66 40.73,1.23 41.12,1.69 41.30,2.35 41.67,3.16 42.49,3.59 43.15,3.58 42.77,2.70 43.41,2.59 43.11,2.08 44.04,2.34 44.02,1.78 43.53,1.49 42.97,1.03 43.35,0.81 42.85,0.34 42.63,-0.26 42.81,-0.48 43.34,0.04 43.90,0.04 44.41,-0.12 43.72,-0.69 44.93,-0.95 45.45,-0.85 46.06,-0.82 46.30,-0.94 46.60,-1.50"/>
<polygon points="42.80,1.05 43.30,1.10 44.10,1.35 44.55,1.85 44.30,2.00 43.60,1.50 43.10,1.25"/>
<polygon points="43.70,4.30 44.25,4.63 45.02,4.58 45.77,4.65 45.75,4.82 46.29,4.70 46.16,4.99 44.73,5.08 44.73,4.91 43.52,4.72"/>
<polygon points="54.58,4.33 53.90,4.75 53.97,4.94 54.01,5.02 52.98,5.43 52.49,5.30 52.26,4.90 52.73,4.86 52.95,4.61 53.67,4.63"/>
<polygon points="47.70,3.85 48.20,3.55 48.25,3.90 47.85,4.10"/>
<polygon points="45.85,0.75 46.20,0.60 46.60,0.95 46.00,0.90"/>
<polygon points="45.85,1.45 46.15,1.45 46.00,1.80"/>
<polygon points="46.60,2.20 47.05,2.25 46.90,2.35"/>
</g>
<g fill="#d8d8d8">
<polygon points="52.42,10.15 52.32,10.24 52.73,11.30 53.35,12.30 54.10,13.86 54.47,14.40 54.80,14.97 55.69,16.07 55.49,16.25 55.53,16.90 56.69,17.80 56.87,18.00 57.19,18.98 56.97,19.16 57.12,20.19 57.48,21.39 57.86,21.63 58.41,22.00 58.99,23.16 59.27,24.08 59.81,24.56 61.18,25.51 61.73,26.08 62.28,26.66 62.59,27.00 63.08,27.30 63.32,27.61 63.29,28.02 62.72,28.26 63.15,28.54 63.47,28.72 63.67,29.14 64.12,29.55 64.61,29.56 65.56,29.30 66.65,29.18 67.53,28.87 68.02,28.81 68.38,28.62 68.95,28.59 69.27,28.57 69.73,28.42 70.26,28.32 70.73,27.98 71.50,28.00 71.50,24.60 71.17,24.82 69.58,25.29 68.68,26.00 68.24,26.05 67.94,25.99 67.35,26.41 66.72,26.60 65.88,26.65 65.62,26.71 65.41,26.97 65.14,27.05 64.99,27.30 64.50,27.28 64.17,27.41 63.48,27.36 63.22,26.78 63.25,26.23 63.09,25.94 62.89,25.20 62.60,24.79 62.80,24.74 62.70,24.28 62.82,24.09 62.78,23.65 62.65,23.23 62.35,22.92 62.27,22.52 61.75,22.17 61.22,21.33 60.94,20.51 60.25,19.82 59.80,19.66 59.14,18.71 59.02,18.01 59.07,17.42 58.49,16.31 58.02,15.92 57.48,15.71 57.16,15.14 57.21,14.91 56.93,14.40 56.64,14.17 56.25,13.43 55.64,12.62 55.13,11.94 54.63,11.94 54.79,11.39 54.83,11.04 54.96,10.64 54.92,10.50 54.64,10.90 54.43,11.66 54.16,12.18 53.92,12.35 53.59,12.03 53.14,11.58"/>
<polygon points="67.97,10.02 68.18,10.47 68.09,10.69 68.42,11.45 68.81,12.31 69.30,12.54 69.47,12.89 70.15,13.31 70.21,13.72 70.11,14.06 70.24,14.39 70.53,14.67 70.66,15.00 70.81,15.25 71.50,15.40 71.50,10.50 70.85,11.18 70.12,9.85 69.58,10.01 68.57,10.07"/>
<polygon points="69.11,-1.28 69.62,-0.57 70.09,-0.53 70.39,-0.26 69.57,-0.18 69.40,0.60 69.22,0.95 68.86,1.19 68.88,1.68 69.20,2.42 70.15,2.62 70.84,3.13 71.50,3.20 71.50,-1.50 69.00,-1.50"/>
</g>
<g fill="#8a8a8a" stroke="#666" stroke-width="0.3" vector-effect="non-scaling-stroke">
<polygon points="6.10,11.15 6.60,10.80 6.60,11.10 6.20,11.25"/>
<polygon points="5.50,11.95 5.80,11.80 6.15,11.25 6.15,11.60 5.80,11.95"/>
<polygon points="4.20,12.00 4.40,11.80 4.60,12.00 4.40,12.25"/>
<polygon points="3.10,11.65 3.60,11.45 3.85,11.45 3.50,11.95 3.20,11.90"/>
<polygon points="2.65,11.90 2.80,11.80 2.90,11.90 2.75,12.00"/>
<polygon points="2.05,11.15 2.25,11.20 2.20,11.50 2.10,11.40"/>
<polygon points="1.85,12.25 2.10,12.15 2.10,12.30"/>
<polygon points="2.75,7.20 3.05,7.15 3.35,7.25 3.05,7.35"/>
</g>
<path d="M10 0V30 M20 0V30 M30 0V30 M40 0V30 M50 0V30 M60 0V30 M0 20H70 M0 10H70" stroke="#7a7a7a" stroke-opacity="0.45" stroke-width="0.7" vector-effect="non-scaling-stroke" fill="none"/>
<g clip-path="url(#land_a)"><g filter="url(#soft)" shape-rendering="crispEdges">
<rect x="66.0" y="0.0" width="2.0" height="2.0" fill="#1f9e89" fill-opacity="0.62"/>
<rect x="24.0" y="4.0" width="2.0" height="2.0" fill="#26828e" fill-opacity="0.62"/>
<rect x="56.0" y="4.0" width="2.0" height="2.0" fill="#26828e" fill-opacity="0.62"/>
<rect x="58.0" y="4.0" width="2.0" height="2.0" fill="#1f9e89"/>
<rect x="60.0" y="4.0" width="2.0" height="2.0" fill="#1f9e89"/>
<rect x="62.0" y="4.0" width="2.0" height="2.0" fill="#1f9e89"/>
<rect x="64.0" y="4.0" width="2.0" height="2.0" fill="#1f9e89" fill-opacity="0.62"/>
<rect x="16.0" y="6.0" width="2.0" height="2.0" fill="#26828e" fill-opacity="0.62"/>
<rect x="18.0" y="6.0" width="2.0" height="2.0" fill="#26828e" fill-opacity="0.62"/>
<rect x="20.0" y="6.0" width="2.0" height="2.0" fill="#26828e" fill-opacity="0.62"/>
<rect x="22.0" y="6.0" width="2.0" height="2.0" fill="#26828e" fill-opacity="0.62"/>
<rect x="56.0" y="6.0" width="2.0" height="2.0" fill="#26828e" fill-opacity="0.62"/>
<rect x="58.0" y="6.0" width="2.0" height="2.0" fill="#1f9e89" fill-opacity="0.62"/>
<rect x="60.0" y="6.0" width="2.0" height="2.0" fill="#1f9e89"/>
<rect x="62.0" y="6.0" width="2.0" height="2.0" fill="#1f9e89"/>
<rect x="64.0" y="6.0" width="2.0" height="2.0" fill="#1f9e89" fill-opacity="0.62"/>
<rect x="10.0" y="8.0" width="2.0" height="2.0" fill="#1f9e89" fill-opacity="0.62"/>
<rect x="12.0" y="8.0" width="2.0" height="2.0" fill="#1f9e89" fill-opacity="0.62"/>
<rect x="14.0" y="8.0" width="2.0" height="2.0" fill="#1f9e89" fill-opacity="0.62"/>
<rect x="16.0" y="8.0" width="2.0" height="2.0" fill="#26828e" fill-opacity="0.62"/>
<rect x="20.0" y="8.0" width="2.0" height="2.0" fill="#26828e" fill-opacity="0.62"/>
<rect x="22.0" y="8.0" width="2.0" height="2.0" fill="#26828e" fill-opacity="0.62"/>
<rect x="24.0" y="8.0" width="2.0" height="2.0" fill="#26828e" fill-opacity="0.62"/>
<rect x="26.0" y="8.0" width="2.0" height="2.0" fill="#26828e" fill-opacity="0.62"/>
<rect x="28.0" y="8.0" width="2.0" height="2.0" fill="#26828e" fill-opacity="0.62"/>
<rect x="34.0" y="8.0" width="2.0" height="2.0" fill="#26828e" fill-opacity="0.62"/>
<rect x="36.0" y="8.0" width="2.0" height="2.0" fill="#1f9e89" fill-opacity="0.62"/>
<rect x="38.0" y="8.0" width="2.0" height="2.0" fill="#1f9e89" fill-opacity="0.62"/>
<rect x="40.0" y="8.0" width="2.0" height="2.0" fill="#26828e" fill-opacity="0.62"/>
<rect x="42.0" y="8.0" width="2.0" height="2.0" fill="#26828e"/>
<rect x="44.0" y="8.0" width="2.0" height="2.0" fill="#21918c"/>
<rect x="46.0" y="8.0" width="2.0" height="2.0" fill="#21918c"/>
<rect x="48.0" y="8.0" width="2.0" height="2.0" fill="#21918c"/>
<rect x="50.0" y="8.0" width="2.0" height="2.0" fill="#21918c"/>
<rect x="52.0" y="8.0" width="2.0" height="2.0" fill="#1f9e89" fill-opacity="0.62"/>
<rect x="54.0" y="8.0" width="2.0" height="2.0" fill="#1f9e89" fill-opacity="0.62"/>
<rect x="56.0" y="8.0" width="2.0" height="2.0" fill="#26828e" fill-opacity="0.62"/>
<rect x="60.0" y="8.0" width="2.0" height="2.0" fill="#26828e" fill-opacity="0.62"/>
<rect x="62.0" y="8.0" width="2.0" height="2.0" fill="#1f9e89" fill-opacity="0.62"/>
<rect x="14.0" y="10.0" width="2.0" height="2.0" fill="#26828e" fill-opacity="0.62"/>
<rect x="16.0" y="10.0" width="2.0" height="2.0" fill="#26828e" fill-opacity="0.62"/>
<rect x="18.0" y="10.0" width="2.0" height="2.0" fill="#26828e" fill-opacity="0.62"/>
<rect x="20.0" y="10.0" width="2.0" height="2.0" fill="#26828e" fill-opacity="0.62"/>
<rect x="22.0" y="10.0" width="2.0" height="2.0" fill="#21918c"/>
<rect x="24.0" y="10.0" width="2.0" height="2.0" fill="#26828e"/>
<rect x="26.0" y="10.0" width="2.0" height="2.0" fill="#26828e"/>
<rect x="28.0" y="10.0" width="2.0" height="2.0" fill="#26828e"/>
<rect x="30.0" y="10.0" width="2.0" height="2.0" fill="#26828e"/>
<rect x="32.0" y="10.0" width="2.0" height="2.0" fill="#26828e" fill-opacity="0.62"/>
<rect x="34.0" y="10.0" width="2.0" height="2.0" fill="#26828e" fill-opacity="0.62"/>
<rect x="36.0" y="10.0" width="2.0" height="2.0" fill="#2b758e"/>
<rect x="38.0" y="10.0" width="2.0" height="2.0" fill="#26828e"/>
<rect x="40.0" y="10.0" width="2.0" height="2.0" fill="#26828e"/>
<rect x="42.0" y="10.0" width="2.0" height="2.0" fill="#26828e" fill-opacity="0.62"/>
<rect x="44.0" y="10.0" width="2.0" height="2.0" fill="#21918c"/>
<rect x="46.0" y="10.0" width="2.0" height="2.0" fill="#1f9e89" fill-opacity="0.62"/>
<rect x="48.0" y="10.0" width="2.0" height="2.0" fill="#1f9e89" fill-opacity="0.62"/>
<rect x="50.0" y="10.0" width="2.0" height="2.0" fill="#21918c"/>
<rect x="52.0" y="10.0" width="2.0" height="2.0" fill="#21918c"/>
<rect x="56.0" y="10.0" width="2.0" height="2.0" fill="#26828e" fill-opacity="0.62"/>
<rect x="58.0" y="10.0" width="2.0" height="2.0" fill="#1f9e89" fill-opacity="0.62"/>
<rect x="12.0" y="12.0" width="2.0" height="2.0" fill="#26828e" fill-opacity="0.62"/>
<rect x="16.0" y="12.0" width="2.0" height="2.0" fill="#26828e" fill-opacity="0.62"/>
<rect x="18.0" y="12.0" width="2.0" height="2.0" fill="#26828e" fill-opacity="0.62"/>
<rect x="20.0" y="12.0" width="2.0" height="2.0" fill="#26828e" fill-opacity="0.62"/>
<rect x="22.0" y="12.0" width="2.0" height="2.0" fill="#1f9e89" fill-opacity="0.62"/>
<rect x="24.0" y="12.0" width="2.0" height="2.0" fill="#26828e"/>
<rect x="26.0" y="12.0" width="2.0" height="2.0" fill="#26828e"/>
<rect x="28.0" y="12.0" width="2.0" height="2.0" fill="#26828e"/>
<rect x="30.0" y="12.0" width="2.0" height="2.0" fill="#26828e"/>
<rect x="32.0" y="12.0" width="2.0" height="2.0" fill="#26828e" fill-opacity="0.62"/>
<rect x="34.0" y="12.0" width="2.0" height="2.0" fill="#26828e" fill-opacity="0.62"/>
<rect x="36.0" y="12.0" width="2.0" height="2.0" fill="#26828e"/>
<rect x="38.0" y="12.0" width="2.0" height="2.0" fill="#26828e"/>
<rect x="40.0" y="12.0" width="2.0" height="2.0" fill="#26828e"/>
<rect x="42.0" y="12.0" width="2.0" height="2.0" fill="#26828e" fill-opacity="0.62"/>
<rect x="44.0" y="12.0" width="2.0" height="2.0" fill="#21918c"/>
<rect x="46.0" y="12.0" width="2.0" height="2.0" fill="#1f9e89" fill-opacity="0.62"/>
<rect x="48.0" y="12.0" width="2.0" height="2.0" fill="#1f9e89" fill-opacity="0.62"/>
<rect x="50.0" y="12.0" width="2.0" height="2.0" fill="#1f9e89" fill-opacity="0.62"/>
<rect x="52.0" y="12.0" width="2.0" height="2.0" fill="#21918c"/>
<rect x="56.0" y="12.0" width="2.0" height="2.0" fill="#1f9e89" fill-opacity="0.62"/>
<rect x="58.0" y="12.0" width="2.0" height="2.0" fill="#1f9e89" fill-opacity="0.62"/>
<rect x="22.0" y="14.0" width="2.0" height="2.0" fill="#26828e" fill-opacity="0.62"/>
<rect x="24.0" y="14.0" width="2.0" height="2.0" fill="#1f9e89" fill-opacity="0.62"/>
<rect x="26.0" y="14.0" width="2.0" height="2.0" fill="#26828e"/>
<rect x="28.0" y="14.0" width="2.0" height="2.0" fill="#26828e"/>
<rect x="30.0" y="14.0" width="2.0" height="2.0" fill="#26828e"/>
<rect x="32.0" y="14.0" width="2.0" height="2.0" fill="#26828e"/>
<rect x="34.0" y="14.0" width="2.0" height="2.0" fill="#26828e"/>
<rect x="36.0" y="14.0" width="2.0" height="2.0" fill="#26828e"/>
<rect x="38.0" y="14.0" width="2.0" height="2.0" fill="#26828e"/>
<rect x="40.0" y="14.0" width="2.0" height="2.0" fill="#21918c"/>
<rect x="42.0" y="14.0" width="2.0" height="2.0" fill="#21918c"/>
<rect x="44.0" y="14.0" width="2.0" height="2.0" fill="#21918c"/>
<rect x="46.0" y="14.0" width="2.0" height="2.0" fill="#21918c"/>
<rect x="48.0" y="14.0" width="2.0" height="2.0" fill="#21918c"/>
<rect x="50.0" y="14.0" width="2.0" height="2.0" fill="#21918c"/>
<rect x="52.0" y="14.0" width="2.0" height="2.0" fill="#21918c"/>
<rect x="54.0" y="14.0" width="2.0" height="2.0" fill="#21918c"/>
<rect x="62.0" y="14.0" width="2.0" height="2.0" fill="#1f9e89" fill-opacity="0.62"/>
<rect x="64.0" y="14.0" width="2.0" height="2.0" fill="#1f9e89" fill-opacity="0.62"/>
<rect x="68.0" y="14.0" width="2.0" height="2.0" fill="#26828e" fill-opacity="0.62"/>
<rect x="10.0" y="16.0" width="2.0" height="2.0" fill="#26828e" fill-opacity="0.62"/>
<rect x="12.0" y="16.0" width="2.0" height="2.0" fill="#21918c"/>
<rect x="14.0" y="16.0" width="2.0" height="2.0" fill="#26828e" fill-opacity="0.62"/>
<rect x="22.0" y="16.0" width="2.0" height="2.0" fill="#26828e" fill-opacity="0.62"/>
<rect x="24.0" y="16.0" width="2.0" height="2.0" fill="#26828e"/>
<rect x="26.0" y="16.0" width="2.0" height="2.0" fill="#26828e"/>
<rect x="28.0" y="16.0" width="2.0" height="2.0" fill="#26828e"/>
<rect x="30.0" y="16.0" width="2.0" height="2.0" fill="#26828e"/>
<rect x="32.0" y="16.0" width="2.0" height="2.0" fill="#26828e"/>
<rect x="34.0" y="16.0" width="2.0" height="2.0" fill="#26828e"/>
<rect x="36.0" y="16.0" width="2.0" height="2.0" fill="#26828e"/>
<rect x="38.0" y="16.0" width="2.0" height="2.0" fill="#26828e"/>
<rect x="40.0" y="16.0" width="2.0" height="2.0" fill="#21918c"/>
<rect x="42.0" y="16.0" width="2.0" height="2.0" fill="#21918c"/>
<rect x="44.0" y="16.0" width="2.0" height="2.0" fill="#21918c"/>
<rect x="46.0" y="16.0" width="2.0" height="2.0" fill="#21918c"/>
<rect x="48.0" y="16.0" width="2.0" height="2.0" fill="#21918c"/>
<rect x="50.0" y="16.0" width="2.0" height="2.0" fill="#1f9e89"/>
<rect x="52.0" y="16.0" width="2.0" height="2.0" fill="#21918c"/>
<rect x="54.0" y="16.0" width="2.0" height="2.0" fill="#1f9e89"/>
<rect x="58.0" y="16.0" width="2.0" height="2.0" fill="#1f9e89" fill-opacity="0.62"/>
<rect x="64.0" y="16.0" width="2.0" height="2.0" fill="#1f9e89" fill-opacity="0.62"/>
<rect x="66.0" y="16.0" width="2.0" height="2.0" fill="#1f9e89" fill-opacity="0.62"/>
<rect x="68.0" y="16.0" width="2.0" height="2.0" fill="#1f9e89" fill-opacity="0.62"/>
<rect x="8.0" y="18.0" width="2.0" height="2.0" fill="#26828e" fill-opacity="0.62"/>
<rect x="10.0" y="18.0" width="2.0" height="2.0" fill="#26828e"/>
<rect x="12.0" y="18.0" width="2.0" height="2.0" fill="#26828e"/>
<rect x="14.0" y="18.0" width="2.0" height="2.0" fill="#21918c"/>
<rect x="20.0" y="18.0" width="2.0" height="2.0" fill="#26828e" fill-opacity="0.62"/>
<rect x="22.0" y="18.0" width="2.0" height="2.0" fill="#26828e"/>
<rect x="24.0" y="18.0" width="2.0" height="2.0" fill="#26828e"/>
<rect x="26.0" y="18.0" width="2.0" height="2.0" fill="#26828e"/>
<rect x="28.0" y="18.0" width="2.0" height="2.0" fill="#26828e"/>
<rect x="30.0" y="18.0" width="2.0" height="2.0" fill="#26828e"/>
<rect x="32.0" y="18.0" width="2.0" height="2.0" fill="#26828e"/>
<rect x="34.0" y="18.0" width="2.0" height="2.0" fill="#26828e"/>
<rect x="36.0" y="18.0" width="2.0" height="2.0" fill="#26828e"/>
<rect x="38.0" y="18.0" width="2.0" height="2.0" fill="#26828e"/>
<rect x="40.0" y="18.0" width="2.0" height="2.0" fill="#21918c"/>
<rect x="42.0" y="18.0" width="2.0" height="2.0" fill="#21918c"/>
<rect x="44.0" y="18.0" width="2.0" height="2.0" fill="#21918c"/>
<rect x="46.0" y="18.0" width="2.0" height="2.0" fill="#21918c"/>
<rect x="48.0" y="18.0" width="2.0" height="2.0" fill="#21918c"/>
<rect x="50.0" y="18.0" width="2.0" height="2.0" fill="#21918c"/>
<rect x="52.0" y="18.0" width="2.0" height="2.0" fill="#21918c"/>
<rect x="54.0" y="18.0" width="2.0" height="2.0" fill="#1f9e89" fill-opacity="0.62"/>
<rect x="58.0" y="18.0" width="2.0" height="2.0" fill="#1f9e89" fill-opacity="0.62"/>
<rect x="62.0" y="18.0" width="2.0" height="2.0" fill="#1f9e89" fill-opacity="0.62"/>
<rect x="64.0" y="18.0" width="2.0" height="2.0" fill="#1f9e89" fill-opacity="0.62"/>
<rect x="66.0" y="18.0" width="2.0" height="2.0" fill="#21918c"/>
<rect x="68.0" y="18.0" width="2.0" height="2.0" fill="#21918c"/>
<rect x="2.0" y="20.0" width="2.0" height="2.0" fill="#26828e" fill-opacity="0.62"/>
<rect x="4.0" y="20.0" width="2.0" height="2.0" fill="#26828e" fill-opacity="0.62"/>
<rect x="6.0" y="20.0" width="2.0" height="2.0" fill="#26828e" fill-opacity="0.62"/>
<rect x="8.0" y="20.0" width="2.0" height="2.0" fill="#1f9e89" fill-opacity="0.62"/>
<rect x="10.0" y="20.0" width="2.0" height="2.0" fill="#26828e"/>
<rect x="12.0" y="20.0" width="2.0" height="2.0" fill="#26828e"/>
<rect x="14.0" y="20.0" width="2.0" height="2.0" fill="#26828e"/>
<rect x="16.0" y="20.0" width="2.0" height="2.0" fill="#26828e" fill-opacity="0.62"/>
<rect x="18.0" y="20.0" width="2.0" height="2.0" fill="#26828e" fill-opacity="0.62"/>
<rect x="20.0" y="20.0" width="2.0" height="2.0" fill="#26828e" fill-opacity="0.62"/>
<rect x="22.0" y="20.0" width="2.0" height="2.0" fill="#26828e"/>
<rect x="24.0" y="20.0" width="2.0" height="2.0" fill="#26828e"/>
<rect x="26.0" y="20.0" width="2.0" height="2.0" fill="#26828e"/>
<rect x="28.0" y="20.0" width="2.0" height="2.0" fill="#26828e"/>
<rect x="30.0" y="20.0" width="2.0" height="2.0" fill="#26828e"/>
<rect x="32.0" y="20.0" width="2.0" height="2.0" fill="#21918c"/>
<rect x="34.0" y="20.0" width="2.0" height="2.0" fill="#21918c"/>
<rect x="36.0" y="20.0" width="2.0" height="2.0" fill="#21918c"/>
<rect x="38.0" y="20.0" width="2.0" height="2.0" fill="#21918c"/>
<rect x="40.0" y="20.0" width="2.0" height="2.0" fill="#26828e"/>
<rect x="42.0" y="20.0" width="2.0" height="2.0" fill="#26828e"/>
<rect x="44.0" y="20.0" width="2.0" height="2.0" fill="#21918c"/>
<rect x="46.0" y="20.0" width="2.0" height="2.0" fill="#1f9e89" fill-opacity="0.62"/>
<rect x="48.0" y="20.0" width="2.0" height="2.0" fill="#21918c"/>
<rect x="50.0" y="20.0" width="2.0" height="2.0" fill="#1f9e89"/>
<rect x="52.0" y="20.0" width="2.0" height="2.0" fill="#1f9e89" fill-opacity="0.62"/>
<rect x="54.0" y="20.0" width="2.0" height="2.0" fill="#21918c"/>
<rect x="56.0" y="20.0" width="2.0" height="2.0" fill="#1f9e89" fill-opacity="0.62"/>
<rect x="62.0" y="20.0" width="2.0" height="2.0" fill="#21918c"/>
<rect x="64.0" y="20.0" width="2.0" height="2.0" fill="#21918c"/>
<rect x="66.0" y="20.0" width="2.0" height="2.0" fill="#21918c"/>
<rect x="68.0" y="20.0" width="2.0" height="2.0" fill="#21918c"/>
<rect x="2.0" y="22.0" width="2.0" height="2.0" fill="#26828e"/>
<rect x="4.0" y="22.0" width="2.0" height="2.0" fill="#26828e"/>
<rect x="6.0" y="22.0" width="2.0" height="2.0" fill="#26828e"/>
<rect x="8.0" y="22.0" width="2.0" height="2.0" fill="#26828e"/>
<rect x="10.0" y="22.0" width="2.0" height="2.0" fill="#26828e" fill-opacity="0.62"/>
<rect x="12.0" y="22.0" width="2.0" height="2.0" fill="#26828e"/>
<rect x="14.0" y="22.0" width="2.0" height="2.0" fill="#21918c"/>
<rect x="16.0" y="22.0" width="2.0" height="2.0" fill="#26828e" fill-opacity="0.62"/>
<rect x="18.0" y="22.0" width="2.0" height="2.0" fill="#26828e"/>
<rect x="20.0" y="22.0" width="2.0" height="2.0" fill="#26828e"/>
<rect x="22.0" y="22.0" width="2.0" height="2.0" fill="#21918c"/>
<rect x="24.0" y="22.0" width="2.0" height="2.0" fill="#21918c"/>
<rect x="26.0" y="22.0" width="2.0" height="2.0" fill="#21918c"/>
<rect x="28.0" y="22.0" width="2.0" height="2.0" fill="#21918c"/>
<rect x="30.0" y="22.0" width="2.0" height="2.0" fill="#1f9e89"/>
<rect x="32.0" y="22.0" width="2.0" height="2.0" fill="#21918c"/>
<rect x="34.0" y="22.0" width="2.0" height="2.0" fill="#26828e" fill-opacity="0.62"/>
<rect x="36.0" y="22.0" width="2.0" height="2.0" fill="#26828e" fill-opacity="0.62"/>
<rect x="38.0" y="22.0" width="2.0" height="2.0" fill="#26828e" fill-opacity="0.62"/>
<rect x="40.0" y="22.0" width="2.0" height="2.0" fill="#26828e"/>
<rect x="42.0" y="22.0" width="2.0" height="2.0" fill="#26828e" fill-opacity="0.62"/>
<rect x="46.0" y="22.0" width="2.0" height="2.0" fill="#26828e" fill-opacity="0.62"/>
<rect x="48.0" y="22.0" width="2.0" height="2.0" fill="#21918c"/>
<rect x="50.0" y="22.0" width="2.0" height="2.0" fill="#1f9e89"/>
<rect x="52.0" y="22.0" width="2.0" height="2.0" fill="#1f9e89" fill-opacity="0.62"/>
<rect x="54.0" y="22.0" width="2.0" height="2.0" fill="#21918c"/>
<rect x="56.0" y="22.0" width="2.0" height="2.0" fill="#26828e" fill-opacity="0.62"/>
<rect x="62.0" y="22.0" width="2.0" height="2.0" fill="#26828e" fill-opacity="0.62"/>
<rect x="64.0" y="22.0" width="2.0" height="2.0" fill="#2b758e"/>
<rect x="66.0" y="22.0" width="2.0" height="2.0" fill="#2b758e"/>
<rect x="68.0" y="22.0" width="2.0" height="2.0" fill="#21918c"/>
<rect x="2.0" y="24.0" width="2.0" height="2.0" fill="#1f9e89"/>
<rect x="4.0" y="24.0" width="2.0" height="2.0" fill="#1f9e89"/>
<rect x="6.0" y="24.0" width="2.0" height="2.0" fill="#1f9e89"/>
<rect x="8.0" y="24.0" width="2.0" height="2.0" fill="#1f9e89"/>
<rect x="10.0" y="24.0" width="2.0" height="2.0" fill="#1f9e89"/>
<rect x="12.0" y="24.0" width="2.0" height="2.0" fill="#1f9e89"/>
<rect x="14.0" y="24.0" width="2.0" height="2.0" fill="#21918c"/>
<rect x="16.0" y="24.0" width="2.0" height="2.0" fill="#21918c"/>
<rect x="18.0" y="24.0" width="2.0" height="2.0" fill="#26828e"/>
<rect x="20.0" y="24.0" width="2.0" height="2.0" fill="#21918c"/>
<rect x="22.0" y="24.0" width="2.0" height="2.0" fill="#21918c"/>
<rect x="24.0" y="24.0" width="2.0" height="2.0" fill="#21918c"/>
<rect x="26.0" y="24.0" width="2.0" height="2.0" fill="#21918c"/>
<rect x="28.0" y="24.0" width="2.0" height="2.0" fill="#1f9e89"/>
<rect x="30.0" y="24.0" width="2.0" height="2.0" fill="#1f9e89"/>
<rect x="32.0" y="24.0" width="2.0" height="2.0" fill="#1f9e89"/>
<rect x="34.0" y="24.0" width="2.0" height="2.0" fill="#21918c"/>
<rect x="36.0" y="24.0" width="2.0" height="2.0" fill="#21918c"/>
<rect x="38.0" y="24.0" width="2.0" height="2.0" fill="#26828e" fill-opacity="0.62"/>
<rect x="44.0" y="24.0" width="2.0" height="2.0" fill="#26828e" fill-opacity="0.62"/>
<rect x="46.0" y="24.0" width="2.0" height="2.0" fill="#21918c"/>
<rect x="48.0" y="24.0" width="2.0" height="2.0" fill="#21918c"/>
<rect x="50.0" y="24.0" width="2.0" height="2.0" fill="#1f9e89"/>
<rect x="52.0" y="24.0" width="2.0" height="2.0" fill="#21918c"/>
<rect x="54.0" y="24.0" width="2.0" height="2.0" fill="#21918c"/>
<rect x="56.0" y="24.0" width="2.0" height="2.0" fill="#26828e" fill-opacity="0.62"/>
<rect x="58.0" y="24.0" width="2.0" height="2.0" fill="#26828e" fill-opacity="0.62"/>
<rect x="64.0" y="24.0" width="2.0" height="2.0" fill="#2b758e"/>
<rect x="66.0" y="24.0" width="2.0" height="2.0" fill="#2b758e"/>
<rect x="68.0" y="24.0" width="2.0" height="2.0" fill="#26828e" fill-opacity="0.62"/>
<rect x="2.0" y="26.0" width="2.0" height="2.0" fill="#1f9e89"/>
<rect x="4.0" y="26.0" width="2.0" height="2.0" fill="#1f9e89"/>
<rect x="6.0" y="26.0" width="2.0" height="2.0" fill="#1f9e89"/>
<rect x="8.0" y="26.0" width="2.0" height="2.0" fill="#1f9e89"/>
<rect x="10.0" y="26.0" width="2.0" height="2.0" fill="#1f9e89"/>
<rect x="12.0" y="26.0" width="2.0" height="2.0" fill="#1f9e89"/>
<rect x="14.0" y="26.0" width="2.0" height="2.0" fill="#21918c"/>
<rect x="16.0" y="26.0" width="2.0" height="2.0" fill="#26828e"/>
<rect x="18.0" y="26.0" width="2.0" height="2.0" fill="#26828e"/>
<rect x="20.0" y="26.0" width="2.0" height="2.0" fill="#21918c"/>
<rect x="22.0" y="26.0" width="2.0" height="2.0" fill="#21918c"/>
<rect x="24.0" y="26.0" width="2.0" height="2.0" fill="#21918c"/>
<rect x="26.0" y="26.0" width="2.0" height="2.0" fill="#21918c"/>
<rect x="28.0" y="26.0" width="2.0" height="2.0" fill="#1f9e89"/>
<rect x="30.0" y="26.0" width="2.0" height="2.0" fill="#1f9e89"/>
<rect x="32.0" y="26.0" width="2.0" height="2.0" fill="#21918c"/>
<rect x="34.0" y="26.0" width="2.0" height="2.0" fill="#21918c"/>
<rect x="36.0" y="26.0" width="2.0" height="2.0" fill="#21918c"/>
<rect x="38.0" y="26.0" width="2.0" height="2.0" fill="#26828e" fill-opacity="0.62"/>
<rect x="40.0" y="26.0" width="2.0" height="2.0" fill="#26828e" fill-opacity="0.62"/>
<rect x="44.0" y="26.0" width="2.0" height="2.0" fill="#21918c"/>
<rect x="46.0" y="26.0" width="2.0" height="2.0" fill="#26828e"/>
<rect x="48.0" y="26.0" width="2.0" height="2.0" fill="#26828e"/>
<rect x="50.0" y="26.0" width="2.0" height="2.0" fill="#35b779"/>
<rect x="52.0" y="26.0" width="2.0" height="2.0" fill="#21918c"/>
<rect x="54.0" y="26.0" width="2.0" height="2.0" fill="#21918c"/>
<rect x="56.0" y="26.0" width="2.0" height="2.0" fill="#26828e" fill-opacity="0.62"/>
<rect x="58.0" y="26.0" width="2.0" height="2.0" fill="#26828e" fill-opacity="0.62"/>
<rect x="60.0" y="26.0" width="2.0" height="2.0" fill="#1f9e89"/>
<rect x="4.0" y="28.0" width="2.0" height="2.0" fill="#1f9e89"/>
<rect x="6.0" y="28.0" width="2.0" height="2.0" fill="#1f9e89"/>
<rect x="8.0" y="28.0" width="2.0" height="2.0" fill="#1f9e89"/>
<rect x="10.0" y="28.0" width="2.0" height="2.0" fill="#1f9e89"/>
<rect x="12.0" y="28.0" width="2.0" height="2.0" fill="#1f9e89"/>
<rect x="14.0" y="28.0" width="2.0" height="2.0" fill="#1f9e89"/>
<rect x="16.0" y="28.0" width="2.0" height="2.0" fill="#21918c"/>
<rect x="18.0" y="28.0" width="2.0" height="2.0" fill="#26828e"/>
<rect x="20.0" y="28.0" width="2.0" height="2.0" fill="#21918c"/>
<rect x="22.0" y="28.0" width="2.0" height="2.0" fill="#21918c"/>
<rect x="24.0" y="28.0" width="2.0" height="2.0" fill="#21918c"/>
<rect x="26.0" y="28.0" width="2.0" height="2.0" fill="#21918c"/>
<rect x="28.0" y="28.0" width="2.0" height="2.0" fill="#21918c"/>
<rect x="30.0" y="28.0" width="2.0" height="2.0" fill="#21918c"/>
<rect x="32.0" y="28.0" width="2.0" height="2.0" fill="#21918c"/>
<rect x="34.0" y="28.0" width="2.0" height="2.0" fill="#21918c"/>
<rect x="36.0" y="28.0" width="2.0" height="2.0" fill="#21918c"/>
<rect x="38.0" y="28.0" width="2.0" height="2.0" fill="#26828e" fill-opacity="0.62"/>
<rect x="44.0" y="28.0" width="2.0" height="2.0" fill="#26828e"/>
<rect x="46.0" y="28.0" width="2.0" height="2.0" fill="#26828e"/>
<rect x="48.0" y="28.0" width="2.0" height="2.0" fill="#21918c"/>
<rect x="50.0" y="28.0" width="2.0" height="2.0" fill="#21918c"/>
<rect x="52.0" y="28.0" width="2.0" height="2.0" fill="#21918c"/>
<rect x="54.0" y="28.0" width="2.0" height="2.0" fill="#21918c"/>
<rect x="56.0" y="28.0" width="2.0" height="2.0" fill="#26828e" fill-opacity="0.62"/>
<rect x="58.0" y="28.0" width="2.0" height="2.0" fill="#26828e" fill-opacity="0.62"/>
<rect x="60.0" y="28.0" width="2.0" height="2.0" fill="#1f9e89"/>
</g>
</g>
<path d="M12.55 2.90 L12.46 2.57 L12.83 2.20 L12.97 1.92 L12.63 1.63 L12.90 0.97 L12.50 0.37 L12.93 0.29 L12.97 -0.19 L13.14 -0.33 L13.15 -1.11 M17.83 4.83 L18.21 5.47 L18.27 6.08 L18.61 7.14 L18.88 7.35 L18.69 7.74 L17.38 7.91 L16.93 8.28 L16.35 8.36 L16.31 9.10 L15.14 9.50 L14.76 10.00 L13.94 10.27 L12.94 10.42 L11.33 11.16 L11.33 12.34 M6.86 12.36 L11.18 12.34 L11.33 12.34 M11.18 12.34 L11.21 12.88 L11.31 14.12 L8.03 14.07 L8.06 16.62 L7.13 16.71 L6.88 17.23 L7.07 18.67 L3.16 18.67 M11.32 12.60 L15.08 15.02 M15.08 15.02 L13.55 15.04 L14.03 19.36 L14.51 23.68 L14.68 23.80 L14.46 24.50 L10.45 24.51 L10.30 24.74 L9.91 24.67 L9.35 24.87 L8.65 24.59 L8.33 24.61 L8.17 25.20 L8.07 25.62 L7.83 25.38 M7.83 25.38 L7.17 24.70 L6.56 23.96 L5.90 23.70 L5.42 23.40 L4.86 23.41 L4.38 23.63 L3.88 23.54 L3.54 23.86 M7.83 25.38 L7.88 26.01 L8.07 26.58 L8.45 26.86 L8.53 27.24 L8.49 27.56 L8.34 27.61 L7.80 27.53 L7.72 27.65 L7.50 27.67 L6.78 27.42 L6.30 27.41 L4.45 27.37 L4.18 27.48 L3.85 27.45 L3.32 27.62 M6.30 27.41 L6.28 27.75 L6.17 27.86 L6.26 28.19 L6.10 28.32 L5.88 28.32 L5.62 28.49 L5.31 28.47 L4.87 28.96 M3.16 26.85 L4.07 26.87 L4.31 26.73 L4.49 26.72 L4.86 26.49 L5.29 26.70 L5.72 26.72 L6.15 26.49 L5.95 26.21 L5.62 26.37 L5.31 26.37 L4.92 26.12 L4.60 26.14 L4.38 26.38 L3.29 26.41 M8.49 27.56 L8.54 27.92 L8.70 27.92 L9.13 27.82 L9.41 28.08 L9.84 28.16 L10.11 27.94 L10.43 27.81 L10.67 27.67 L10.87 27.69 L11.10 27.91 L11.21 28.19 L11.62 28.61 L11.42 28.86 L11.38 29.19 L11.59 29.09 L11.72 29.21 L11.66 29.51 L11.97 29.79 L12.10 29.70 L12.38 29.85 L13.15 29.86 L13.33 29.57 L13.51 29.59 L13.79 29.48 L13.95 29.90 L14.18 29.78 L14.60 29.63 L14.53 29.05 L14.80 28.62 L14.78 28.29 L15.57 27.46 L15.72 26.77 L15.99 26.53 L16.48 26.66 L16.90 26.46 L17.03 26.20 L17.81 25.75 L18.00 25.44 L18.93 25.03 L19.48 24.88 L19.73 25.08 L20.38 25.07 M11.97 29.79 L11.77 29.87 L11.69 30.21 L11.92 30.62 L12.20 31.40 M9.41 28.08 L9.70 29.00 L9.50 29.70 L9.80 30.50 M20.38 25.07 L20.30 25.56 L20.43 26.01 L20.99 26.66 L21.02 27.15 L22.18 27.38 L22.15 28.06 L21.94 28.36 L21.45 28.45 L21.24 28.89 L20.90 29.00 L20.02 28.98 L19.56 28.90 L19.24 29.06 L18.80 28.99 L17.06 29.04 L17.04 29.61 L17.17 30.36 L16.49 30.10 L16.02 30.14 L15.67 30.39 L15.22 30.18 L15.04 29.85 L14.60 29.63 M20.90 29.00 L20.77 29.53 L21.08 29.82 L21.43 30.18 L21.46 30.66 L21.66 30.87 L21.65 31.50 M20.02 28.98 L19.95 29.29 L20.37 29.81 L20.37 30.54 L20.46 31.32 M22.15 28.06 L22.49 27.77 L22.85 27.76 L23.61 28.34 L23.57 28.67 L23.80 29.27 L23.60 29.67 L23.70 29.94 L23.22 30.56 L22.91 30.86 L22.72 31.49 M20.38 25.07 L21.02 25.03 L21.39 24.68 L22.75 24.59 L23.64 24.43 L23.72 23.82 L24.27 23.15 L24.27 20.84 M15.08 15.02 L18.45 17.21 L21.82 19.39 L22.06 19.86 L22.68 20.14 L23.15 20.31 L23.16 20.94 L24.27 20.84 M24.27 20.84 L25.68 20.40 L28.57 18.43 L32.00 16.53 M23.61 28.34 L23.68 27.45 L23.97 27.04 L24.11 26.47 L24.37 26.25 L25.44 26.13 L26.45 26.51 L26.82 26.88 L27.33 26.90 L27.80 26.66 L29.02 27.17 L29.52 27.15 L30.12 26.72 L30.70 26.75 L30.99 26.61 L31.53 26.67 L32.30 26.96 L33.08 26.40 L33.32 26.44 L33.99 27.54 L34.18 27.52 L34.21 27.20 L34.50 27.14 L34.60 26.67 L33.95 26.65 L33.96 26.00 L33.54 25.63 L33.97 24.32 L35.25 23.37 L35.30 22.07 L35.69 20.04 L35.90 19.61 L35.49 19.27 L35.47 18.95 L35.10 18.69 L34.85 17.14 M32.00 16.53 L33.58 16.96 L34.14 17.51 L34.85 17.14 L35.86 16.59 L39.85 18.50 L43.84 20.42 M34.18 27.52 L34.58 27.91 L34.47 28.09 L34.41 28.43 L33.57 29.20 L33.31 29.84 L33.17 30.36 L32.95 30.58 L32.75 31.28 M34.50 27.14 L34.89 27.78 L34.96 28.44 L34.92 29.11 L35.47 30.02 L34.91 30.01 L34.63 30.08 L34.17 29.98 L33.95 30.45 L34.54 31.03 M35.47 30.02 L35.28 31.00 M34.54 31.03 L34.98 31.20 L35.12 31.62 L35.44 32.31 M42.86 28.86 L42.23 29.03 L41.72 29.43 L41.00 30.52 L40.06 30.99 L39.09 30.93 L38.81 31.02 L38.91 31.37 L38.39 31.72 M43.84 20.42 L43.89 24.39 L43.02 24.32 L42.57 25.06 L42.30 25.67 L42.51 25.91 L42.18 26.21 L42.30 26.63 L42.04 27.05 L41.94 27.41 L42.29 27.35 L42.50 27.74 L42.50 28.32 L42.88 28.62 L42.86 28.86 L42.98 29.29 L43.55 29.91 L43.56 30.32 L43.39 30.73 L43.46 31.05 L43.81 31.33 M43.84 20.42 L43.85 20.00 L45.00 20.00 L45.00 18.00 L45.00 10.76 L44.70 9.96 L44.96 9.34 L44.80 8.91 L45.16 8.43 M45.00 18.00 L56.87 18.00 M43.89 31.38 L44.19 31.27 L44.54 31.08 L44.80 30.19 L45.07 29.73 L45.79 29.59 L45.96 29.86 L46.48 30.45 L46.75 30.53 L47.11 30.36 L47.83 30.40 L47.97 30.60 L48.97 30.60 L49.00 30.40 L49.52 30.21 L49.62 29.91 L50.00 29.71 L50.84 30.29 L51.35 30.19 L51.85 29.47 L52.40 28.92 L52.31 28.32 L52.07 28.03 L52.67 27.98 L52.74 27.75 L53.21 27.82 L53.09 28.56 L53.21 29.28 L53.72 29.68 L53.84 30.02 L53.83 30.52 L53.96 30.54 M53.96 30.54 L54.26 29.37 L54.73 29.09 L54.83 28.68 L55.26 27.92 L55.86 27.42 L56.27 26.44 L56.43 25.58 L56.32 25.18 L56.75 23.71 L56.85 23.04 L57.17 22.74 L57.90 22.57 L58.41 22.00 M56.43 25.58 L57.59 25.79 L57.91 25.04 L58.51 25.49 L59.10 25.26 L59.34 25.47 L60.03 25.48 L60.90 25.88 L61.16 26.23 L61.60 26.55 L62.01 27.13 L62.35 27.46 L62.78 27.55 L63.08 27.30 M62.35 27.46 L62.00 27.90 L61.66 28.37 L61.74 28.64 L61.76 28.95 L62.31 28.97 L62.55 28.89 L62.78 29.07 L63.15 28.54 M62.78 29.07 L62.56 29.43 L62.93 29.98 L63.30 30.46 L63.68 30.82 M68.95 28.59 L68.95 30.55 M28.42 3.05 L28.22 3.57 L28.38 4.52 L28.14 5.34 L27.52 5.90 L27.61 6.66 L28.43 7.25 L28.44 7.49 L29.06 7.90 L29.48 9.69 M29.48 9.69 L29.81 10.57 L29.86 11.04 L29.68 11.86 L29.76 12.31 L29.63 12.86 L29.72 13.49 L29.32 13.91 L29.91 14.64 L29.95 15.06 L30.30 15.62 L30.77 15.44 L31.56 15.90 L32.00 16.53 M29.48 9.69 L29.97 9.46 L30.06 9.04 L29.95 8.62 L30.64 8.24 L30.95 7.92 L31.43 7.63 L31.49 6.86 M54.27 8.78 L54.92 10.50 M54.92 10.50 L55.42 8.90 L55.40 8.51 L55.55 8.22 L55.55 7.61 L55.72 7.29 L55.84 7.13 L55.82 6.72 L55.55 6.74 L55.46 6.91 L55.13 6.91 M54.96 10.64 L56.07 10.80 L56.50 10.50 L56.74 10.14 L57.50 10.00 L57.67 9.66 L58.00 9.49 L57.00 8.49 L59.01 7.99 L59.20 7.84 M55.72 7.29 L56.83 7.69 L58.79 6.62 L59.20 7.84 M55.82 6.72 L56.07 6.17 L56.61 5.80 L56.45 5.41 L56.00 5.35 M59.20 7.84 L60.40 8.11 L61.89 8.81 L64.71 10.82 L66.57 10.90 L67.46 11.00 L67.71 11.47 L68.42 11.45 M66.57 10.90 L67.30 9.94 L67.97 10.02 M58.79 6.62 L61.01 5.58 L61.38 4.37 L61.29 3.64 L61.84 3.39 L62.35 2.77 M56.15 4.18 L56.42 3.96 L56.69 3.74 L56.74 3.18 L57.07 3.38 L58.17 3.10 L58.70 3.29 L59.52 3.28 L60.67 2.91 L61.21 2.93 L62.35 2.77 L62.78 2.62 L63.94 2.74 L64.29 3.00 L64.77 2.83 M64.77 2.83 L65.42 4.02 L66.08 4.32 L66.15 4.91 L65.65 5.25 L65.42 6.03 L66.11 6.98 L67.34 7.53 L67.85 8.29 L67.69 9.02 L68.00 9.02 L68.02 9.55 L68.57 10.07 M64.77 2.83 L64.23 2.03 L64.42 1.72 L64.11 0.57 L64.79 0.29 L64.50 0.00 L63.60 -0.30 L63.60 -1.10 M64.79 0.29 L64.95 0.66 L65.46 1.13 L66.14 1.26 L66.51 1.23 L67.69 0.49 L68.06 0.42 L68.36 0.71 L68.01 1.21 L68.63 1.73 L68.88 1.68 M64.79 0.29 L65.60 0.00 L65.90 -0.60 L65.00 -1.30 M66.51 1.23 L66.40 0.70 L65.80 0.20 L65.30 0.00 M62.78 23.65 L63.22 23.33 L63.12 22.91 L63.38 22.42 L63.79 22.68 L64.06 22.59 L65.22 22.57 L65.40 22.67 L66.37 22.77 L66.75 22.72 L67.00 23.05 L67.47 22.88 L68.18 21.83 L69.12 21.38 L72.00 21.00 M40.15 0.38 L40.61 -0.11 L40.67 -0.44 L41.00 -0.58 L41.02 -0.84 L41.67 -0.93 L42.05 -1.15 M46.06 -0.82 L46.30 -0.94 L46.60 -1.56" stroke="#2a2a2a" stroke-width="0.45" stroke-opacity="0.8" vector-effect="non-scaling-stroke" fill="none" stroke-linejoin="round"/>
</svg>
<rect x="271.5" y="135.5" width="218.0" height="95.0" fill="none" stroke="#7a7a7a" stroke-width="1"/>
<text x="144.5" y="13.9" font-size="8.6" text-anchor="middle" font-family="'Liberation Sans', sans-serif" fill="#1a1a1a">20230314</text>
<text x="380" y="13.9" font-size="8.6" text-anchor="middle" font-family="'Liberation Sans', sans-serif" fill="#1a1a1a">20240115</text>
<text x="6.2" y="59.4" font-size="8.6" font-weight="bold" font-family="'Liberation Sans', sans-serif" fill="#1a1a1a">(a)</text>
<text x="6.2" y="69.6" font-size="8.6" font-family="'Liberation Sans', sans-serif" fill="#1a1a1a">v1.8</text>
<text x="6.2" y="174.4" font-size="8.6" font-weight="bold" font-family="'Liberation Sans', sans-serif" fill="#1a1a1a">(b)</text>
<text x="6.2" y="183.6" font-size="8.6" font-family="'Liberation Sans', sans-serif" fill="#1a1a1a">v2.0</text>
<text x="34.0" y="21.7" font-size="3.6" text-anchor="end" font-family="'Liberation Sans', sans-serif" fill="#333">40° N</text>
<text x="34.0" y="53.4" font-size="3.6" text-anchor="end" font-family="'Liberation Sans', sans-serif" fill="#333">30° N</text>
<text x="34.0" y="85.0" font-size="3.6" text-anchor="end" font-family="'Liberation Sans', sans-serif" fill="#333">20° N</text>
<text x="34.0" y="116.7" font-size="3.6" text-anchor="end" font-family="'Liberation Sans', sans-serif" fill="#333">10° N</text>
<text x="34.0" y="136.7" font-size="3.6" text-anchor="end" font-family="'Liberation Sans', sans-serif" fill="#333">40° N</text>
<text x="34.0" y="168.4" font-size="3.6" text-anchor="end" font-family="'Liberation Sans', sans-serif" fill="#333">30° N</text>
<text x="34.0" y="200.0" font-size="3.6" text-anchor="end" font-family="'Liberation Sans', sans-serif" fill="#333">20° N</text>
<text x="34.0" y="231.7" font-size="3.6" text-anchor="end" font-family="'Liberation Sans', sans-serif" fill="#333">10° N</text>
<text x="36.5" y="234.7" font-size="3.6" text-anchor="middle" font-family="'Liberation Sans', sans-serif" fill="#333">20° W</text>
<text x="67.5" y="234.7" font-size="3.6" text-anchor="middle" font-family="'Liberation Sans', sans-serif" fill="#333">10° W</text>
<text x="98.5" y="234.7" font-size="3.6" text-anchor="middle" font-family="'Liberation Sans', sans-serif" fill="#333">0°</text>
<text x="129.5" y="234.7" font-size="3.6" text-anchor="middle" font-family="'Liberation Sans', sans-serif" fill="#333">10° E</text>
<text x="160.5" y="234.7" font-size="3.6" text-anchor="middle" font-family="'Liberation Sans', sans-serif" fill="#333">20° E</text>
<text x="191.5" y="234.7" font-size="3.6" text-anchor="middle" font-family="'Liberation Sans', sans-serif" fill="#333">30° E</text>
<text x="222.5" y="234.7" font-size="3.6" text-anchor="middle" font-family="'Liberation Sans', sans-serif" fill="#333">40° E</text>
<text x="253.5" y="234.7" font-size="3.6" text-anchor="middle" font-family="'Liberation Sans', sans-serif" fill="#333">50° E</text>
<text x="271.5" y="234.7" font-size="3.6" text-anchor="middle" font-family="'Liberation Sans', sans-serif" fill="#333">20° W</text>
<text x="302.6" y="234.7" font-size="3.6" text-anchor="middle" font-family="'Liberation Sans', sans-serif" fill="#333">10° W</text>
<text x="333.8" y="234.7" font-size="3.6" text-anchor="middle" font-family="'Liberation Sans', sans-serif" fill="#333">0°</text>
<text x="364.9" y="234.7" font-size="3.6" text-anchor="middle" font-family="'Liberation Sans', sans-serif" fill="#333">10° E</text>
<text x="396.1" y="234.7" font-size="3.6" text-anchor="middle" font-family="'Liberation Sans', sans-serif" fill="#333">20° E</text>
<text x="427.2" y="234.7" font-size="3.6" text-anchor="middle" font-family="'Liberation Sans', sans-serif" fill="#333">30° E</text>
<text x="458.4" y="234.7" font-size="3.6" text-anchor="middle" font-family="'Liberation Sans', sans-serif" fill="#333">40° E</text>
<text x="489.5" y="234.7" font-size="3.6" text-anchor="middle" font-family="'Liberation Sans', sans-serif" fill="#333">50° E</text>
<line x1="5" y1="125.5" x2="495" y2="125.5" stroke="#efefef" stroke-width="1"/>
<line x1="263.5" y1="5" x2="263.5" y2="236.5" stroke="#efefef" stroke-width="1"/>
<text x="260.3" y="244.6" font-size="6.9" text-anchor="middle" font-family="'Liberation Sans', sans-serif" fill="#1a1a1a">XCH<tspan font-size="4.6" dy="1.3">4</tspan><tspan dy="-1.3"> (ppb)</tspan></text>
<polygon points="150.9,253.4 161.6,247.9 161.6,258.9" fill="#0a0612"/>
<polygon points="358,247.9 369.0,253.4 358,258.9" fill="#fbfaa0"/>
<rect x="161" y="247.9" width="197.6" height="11" fill="url(#cbar)"/>
<path d="M150.9 253.4 L161.2 247.9 H358.4 L369 253.4 L358.4 258.9 H161.2 Z" fill="none" stroke="#c8c8c8" stroke-width="0.5"/>
<text x="161.5" y="265.7" font-size="6.4" text-anchor="middle" font-family="'Liberation Sans', sans-serif" fill="#1a1a1a">1820</text>
<text x="183.3" y="265.7" font-size="6.4" text-anchor="middle" font-family="'Liberation Sans', sans-serif" fill="#1a1a1a">1840</text>
<text x="205.1" y="265.7" font-size="6.4" text-anchor="middle" font-family="'Liberation Sans', sans-serif" fill="#1a1a1a">1860</text>
<text x="226.9" y="265.7" font-size="6.4" text-anchor="middle" font-family="'Liberation Sans', sans-serif" fill="#1a1a1a">1880</text>
<text x="248.7" y="265.7" font-size="6.4" text-anchor="middle" font-family="'Liberation Sans', sans-serif" fill="#1a1a1a">1900</text>
<text x="270.6" y="265.7" font-size="6.4" text-anchor="middle" font-family="'Liberation Sans', sans-serif" fill="#1a1a1a">1920</text>
<text x="292.4" y="265.7" font-size="6.4" text-anchor="middle" font-family="'Liberation Sans', sans-serif" fill="#1a1a1a">1940</text>
<text x="314.2" y="265.7" font-size="6.4" text-anchor="middle" font-family="'Liberation Sans', sans-serif" fill="#1a1a1a">1960</text>
<text x="336.0" y="265.7" font-size="6.4" text-anchor="middle" font-family="'Liberation Sans', sans-serif" fill="#1a1a1a">1980</text>
<text x="357.8" y="265.7" font-size="6.4" text-anchor="middle" font-family="'Liberation Sans', sans-serif" fill="#1a1a1a">2000</text>
</svg></body></html>
